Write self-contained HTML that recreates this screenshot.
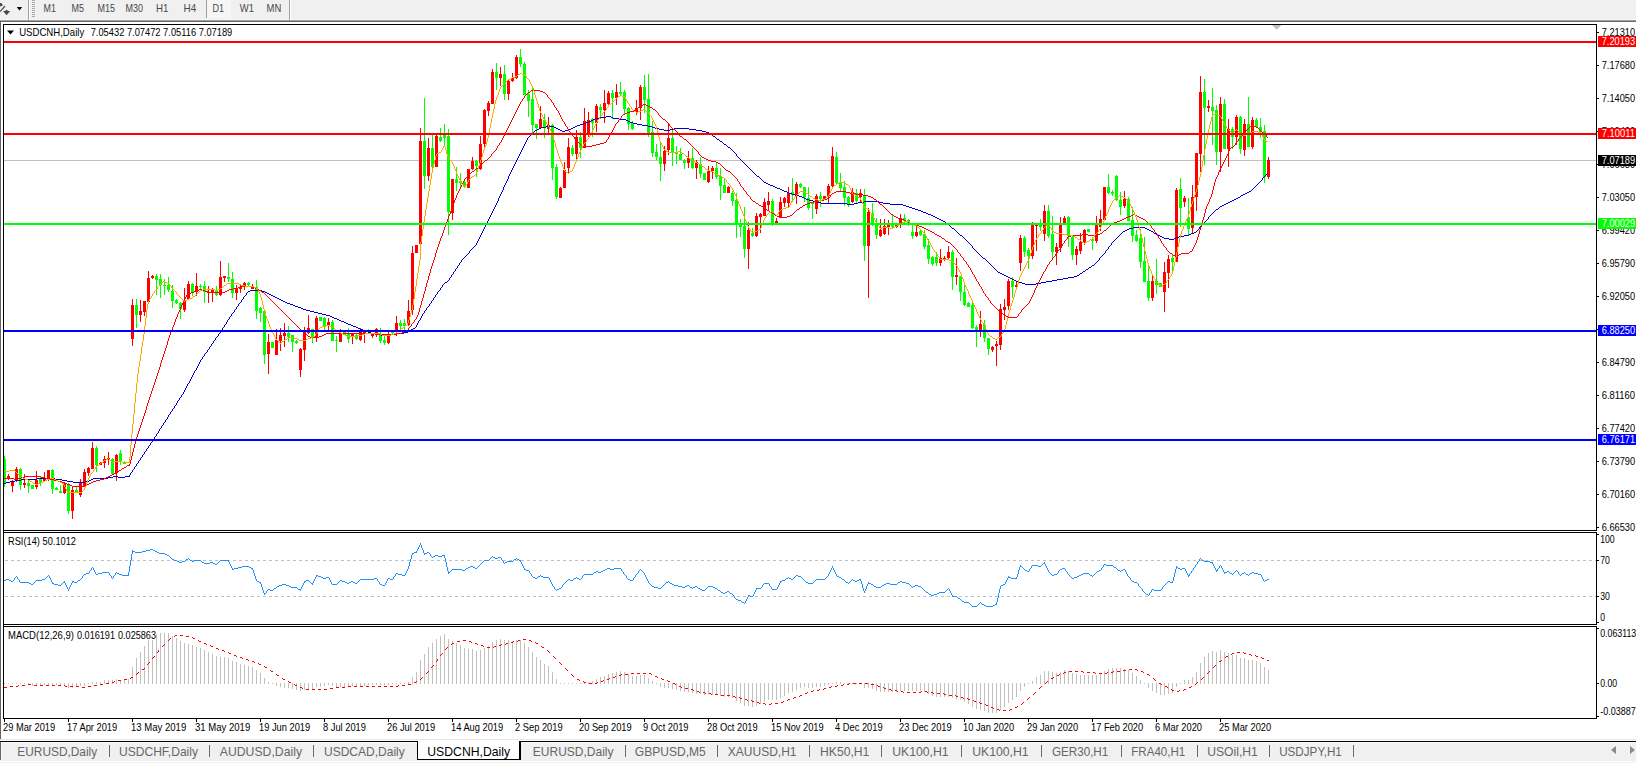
<!DOCTYPE html>
<html><head><meta charset="utf-8"><title>USDCNH,Daily</title>
<style>
html,body{margin:0;padding:0;background:#fff;}
body{width:1636px;height:763px;overflow:hidden;position:relative;font-family:"Liberation Sans", sans-serif;}
svg{position:absolute;left:0;top:0;display:block;}
text{font-family:"Liberation Sans", sans-serif;}
.ax{font-size:10.4px;fill:#000;}
.axw{font-size:10.4px;fill:#fff;}
.tf{font-size:10.4px;fill:#484848;}
.tab{font-size:12.6px;fill:#666;}
.taba{font-size:12.6px;fill:#000;}
</style></head><body>
<svg width="1636" height="763" viewBox="0 0 1636 763">
<g shape-rendering="crispEdges">
<rect x="0" y="0" width="1636" height="19" fill="#f0f0f0"/>
<rect x="0" y="19" width="1636" height="1" fill="#f8f8f8"/>
<rect x="0" y="20" width="1636" height="1" fill="#a0a0a0"/>
<rect x="0" y="21" width="1636" height="1" fill="#696969"/>
<rect x="28" y="0" width="1" height="20" fill="#a0a0a0"/>
<rect x="29" y="0" width="1" height="20" fill="#ffffff"/>
<rect x="289" y="0" width="1" height="20" fill="#a0a0a0"/>
<rect x="290" y="0" width="1" height="20" fill="#ffffff"/>
<rect x="32" y="0" width="3" height="1" fill="#a8a8a8"/>
<rect x="32" y="2" width="3" height="1" fill="#a8a8a8"/>
<rect x="32" y="4" width="3" height="1" fill="#a8a8a8"/>
<rect x="32" y="6" width="3" height="1" fill="#a8a8a8"/>
<rect x="32" y="8" width="3" height="1" fill="#a8a8a8"/>
<rect x="32" y="10" width="3" height="1" fill="#a8a8a8"/>
<rect x="32" y="12" width="3" height="1" fill="#a8a8a8"/>
<rect x="32" y="14" width="3" height="1" fill="#a8a8a8"/>
<rect x="32" y="16" width="3" height="1" fill="#a8a8a8"/>
<rect x="206" y="0" width="1" height="18" fill="#a0a0a0"/>
<rect x="207" y="0" width="24" height="18" fill="#f6f6f6"/>
<rect x="0" y="21" width="1" height="718" fill="#646464"/>
</g>
<path d="M0 3 L1.3 3 L3 5.6 L0 6.6 Z" fill="#4a4a4a"/>
<path d="M4.9 6.2 L0 11.6" stroke="#4a4a4a" stroke-width="1.3" fill="none"/>
<path d="M3 11 L10.2 11 L6.6 15.2 Z M5.6 10 L7.6 10 L7.6 11 L5.6 11 Z" fill="#4a4a4a"/>
<path d="M16.8 7 L22.2 7 L19.5 10.4 Z" fill="#000"/>
<text class="tf" x="43.6" y="12.4" textLength="12.4" lengthAdjust="spacingAndGlyphs">M1</text>
<text class="tf" x="71.5" y="12.4" textLength="12.5" lengthAdjust="spacingAndGlyphs">M5</text>
<text class="tf" x="97.5" y="12.4" textLength="17.5" lengthAdjust="spacingAndGlyphs">M15</text>
<text class="tf" x="125.5" y="12.4" textLength="17.5" lengthAdjust="spacingAndGlyphs">M30</text>
<text class="tf" x="156" y="12.4" textLength="12.4" lengthAdjust="spacingAndGlyphs">H1</text>
<text class="tf" x="183.5" y="12.4" textLength="12.7" lengthAdjust="spacingAndGlyphs">H4</text>
<text class="tf" x="212.4" y="12.4" textLength="11.6" lengthAdjust="spacingAndGlyphs">D1</text>
<text class="tf" x="239.8" y="12.4" textLength="14.2" lengthAdjust="spacingAndGlyphs">W1</text>
<text class="tf" x="266.6" y="12.4" textLength="14.7" lengthAdjust="spacingAndGlyphs">MN</text>
<g shape-rendering="crispEdges">
<rect x="3" y="24" width="1594" height="1" fill="#000"/>
<rect x="3" y="24" width="1" height="695" fill="#000"/>
<rect x="1596" y="24" width="1" height="507" fill="#000"/>
<rect x="1596" y="532" width="1" height="93" fill="#000"/>
<rect x="1596" y="626" width="1" height="93" fill="#000"/>
<rect x="3" y="530" width="1594" height="1" fill="#000"/>
<rect x="4" y="531" width="1592" height="1" fill="#fff"/>
<rect x="3" y="532" width="1594" height="1" fill="#000"/>
<rect x="3" y="624" width="1594" height="1" fill="#000"/>
<rect x="4" y="625" width="1592" height="1" fill="#fff"/>
<rect x="3" y="626" width="1594" height="1" fill="#000"/>
<rect x="3" y="718" width="1594" height="1" fill="#000"/>
<rect x="1597" y="32" width="2" height="1" fill="#000"/>
<rect x="1597" y="65" width="2" height="1" fill="#000"/>
<rect x="1597" y="98" width="2" height="1" fill="#000"/>
<rect x="1597" y="131" width="2" height="1" fill="#000"/>
<rect x="1597" y="164" width="2" height="1" fill="#000"/>
<rect x="1597" y="197" width="2" height="1" fill="#000"/>
<rect x="1597" y="230" width="2" height="1" fill="#000"/>
<rect x="1597" y="263" width="2" height="1" fill="#000"/>
<rect x="1597" y="296" width="2" height="1" fill="#000"/>
<rect x="1597" y="329" width="2" height="1" fill="#000"/>
<rect x="1597" y="362" width="2" height="1" fill="#000"/>
<rect x="1597" y="395" width="2" height="1" fill="#000"/>
<rect x="1597" y="428" width="2" height="1" fill="#000"/>
<rect x="1597" y="461" width="2" height="1" fill="#000"/>
<rect x="1597" y="494" width="2" height="1" fill="#000"/>
<rect x="1597" y="527" width="2" height="1" fill="#000"/>
<rect x="1597" y="534" width="2" height="1" fill="#000"/>
<rect x="1597" y="560" width="2" height="1" fill="#000"/>
<rect x="1597" y="596" width="2" height="1" fill="#000"/>
<rect x="1597" y="622" width="2" height="1" fill="#000"/>
<rect x="1597" y="628" width="2" height="1" fill="#000"/>
<rect x="1597" y="683" width="2" height="1" fill="#000"/>
<rect x="1597" y="716" width="2" height="1" fill="#000"/>
<rect x="4" y="719" width="1" height="3" fill="#000"/>
<rect x="68" y="719" width="1" height="3" fill="#000"/>
<rect x="132" y="719" width="1" height="3" fill="#000"/>
<rect x="196" y="719" width="1" height="3" fill="#000"/>
<rect x="260" y="719" width="1" height="3" fill="#000"/>
<rect x="324" y="719" width="1" height="3" fill="#000"/>
<rect x="388" y="719" width="1" height="3" fill="#000"/>
<rect x="452" y="719" width="1" height="3" fill="#000"/>
<rect x="516" y="719" width="1" height="3" fill="#000"/>
<rect x="580" y="719" width="1" height="3" fill="#000"/>
<rect x="644" y="719" width="1" height="3" fill="#000"/>
<rect x="708" y="719" width="1" height="3" fill="#000"/>
<rect x="772" y="719" width="1" height="3" fill="#000"/>
<rect x="836" y="719" width="1" height="3" fill="#000"/>
<rect x="900" y="719" width="1" height="3" fill="#000"/>
<rect x="964" y="719" width="1" height="3" fill="#000"/>
<rect x="1028" y="719" width="1" height="3" fill="#000"/>
<rect x="1092" y="719" width="1" height="3" fill="#000"/>
<rect x="1156" y="719" width="1" height="3" fill="#000"/>
<rect x="1220" y="719" width="1" height="3" fill="#000"/>
</g>
<g shape-rendering="crispEdges" stroke="#c0c0c0" stroke-width="1" stroke-dasharray="3 3">
<line x1="5" y1="560.5" x2="1596" y2="560.5"/>
<line x1="5" y1="596.5" x2="1596" y2="596.5"/>
</g>
<g shape-rendering="crispEdges" fill="#c0c0c0">
<rect x="4" y="683" width="1" height="1"/>
<rect x="8" y="683" width="1" height="1"/>
<rect x="12" y="683" width="1" height="1"/>
<rect x="16" y="683" width="1" height="1"/>
<rect x="20" y="683" width="1" height="1"/>
<rect x="24" y="683" width="1" height="1"/>
<rect x="28" y="683" width="1" height="1"/>
<rect x="32" y="683" width="1" height="3"/>
<rect x="36" y="683" width="1" height="2"/>
<rect x="40" y="683" width="1" height="2"/>
<rect x="44" y="683" width="1" height="2"/>
<rect x="48" y="683" width="1" height="2"/>
<rect x="52" y="683" width="1" height="2"/>
<rect x="56" y="683" width="1" height="2"/>
<rect x="60" y="683" width="1" height="2"/>
<rect x="64" y="683" width="1" height="3"/>
<rect x="68" y="683" width="1" height="5"/>
<rect x="72" y="683" width="1" height="5"/>
<rect x="76" y="683" width="1" height="3"/>
<rect x="80" y="683" width="1" height="3"/>
<rect x="84" y="683" width="1" height="3"/>
<rect x="88" y="683" width="1" height="1"/>
<rect x="92" y="682" width="1" height="2"/>
<rect x="96" y="682" width="1" height="2"/>
<rect x="100" y="682" width="1" height="2"/>
<rect x="104" y="680" width="1" height="4"/>
<rect x="108" y="680" width="1" height="4"/>
<rect x="112" y="680" width="1" height="4"/>
<rect x="116" y="679" width="1" height="5"/>
<rect x="120" y="680" width="1" height="4"/>
<rect x="124" y="680" width="1" height="4"/>
<rect x="128" y="679" width="1" height="5"/>
<rect x="132" y="667" width="1" height="17"/>
<rect x="136" y="658" width="1" height="26"/>
<rect x="140" y="652" width="1" height="32"/>
<rect x="144" y="646" width="1" height="38"/>
<rect x="148" y="640" width="1" height="44"/>
<rect x="152" y="640" width="1" height="44"/>
<rect x="156" y="634" width="1" height="50"/>
<rect x="160" y="633" width="1" height="51"/>
<rect x="164" y="633" width="1" height="51"/>
<rect x="168" y="633" width="1" height="51"/>
<rect x="172" y="636" width="1" height="48"/>
<rect x="176" y="638" width="1" height="46"/>
<rect x="180" y="641" width="1" height="43"/>
<rect x="184" y="643" width="1" height="41"/>
<rect x="188" y="644" width="1" height="40"/>
<rect x="192" y="645" width="1" height="39"/>
<rect x="196" y="647" width="1" height="37"/>
<rect x="200" y="648" width="1" height="36"/>
<rect x="204" y="650" width="1" height="34"/>
<rect x="208" y="652" width="1" height="32"/>
<rect x="212" y="654" width="1" height="30"/>
<rect x="216" y="656" width="1" height="28"/>
<rect x="220" y="657" width="1" height="27"/>
<rect x="224" y="657" width="1" height="27"/>
<rect x="228" y="658" width="1" height="26"/>
<rect x="232" y="661" width="1" height="23"/>
<rect x="236" y="662" width="1" height="22"/>
<rect x="240" y="664" width="1" height="20"/>
<rect x="244" y="665" width="1" height="19"/>
<rect x="248" y="666" width="1" height="18"/>
<rect x="252" y="667" width="1" height="17"/>
<rect x="256" y="670" width="1" height="14"/>
<rect x="260" y="673" width="1" height="11"/>
<rect x="264" y="678" width="1" height="6"/>
<rect x="268" y="682" width="1" height="2"/>
<rect x="272" y="683" width="1" height="1"/>
<rect x="276" y="683" width="1" height="3"/>
<rect x="280" y="683" width="1" height="4"/>
<rect x="284" y="683" width="1" height="5"/>
<rect x="288" y="683" width="1" height="5"/>
<rect x="292" y="683" width="1" height="6"/>
<rect x="296" y="683" width="1" height="7"/>
<rect x="300" y="683" width="1" height="8"/>
<rect x="304" y="683" width="1" height="7"/>
<rect x="308" y="683" width="1" height="6"/>
<rect x="312" y="683" width="1" height="6"/>
<rect x="316" y="683" width="1" height="4"/>
<rect x="320" y="683" width="1" height="4"/>
<rect x="324" y="683" width="1" height="3"/>
<rect x="328" y="683" width="1" height="2"/>
<rect x="332" y="683" width="1" height="3"/>
<rect x="336" y="683" width="1" height="4"/>
<rect x="340" y="683" width="1" height="4"/>
<rect x="344" y="683" width="1" height="4"/>
<rect x="348" y="683" width="1" height="3"/>
<rect x="352" y="683" width="1" height="3"/>
<rect x="356" y="683" width="1" height="3"/>
<rect x="360" y="683" width="1" height="3"/>
<rect x="364" y="683" width="1" height="3"/>
<rect x="368" y="683" width="1" height="2"/>
<rect x="372" y="683" width="1" height="2"/>
<rect x="376" y="683" width="1" height="2"/>
<rect x="380" y="683" width="1" height="2"/>
<rect x="384" y="683" width="1" height="2"/>
<rect x="388" y="683" width="1" height="2"/>
<rect x="392" y="683" width="1" height="1"/>
<rect x="396" y="683" width="1" height="1"/>
<rect x="400" y="683" width="1" height="1"/>
<rect x="404" y="683" width="1" height="1"/>
<rect x="408" y="682" width="1" height="2"/>
<rect x="412" y="677" width="1" height="7"/>
<rect x="416" y="672" width="1" height="12"/>
<rect x="420" y="660" width="1" height="24"/>
<rect x="424" y="654" width="1" height="30"/>
<rect x="428" y="647" width="1" height="37"/>
<rect x="432" y="643" width="1" height="41"/>
<rect x="436" y="639" width="1" height="45"/>
<rect x="440" y="636" width="1" height="48"/>
<rect x="444" y="634" width="1" height="50"/>
<rect x="448" y="639" width="1" height="45"/>
<rect x="452" y="641" width="1" height="43"/>
<rect x="456" y="643" width="1" height="41"/>
<rect x="460" y="645" width="1" height="39"/>
<rect x="464" y="648" width="1" height="36"/>
<rect x="468" y="649" width="1" height="35"/>
<rect x="472" y="649" width="1" height="35"/>
<rect x="476" y="651" width="1" height="33"/>
<rect x="480" y="650" width="1" height="34"/>
<rect x="484" y="648" width="1" height="36"/>
<rect x="488" y="646" width="1" height="38"/>
<rect x="492" y="642" width="1" height="42"/>
<rect x="496" y="640" width="1" height="44"/>
<rect x="500" y="639" width="1" height="45"/>
<rect x="504" y="640" width="1" height="44"/>
<rect x="508" y="640" width="1" height="44"/>
<rect x="512" y="641" width="1" height="43"/>
<rect x="516" y="640" width="1" height="44"/>
<rect x="520" y="640" width="1" height="44"/>
<rect x="524" y="643" width="1" height="41"/>
<rect x="528" y="647" width="1" height="37"/>
<rect x="532" y="652" width="1" height="32"/>
<rect x="536" y="657" width="1" height="27"/>
<rect x="540" y="660" width="1" height="24"/>
<rect x="544" y="664" width="1" height="20"/>
<rect x="548" y="666" width="1" height="18"/>
<rect x="552" y="672" width="1" height="12"/>
<rect x="556" y="679" width="1" height="5"/>
<rect x="560" y="683" width="1" height="1"/>
<rect x="564" y="683" width="1" height="1"/>
<rect x="568" y="683" width="1" height="1"/>
<rect x="572" y="683" width="1" height="1"/>
<rect x="576" y="683" width="1" height="1"/>
<rect x="580" y="683" width="1" height="1"/>
<rect x="584" y="682" width="1" height="2"/>
<rect x="588" y="682" width="1" height="2"/>
<rect x="592" y="681" width="1" height="3"/>
<rect x="596" y="679" width="1" height="5"/>
<rect x="600" y="677" width="1" height="7"/>
<rect x="604" y="676" width="1" height="8"/>
<rect x="608" y="674" width="1" height="10"/>
<rect x="612" y="673" width="1" height="11"/>
<rect x="616" y="672" width="1" height="12"/>
<rect x="620" y="671" width="1" height="13"/>
<rect x="624" y="672" width="1" height="12"/>
<rect x="628" y="674" width="1" height="10"/>
<rect x="632" y="676" width="1" height="8"/>
<rect x="636" y="676" width="1" height="8"/>
<rect x="640" y="675" width="1" height="9"/>
<rect x="644" y="675" width="1" height="9"/>
<rect x="648" y="678" width="1" height="6"/>
<rect x="652" y="681" width="1" height="3"/>
<rect x="656" y="683" width="1" height="1"/>
<rect x="660" y="683" width="1" height="4"/>
<rect x="664" y="683" width="1" height="5"/>
<rect x="668" y="683" width="1" height="5"/>
<rect x="672" y="683" width="1" height="6"/>
<rect x="676" y="683" width="1" height="7"/>
<rect x="680" y="683" width="1" height="8"/>
<rect x="684" y="683" width="1" height="9"/>
<rect x="688" y="683" width="1" height="9"/>
<rect x="692" y="683" width="1" height="10"/>
<rect x="696" y="683" width="1" height="11"/>
<rect x="700" y="683" width="1" height="11"/>
<rect x="704" y="683" width="1" height="12"/>
<rect x="708" y="683" width="1" height="12"/>
<rect x="712" y="683" width="1" height="12"/>
<rect x="716" y="683" width="1" height="12"/>
<rect x="720" y="683" width="1" height="13"/>
<rect x="724" y="683" width="1" height="14"/>
<rect x="728" y="683" width="1" height="14"/>
<rect x="732" y="683" width="1" height="15"/>
<rect x="736" y="683" width="1" height="18"/>
<rect x="740" y="683" width="1" height="20"/>
<rect x="744" y="683" width="1" height="23"/>
<rect x="748" y="683" width="1" height="23"/>
<rect x="752" y="683" width="1" height="24"/>
<rect x="756" y="683" width="1" height="23"/>
<rect x="760" y="683" width="1" height="21"/>
<rect x="764" y="683" width="1" height="19"/>
<rect x="768" y="683" width="1" height="17"/>
<rect x="772" y="683" width="1" height="17"/>
<rect x="776" y="683" width="1" height="17"/>
<rect x="780" y="683" width="1" height="15"/>
<rect x="784" y="683" width="1" height="13"/>
<rect x="788" y="683" width="1" height="10"/>
<rect x="792" y="683" width="1" height="9"/>
<rect x="796" y="683" width="1" height="7"/>
<rect x="800" y="683" width="1" height="5"/>
<rect x="804" y="683" width="1" height="4"/>
<rect x="808" y="683" width="1" height="5"/>
<rect x="812" y="683" width="1" height="5"/>
<rect x="816" y="683" width="1" height="4"/>
<rect x="820" y="683" width="1" height="4"/>
<rect x="824" y="683" width="1" height="3"/>
<rect x="828" y="683" width="1" height="2"/>
<rect x="832" y="683" width="1" height="1"/>
<rect x="836" y="682" width="1" height="2"/>
<rect x="840" y="682" width="1" height="2"/>
<rect x="844" y="683" width="1" height="1"/>
<rect x="848" y="683" width="1" height="1"/>
<rect x="852" y="683" width="1" height="1"/>
<rect x="856" y="683" width="1" height="1"/>
<rect x="860" y="683" width="1" height="1"/>
<rect x="864" y="683" width="1" height="5"/>
<rect x="868" y="683" width="1" height="5"/>
<rect x="872" y="683" width="1" height="6"/>
<rect x="876" y="683" width="1" height="8"/>
<rect x="880" y="683" width="1" height="9"/>
<rect x="884" y="683" width="1" height="9"/>
<rect x="888" y="683" width="1" height="9"/>
<rect x="892" y="683" width="1" height="9"/>
<rect x="896" y="683" width="1" height="9"/>
<rect x="900" y="683" width="1" height="8"/>
<rect x="904" y="683" width="1" height="8"/>
<rect x="908" y="683" width="1" height="8"/>
<rect x="912" y="683" width="1" height="8"/>
<rect x="916" y="683" width="1" height="8"/>
<rect x="920" y="683" width="1" height="8"/>
<rect x="924" y="683" width="1" height="9"/>
<rect x="928" y="683" width="1" height="11"/>
<rect x="932" y="683" width="1" height="13"/>
<rect x="936" y="683" width="1" height="14"/>
<rect x="940" y="683" width="1" height="14"/>
<rect x="944" y="683" width="1" height="14"/>
<rect x="948" y="683" width="1" height="14"/>
<rect x="952" y="683" width="1" height="15"/>
<rect x="956" y="683" width="1" height="16"/>
<rect x="960" y="683" width="1" height="17"/>
<rect x="964" y="683" width="1" height="19"/>
<rect x="968" y="683" width="1" height="21"/>
<rect x="972" y="683" width="1" height="24"/>
<rect x="976" y="683" width="1" height="26"/>
<rect x="980" y="683" width="1" height="27"/>
<rect x="984" y="683" width="1" height="28"/>
<rect x="988" y="683" width="1" height="30"/>
<rect x="992" y="683" width="1" height="30"/>
<rect x="996" y="683" width="1" height="30"/>
<rect x="1000" y="683" width="1" height="27"/>
<rect x="1004" y="683" width="1" height="24"/>
<rect x="1008" y="683" width="1" height="20"/>
<rect x="1012" y="683" width="1" height="17"/>
<rect x="1016" y="683" width="1" height="14"/>
<rect x="1020" y="683" width="1" height="8"/>
<rect x="1024" y="683" width="1" height="4"/>
<rect x="1028" y="683" width="1" height="1"/>
<rect x="1032" y="681" width="1" height="3"/>
<rect x="1036" y="677" width="1" height="7"/>
<rect x="1040" y="675" width="1" height="9"/>
<rect x="1044" y="671" width="1" height="13"/>
<rect x="1048" y="671" width="1" height="13"/>
<rect x="1052" y="672" width="1" height="12"/>
<rect x="1056" y="673" width="1" height="11"/>
<rect x="1060" y="672" width="1" height="12"/>
<rect x="1064" y="670" width="1" height="14"/>
<rect x="1068" y="671" width="1" height="13"/>
<rect x="1072" y="673" width="1" height="11"/>
<rect x="1076" y="674" width="1" height="10"/>
<rect x="1080" y="675" width="1" height="9"/>
<rect x="1084" y="675" width="1" height="9"/>
<rect x="1088" y="675" width="1" height="9"/>
<rect x="1092" y="675" width="1" height="9"/>
<rect x="1096" y="675" width="1" height="9"/>
<rect x="1100" y="674" width="1" height="10"/>
<rect x="1104" y="671" width="1" height="13"/>
<rect x="1108" y="669" width="1" height="15"/>
<rect x="1112" y="668" width="1" height="16"/>
<rect x="1116" y="668" width="1" height="16"/>
<rect x="1120" y="668" width="1" height="16"/>
<rect x="1124" y="669" width="1" height="15"/>
<rect x="1128" y="670" width="1" height="14"/>
<rect x="1132" y="673" width="1" height="11"/>
<rect x="1136" y="676" width="1" height="8"/>
<rect x="1140" y="680" width="1" height="4"/>
<rect x="1144" y="683" width="1" height="1"/>
<rect x="1148" y="683" width="1" height="5"/>
<rect x="1152" y="683" width="1" height="8"/>
<rect x="1156" y="683" width="1" height="10"/>
<rect x="1160" y="683" width="1" height="12"/>
<rect x="1164" y="683" width="1" height="12"/>
<rect x="1168" y="683" width="1" height="11"/>
<rect x="1172" y="683" width="1" height="10"/>
<rect x="1176" y="683" width="1" height="4"/>
<rect x="1180" y="683" width="1" height="1"/>
<rect x="1184" y="680" width="1" height="4"/>
<rect x="1188" y="680" width="1" height="4"/>
<rect x="1192" y="677" width="1" height="7"/>
<rect x="1196" y="672" width="1" height="12"/>
<rect x="1200" y="663" width="1" height="21"/>
<rect x="1204" y="657" width="1" height="27"/>
<rect x="1208" y="653" width="1" height="31"/>
<rect x="1212" y="651" width="1" height="33"/>
<rect x="1216" y="652" width="1" height="32"/>
<rect x="1220" y="650" width="1" height="34"/>
<rect x="1224" y="652" width="1" height="32"/>
<rect x="1228" y="653" width="1" height="31"/>
<rect x="1232" y="655" width="1" height="29"/>
<rect x="1236" y="655" width="1" height="29"/>
<rect x="1240" y="658" width="1" height="26"/>
<rect x="1244" y="658" width="1" height="26"/>
<rect x="1248" y="660" width="1" height="24"/>
<rect x="1252" y="660" width="1" height="24"/>
<rect x="1256" y="661" width="1" height="23"/>
<rect x="1260" y="663" width="1" height="21"/>
<rect x="1264" y="667" width="1" height="17"/>
<rect x="1268" y="670" width="1" height="14"/>
</g>
<path d="M4 687h3v1h-3zM10 686h3v1h-3zM16 686h2v1h-2zM18 685h1v1h-1zM22 685h3v1h-3zM28 684h3v1h-3zM34 685h3v1h-3zM40 685h3v1h-3zM46 685h3v1h-3zM52 685h3v1h-3zM58 685h3v1h-3zM64 685h1v1h-1zM65 686h2v1h-2zM70 686h3v1h-3zM76 686h3v1h-3zM82 687h3v1h-3zM88 686h3v1h-3zM94 685h3v1h-3zM100 684h3v1h-3zM106 683h3v1h-3zM112 682h2v1h-2zM114 681h1v1h-1zM118 680h3v1h-3zM124 679h3v1h-3zM130 678h1v1h-1zM131 677h2v1h-2zM136 674h1v1h-1zM137 673h1v1h-1zM138 672h1v1h-1zM142 669h2v1h-2zM144 668h1v1h-1zM147 664h1v1h-1zM148 663h1v1h-1zM149 662h1v1h-1zM152 658h1v1h-1zM153 657h1v1h-1zM154 656h1v1h-1zM157 652h1v1h-1zM158 651h1v1h-1zM158 650h1v1h-1zM162 646h1v1h-1zM163 645h1v1h-1zM164 644h1v1h-1zM168 640h1v1h-1zM169 639h1v1h-1zM170 638h1v1h-1zM174 636h1v1h-1zM175 635h2v1h-2zM180 635h3v1h-3zM186 636h3v1h-3zM192 637h1v1h-1zM193 638h2v1h-2zM198 640h1v1h-1zM199 641h2v1h-2zM204 643h2v1h-2zM206 644h1v1h-1zM210 645h1v1h-1zM211 646h2v1h-2zM216 648h2v1h-2zM218 649h1v1h-1zM222 650h2v1h-2zM224 651h1v1h-1zM228 652h1v1h-1zM229 653h2v1h-2zM234 655h2v1h-2zM236 656h1v1h-1zM240 657h2v1h-2zM242 658h1v1h-1zM246 659h2v1h-2zM248 660h1v1h-1zM252 661h2v1h-2zM254 662h1v1h-1zM258 663h1v1h-1zM259 664h2v1h-2zM264 666h1v1h-1zM265 667h2v1h-2zM270 670h1v1h-1zM271 671h2v1h-2zM276 674h1v1h-1zM277 675h2v1h-2zM282 678h1v1h-1zM283 679h2v1h-2zM288 681h1v1h-1zM289 682h2v1h-2zM294 684h1v1h-1zM295 685h2v1h-2zM300 687h2v1h-2zM302 688h1v1h-1zM306 689h3v1h-3zM312 689h3v1h-3zM318 689h3v1h-3zM324 689h3v1h-3zM330 688h3v1h-3zM336 687h3v1h-3zM342 687h3v1h-3zM348 686h3v1h-3zM354 686h3v1h-3zM360 686h3v1h-3zM366 686h3v1h-3zM372 686h3v1h-3zM378 686h3v1h-3zM384 686h3v1h-3zM390 686h3v1h-3zM396 686h2v1h-2zM398 685h1v1h-1zM402 685h3v1h-3zM408 684h3v1h-3zM414 682h2v1h-2zM416 681h1v1h-1zM420 679h1v1h-1zM421 678h1v1h-1zM422 677h1v1h-1zM426 673h1v1h-1zM427 672h1v1h-1zM428 671h1v1h-1zM431 667h1v1h-1zM432 666h1v1h-1zM433 665h1v1h-1zM436 661h1v1h-1zM437 660h1v1h-1zM437 659h1v1h-1zM440 655h1v1h-1zM441 654h1v1h-1zM442 653h1v1h-1zM445 649h1v1h-1zM446 648h1v1h-1zM447 647h1v1h-1zM451 644h1v1h-1zM452 643h2v1h-2zM457 641h3v1h-3zM463 640h3v1h-3zM469 641h2v1h-2zM471 642h1v1h-1zM475 643h2v1h-2zM477 644h1v1h-1zM481 645h2v1h-2zM483 646h1v1h-1zM487 647h3v1h-3zM493 647h1v1h-1zM494 646h2v1h-2zM499 645h2v1h-2zM501 644h1v1h-1zM505 644h1v1h-1zM506 643h2v1h-2zM511 642h2v1h-2zM513 641h1v1h-1zM517 641h1v1h-1zM518 640h2v1h-2zM523 639h3v1h-3zM529 640h2v1h-2zM531 641h1v1h-1zM535 642h1v1h-1zM536 643h2v1h-2zM541 646h1v1h-1zM542 647h2v1h-2zM547 650h1v1h-1zM548 651h1v1h-1zM549 652h1v1h-1zM553 656h1v1h-1zM554 657h1v1h-1zM555 658h1v1h-1zM559 662h1v1h-1zM560 663h1v1h-1zM561 664h1v1h-1zM565 668h1v1h-1zM566 669h1v1h-1zM567 670h1v1h-1zM571 674h1v1h-1zM572 675h1v1h-1zM573 676h1v1h-1zM577 679h2v1h-2zM579 680h1v1h-1zM583 681h1v1h-1zM584 682h2v1h-2zM589 683h3v1h-3zM595 683h2v1h-2zM597 682h1v1h-1zM601 681h2v1h-2zM603 680h1v1h-1zM607 679h2v1h-2zM609 678h1v1h-1zM613 677h2v1h-2zM615 676h1v1h-1zM619 675h2v1h-2zM621 674h1v1h-1zM625 674h3v1h-3zM631 673h3v1h-3zM637 673h3v1h-3zM643 673h3v1h-3zM649 673h2v1h-2zM651 674h1v1h-1zM655 676h2v1h-2zM657 677h1v1h-1zM661 678h1v1h-1zM662 679h2v1h-2zM667 680h1v1h-1zM668 681h2v1h-2zM673 683h2v1h-2zM675 684h1v1h-1zM679 686h2v1h-2zM681 687h1v1h-1zM685 688h3v1h-3zM691 689h2v1h-2zM693 690h1v1h-1zM697 691h2v1h-2zM699 692h1v1h-1zM703 692h2v1h-2zM705 693h1v1h-1zM709 693h2v1h-2zM711 694h1v1h-1zM715 694h3v1h-3zM721 695h3v1h-3zM727 695h3v1h-3zM733 696h2v1h-2zM735 697h1v1h-1zM739 697h1v1h-1zM740 698h2v1h-2zM745 699h2v1h-2zM747 700h1v1h-1zM751 700h1v1h-1zM752 701h2v1h-2zM757 702h2v1h-2zM759 703h1v1h-1zM763 703h2v1h-2zM765 704h1v1h-1zM769 704h2v1h-2zM771 703h1v1h-1zM775 703h3v1h-3zM781 702h2v1h-2zM783 701h1v1h-1zM787 700h1v1h-1zM788 699h2v1h-2zM793 698h1v1h-1zM794 697h2v1h-2zM799 696h1v1h-1zM800 695h2v1h-2zM805 693h2v1h-2zM807 692h1v1h-1zM811 691h2v1h-2zM813 690h1v1h-1zM817 690h2v1h-2zM819 689h1v1h-1zM823 689h1v1h-1zM824 688h2v1h-2zM829 687h2v1h-2zM831 686h1v1h-1zM835 686h2v1h-2zM837 685h1v1h-1zM841 685h2v1h-2zM843 684h1v1h-1zM847 684h2v1h-2zM849 683h1v1h-1zM853 683h3v1h-3zM859 683h3v1h-3zM865 683h3v1h-3zM871 684h3v1h-3zM877 685h1v1h-1zM878 686h2v1h-2zM883 687h1v1h-1zM884 688h2v1h-2zM889 689h2v1h-2zM891 690h1v1h-1zM895 690h2v1h-2zM897 691h1v1h-1zM901 691h2v1h-2zM903 692h1v1h-1zM907 692h3v1h-3zM913 692h3v1h-3zM919 692h2v1h-2zM921 691h1v1h-1zM925 691h2v1h-2zM927 692h1v1h-1zM931 692h2v1h-2zM933 693h1v1h-1zM937 693h3v1h-3zM943 693h1v1h-1zM944 694h2v1h-2zM949 695h3v1h-3zM955 695h1v1h-1zM956 696h2v1h-2zM961 697h2v1h-2zM963 698h1v1h-1zM967 698h1v1h-1zM968 699h2v1h-2zM973 700h1v1h-1zM974 701h2v1h-2zM979 702h1v1h-1zM980 703h2v1h-2zM985 704h1v1h-1zM986 705h2v1h-2zM991 707h2v1h-2zM993 708h1v1h-1zM997 709h2v1h-2zM999 710h1v1h-1zM1003 710h3v1h-3zM1009 710h1v1h-1zM1010 709h2v1h-2zM1015 707h2v1h-2zM1017 706h1v1h-1zM1021 704h1v1h-1zM1022 703h1v1h-1zM1023 702h1v1h-1zM1027 699h1v1h-1zM1028 698h1v1h-1zM1029 697h1v1h-1zM1033 694h1v1h-1zM1034 693h1v1h-1zM1035 692h1v1h-1zM1039 688h1v1h-1zM1040 687h1v1h-1zM1041 686h1v1h-1zM1045 683h1v1h-1zM1046 682h1v1h-1zM1047 681h1v1h-1zM1051 678h2v1h-2zM1053 677h1v1h-1zM1057 675h2v1h-2zM1059 674h1v1h-1zM1063 673h1v1h-1zM1064 672h2v1h-2zM1069 671h3v1h-3zM1075 671h3v1h-3zM1081 671h2v1h-2zM1083 672h1v1h-1zM1087 672h3v1h-3zM1093 672h2v1h-2zM1095 673h1v1h-1zM1099 673h3v1h-3zM1105 673h2v1h-2zM1107 672h1v1h-1zM1111 672h2v1h-2zM1113 671h1v1h-1zM1117 671h3v1h-3zM1123 670h3v1h-3zM1129 669h3v1h-3zM1135 669h2v1h-2zM1137 670h1v1h-1zM1141 671h2v1h-2zM1143 672h1v1h-1zM1147 674h2v1h-2zM1149 675h1v1h-1zM1153 678h1v1h-1zM1154 679h1v1h-1zM1155 680h1v1h-1zM1159 683h2v1h-2zM1161 684h1v1h-1zM1165 686h2v1h-2zM1167 687h1v1h-1zM1171 689h1v1h-1zM1172 690h2v1h-2zM1177 691h2v1h-2zM1179 690h1v1h-1zM1183 690h1v1h-1zM1184 689h2v1h-2zM1189 687h2v1h-2zM1191 686h1v1h-1zM1195 684h1v1h-1zM1196 683h1v1h-1zM1197 682h1v1h-1zM1201 679h1v1h-1zM1202 678h1v1h-1zM1203 677h1v1h-1zM1207 673h1v1h-1zM1208 672h1v1h-1zM1209 671h1v1h-1zM1213 667h1v1h-1zM1214 666h1v1h-1zM1215 665h1v1h-1zM1219 661h2v1h-2zM1221 660h1v1h-1zM1225 657h1v1h-1zM1226 656h2v1h-2zM1231 654h1v1h-1zM1232 653h2v1h-2zM1237 652h3v1h-3zM1243 652h1v1h-1zM1244 653h2v1h-2zM1249 654h2v1h-2zM1251 655h1v1h-1zM1255 655h1v1h-1zM1256 656h2v1h-2zM1261 657h1v1h-1zM1262 658h2v1h-2zM1267 660h2v1h-2z" fill="#ff0000" shape-rendering="crispEdges"/>
<path d="M4 580h2v1h-2zM6 579h3v1h-3zM9 580h2v1h-2zM11 581h2v1h-2zM13 580h1v1h-1zM14 579h1v1h-1zM14 578h1v1h-1zM15 577h1v1h-1zM16 576h1v1h-1zM17 577h1v2h-1zM18 579h1v1h-1zM19 580h1v2h-1zM20 582h9v1h-9zM29 583h2v1h-2zM31 584h2v1h-2zM33 583h1v1h-1zM34 582h1v1h-1zM35 581h1v1h-1zM36 580h6v1h-6zM42 579h3v1h-3zM45 578h1v1h-1zM46 577h1v1h-1zM47 576h1v1h-1zM48 575h1v1h-1zM49 576h1v2h-1zM50 578h1v2h-1zM51 580h1v2h-1zM52 582h1v2h-1zM53 583h1v1h-1zM54 584h4v1h-4zM58 585h3v1h-3zM61 584h1v1h-1zM62 583h1v1h-1zM63 582h2v1h-2zM64 581h1v1h-1zM65 583h1v2h-1zM66 585h1v2h-1zM67 587h1v2h-1zM68 589h1v2h-1zM69 588h1v1h-1zM69 587h1v1h-1zM70 586h1v1h-1zM70 585h1v1h-1zM71 584h1v1h-1zM71 583h1v1h-1zM72 582h1v1h-1zM72 581h2v1h-2zM74 582h3v1h-3zM77 581h1v1h-1zM78 580h2v1h-2zM80 579h1v1h-1zM81 578h1v1h-1zM82 577h1v1h-1zM82 576h1v1h-1zM83 575h1v1h-1zM84 574h2v1h-2zM86 573h3v1h-3zM89 572h1v1h-1zM89 571h1v1h-1zM90 570h1v1h-1zM91 569h1v1h-1zM91 568h1v1h-1zM92 567h1v1h-1zM93 568h1v2h-1zM94 570h1v2h-1zM95 572h1v2h-1zM96 574h2v1h-2zM98 573h4v1h-4zM102 572h7v1h-7zM109 573h1v2h-1zM110 575h1v1h-1zM111 576h1v2h-1zM112 578h1v1h-1zM113 577h1v1h-1zM113 576h1v1h-1zM114 575h1v1h-1zM115 574h1v1h-1zM115 573h1v1h-1zM116 572h1v1h-1zM117 573h2v1h-2zM119 574h3v1h-3zM122 575h7v1h-7zM128 574h1v1h-1zM128 573h1v1h-1zM128 572h1v1h-1zM129 571h1v1h-1zM129 570h1v1h-1zM129 569h1v1h-1zM129 568h1v1h-1zM129 567h1v1h-1zM129 566h1v1h-1zM130 565h1v1h-1zM130 564h1v1h-1zM130 563h1v1h-1zM130 562h1v1h-1zM130 561h1v1h-1zM130 560h1v1h-1zM131 559h1v1h-1zM131 558h1v1h-1zM131 557h1v1h-1zM131 556h1v1h-1zM131 555h1v1h-1zM131 554h1v1h-1zM132 553h1v1h-1zM132 552h1v1h-1zM132 551h3v1h-3zM132 550h1v1h-1zM135 552h7v1h-7zM142 551h4v1h-4zM146 550h4v1h-4zM150 549h3v1h-3zM153 550h2v1h-2zM155 551h2v1h-2zM157 552h2v1h-2zM159 553h6v1h-6zM165 554h2v1h-2zM167 555h2v1h-2zM169 556h1v1h-1zM170 557h1v1h-1zM171 558h1v1h-1zM172 559h2v1h-2zM174 560h3v1h-3zM177 561h2v1h-2zM179 562h3v1h-3zM182 561h3v1h-3zM185 560h1v1h-1zM186 559h2v1h-2zM188 558h1v1h-1zM189 559h1v1h-1zM190 560h2v1h-2zM192 561h2v1h-2zM194 560h7v1h-7zM201 561h1v1h-1zM202 562h2v1h-2zM204 563h6v1h-6zM210 562h3v1h-3zM213 563h2v1h-2zM215 564h2v1h-2zM217 563h1v1h-1zM218 562h1v1h-1zM219 561h1v1h-1zM220 560h9v1h-9zM228 561h1v1h-1zM229 562h1v2h-1zM230 564h1v2h-1zM231 566h1v2h-1zM232 568h1v2h-1zM233 569h1v1h-1zM234 568h4v1h-4zM238 567h4v1h-4zM242 566h7v1h-7zM249 567h2v1h-2zM251 568h2v1h-2zM252 569h1v1h-1zM253 570h1v3h-1zM254 573h1v3h-1zM255 576h1v3h-1zM256 579h1v2h-1zM257 581h2v1h-2zM259 582h2v1h-2zM260 583h1v1h-1zM261 584h1v3h-1zM262 587h1v3h-1zM263 590h1v3h-1zM264 593h2v1h-2zM264 594h1v1h-1zM266 592h1v1h-1zM266 591h1v1h-1zM267 590h1v1h-1zM268 589h2v1h-2zM270 590h3v1h-3zM273 589h1v1h-1zM274 588h2v1h-2zM276 587h1v1h-1zM277 586h2v1h-2zM279 585h3v1h-3zM282 584h4v1h-4zM286 585h3v1h-3zM289 586h2v1h-2zM291 587h6v1h-6zM297 588h1v1h-1zM298 589h3v1h-3zM300 590h1v1h-1zM301 588h1v1h-1zM301 587h1v1h-1zM302 586h1v1h-1zM302 585h1v1h-1zM303 584h1v1h-1zM303 583h1v1h-1zM304 582h1v1h-1zM304 581h2v1h-2zM306 580h3v1h-3zM309 581h1v1h-1zM310 582h1v1h-1zM311 583h2v1h-2zM312 584h1v1h-1zM313 582h1v1h-1zM313 581h1v1h-1zM314 580h1v1h-1zM314 579h1v1h-1zM315 578h1v1h-1zM315 577h1v1h-1zM316 576h1v1h-1zM316 575h2v1h-2zM318 576h3v1h-3zM321 577h2v1h-2zM323 578h3v1h-3zM326 577h3v1h-3zM329 578h1v2h-1zM330 580h1v2h-1zM331 582h1v2h-1zM332 584h5v1h-5zM337 583h1v1h-1zM338 582h1v1h-1zM339 581h1v1h-1zM340 580h2v1h-2zM342 581h3v1h-3zM345 582h2v1h-2zM347 583h2v1h-2zM349 582h2v1h-2zM351 581h2v1h-2zM353 582h2v1h-2zM355 583h2v1h-2zM357 582h1v1h-1zM358 581h1v1h-1zM359 580h1v1h-1zM360 579h14v1h-14zM374 578h3v1h-3zM377 579h1v2h-1zM378 581h1v1h-1zM379 582h1v2h-1zM380 584h2v1h-2zM382 585h3v1h-3zM385 584h1v1h-1zM385 583h1v1h-1zM386 582h1v1h-1zM386 581h1v1h-1zM387 580h1v1h-1zM387 579h1v1h-1zM388 578h2v1h-2zM390 579h3v1h-3zM393 578h1v1h-1zM393 577h1v1h-1zM394 576h1v1h-1zM395 575h1v1h-1zM395 574h1v1h-1zM396 573h2v1h-2zM398 574h4v1h-4zM402 575h3v1h-3zM405 574h1v1h-1zM405 573h1v1h-1zM406 572h1v1h-1zM406 571h1v1h-1zM407 570h1v1h-1zM407 569h1v1h-1zM408 568h1v1h-1zM408 567h1v1h-1zM408 566h1v1h-1zM409 565h1v1h-1zM409 564h1v1h-1zM409 563h1v1h-1zM409 562h1v1h-1zM410 561h1v1h-1zM410 560h1v1h-1zM410 559h1v1h-1zM411 558h1v1h-1zM411 557h1v1h-1zM411 556h1v1h-1zM411 555h1v1h-1zM412 554h1v1h-1zM412 553h2v1h-2zM414 552h3v1h-3zM416 551h1v1h-1zM417 550h1v1h-1zM417 549h1v1h-1zM418 548h1v1h-1zM418 547h1v1h-1zM419 546h1v1h-1zM419 545h1v1h-1zM420 544h1v1h-1zM420 543h1v1h-1zM421 545h1v3h-1zM422 548h1v2h-1zM423 550h1v3h-1zM424 553h3v1h-3zM424 554h1v1h-1zM427 552h2v1h-2zM429 553h1v1h-1zM430 554h1v2h-1zM431 556h1v1h-1zM432 557h1v1h-1zM433 556h2v1h-2zM435 555h3v1h-3zM438 556h4v1h-4zM442 555h3v1h-3zM444 556h1v2h-1zM445 558h1v4h-1zM446 562h1v5h-1zM447 567h1v4h-1zM448 571h1v3h-1zM449 572h1v1h-1zM450 571h1v1h-1zM451 570h1v1h-1zM452 569h10v1h-10zM462 570h3v1h-3zM465 569h1v1h-1zM466 568h2v1h-2zM468 567h2v1h-2zM470 566h3v1h-3zM473 567h2v1h-2zM475 568h2v1h-2zM477 567h1v1h-1zM478 566h1v1h-1zM479 565h1v1h-1zM480 564h1v1h-1zM481 563h1v1h-1zM482 562h1v1h-1zM483 561h1v1h-1zM484 560h5v1h-5zM489 559h1v1h-1zM490 558h1v1h-1zM491 557h1v1h-1zM492 556h1v1h-1zM493 557h2v1h-2zM495 558h3v1h-3zM498 557h3v1h-3zM501 558h1v2h-1zM502 560h1v1h-1zM503 561h1v2h-1zM504 563h1v1h-1zM505 562h2v1h-2zM507 561h6v1h-6zM513 560h1v1h-1zM514 559h2v1h-2zM516 558h1v1h-1zM517 559h2v1h-2zM519 560h2v1h-2zM520 561h1v1h-1zM521 562h1v2h-1zM522 564h1v2h-1zM523 566h1v2h-1zM524 568h1v2h-1zM525 569h1v1h-1zM526 570h3v1h-3zM529 571h1v2h-1zM530 573h1v1h-1zM531 574h1v2h-1zM532 576h1v1h-1zM533 577h2v1h-2zM535 578h2v1h-2zM537 577h1v1h-1zM538 576h2v1h-2zM540 575h1v1h-1zM541 576h2v1h-2zM543 577h6v1h-6zM549 578h1v2h-1zM550 580h1v2h-1zM551 582h1v2h-1zM552 584h1v2h-1zM553 586h1v1h-1zM554 587h1v2h-1zM555 589h1v1h-1zM556 590h1v1h-1zM557 589h2v1h-2zM559 588h2v1h-2zM561 587h1v1h-1zM562 586h1v1h-1zM562 585h1v1h-1zM563 584h1v1h-1zM564 583h1v1h-1zM565 582h1v1h-1zM566 581h1v1h-1zM567 580h1v1h-1zM568 579h2v1h-2zM570 580h3v1h-3zM573 579h1v1h-1zM574 578h2v1h-2zM576 577h1v1h-1zM577 578h2v1h-2zM579 579h2v1h-2zM581 578h1v1h-1zM582 577h1v1h-1zM582 576h1v1h-1zM583 575h1v1h-1zM584 574h9v1h-9zM593 573h1v1h-1zM594 572h2v1h-2zM596 571h2v1h-2zM598 572h3v1h-3zM601 571h2v1h-2zM603 570h2v1h-2zM605 569h2v1h-2zM607 568h3v1h-3zM610 569h4v1h-4zM614 568h7v1h-7zM621 569h1v2h-1zM622 571h1v1h-1zM623 572h1v2h-1zM624 574h1v1h-1zM625 575h1v1h-1zM626 576h1v2h-1zM627 578h1v1h-1zM628 579h2v1h-2zM630 580h3v1h-3zM633 579h1v1h-1zM633 578h1v1h-1zM634 577h1v1h-1zM635 576h1v1h-1zM635 575h1v1h-1zM636 574h1v1h-1zM637 573h1v1h-1zM638 572h1v1h-1zM638 571h1v1h-1zM639 570h1v1h-1zM640 569h1v1h-1zM641 570h1v1h-1zM642 571h1v1h-1zM643 572h1v1h-1zM644 573h1v2h-1zM645 575h1v2h-1zM646 577h1v2h-1zM647 579h1v2h-1zM648 581h1v2h-1zM649 583h1v1h-1zM650 584h1v1h-1zM651 585h1v1h-1zM652 586h2v1h-2zM654 587h4v1h-4zM658 588h3v1h-3zM661 587h1v1h-1zM662 586h1v1h-1zM663 585h1v1h-1zM664 584h1v1h-1zM665 583h1v1h-1zM666 582h2v1h-2zM668 581h1v1h-1zM669 582h1v1h-1zM670 583h2v1h-2zM672 584h2v1h-2zM674 585h4v1h-4zM678 586h4v1h-4zM682 587h3v1h-3zM685 586h2v1h-2zM687 585h2v1h-2zM689 586h1v1h-1zM690 587h2v1h-2zM692 588h1v1h-1zM693 587h2v1h-2zM695 586h2v1h-2zM697 587h1v1h-1zM698 588h2v1h-2zM700 589h2v1h-2zM702 590h3v1h-3zM705 589h1v1h-1zM706 588h1v1h-1zM707 587h1v1h-1zM708 586h5v1h-5zM713 587h2v1h-2zM715 588h2v1h-2zM717 589h1v1h-1zM718 590h2v1h-2zM720 591h1v1h-1zM721 592h2v1h-2zM723 593h2v1h-2zM725 592h2v1h-2zM727 591h2v1h-2zM729 592h1v1h-1zM730 593h2v1h-2zM732 594h1v1h-1zM733 595h1v1h-1zM734 596h1v2h-1zM735 598h1v1h-1zM736 599h2v1h-2zM738 600h3v1h-3zM741 601h1v1h-1zM742 602h2v1h-2zM744 603h1v1h-1zM745 602h1v1h-1zM745 601h1v1h-1zM746 600h1v1h-1zM746 599h1v1h-1zM747 598h1v1h-1zM747 597h1v1h-1zM748 596h1v1h-1zM748 595h2v1h-2zM750 596h3v1h-3zM753 595h1v1h-1zM753 594h1v1h-1zM754 593h1v1h-1zM754 592h1v1h-1zM755 591h1v1h-1zM755 590h1v1h-1zM756 589h1v1h-1zM756 588h5v1h-5zM761 587h1v1h-1zM762 586h1v1h-1zM762 585h1v1h-1zM763 584h1v1h-1zM764 583h5v1h-5zM769 584h1v2h-1zM770 586h1v1h-1zM771 587h1v2h-1zM772 589h5v1h-5zM777 588h1v1h-1zM777 587h1v1h-1zM778 586h1v1h-1zM778 585h1v1h-1zM779 584h1v1h-1zM779 583h1v1h-1zM780 582h1v1h-1zM780 581h2v1h-2zM782 580h3v1h-3zM785 579h1v1h-1zM786 578h2v1h-2zM788 577h1v1h-1zM789 578h2v1h-2zM791 579h2v1h-2zM793 578h1v1h-1zM794 577h1v1h-1zM795 576h1v1h-1zM796 575h2v1h-2zM798 576h3v1h-3zM801 577h1v1h-1zM802 578h1v1h-1zM803 579h1v1h-1zM804 580h1v1h-1zM805 581h1v1h-1zM806 582h2v1h-2zM808 583h5v1h-5zM813 582h1v1h-1zM814 581h1v1h-1zM815 580h1v1h-1zM816 579h9v1h-9zM825 578h1v1h-1zM826 577h1v1h-1zM827 576h1v1h-1zM828 575h1v1h-1zM828 574h1v1h-1zM829 573h1v1h-1zM829 572h1v1h-1zM830 571h1v1h-1zM830 570h1v1h-1zM831 569h1v1h-1zM831 568h1v1h-1zM832 567h1v1h-1zM832 566h1v1h-1zM833 568h1v2h-1zM834 570h1v2h-1zM835 572h1v2h-1zM836 574h1v2h-1zM837 576h2v1h-2zM839 577h2v1h-2zM841 578h1v1h-1zM842 579h2v1h-2zM844 580h1v1h-1zM845 581h1v1h-1zM846 582h2v1h-2zM848 583h1v1h-1zM849 582h1v1h-1zM850 581h1v1h-1zM851 580h1v1h-1zM852 579h1v1h-1zM853 580h2v1h-2zM855 581h2v1h-2zM857 580h2v1h-2zM859 579h2v1h-2zM860 580h1v1h-1zM861 581h1v3h-1zM862 584h1v4h-1zM863 588h1v3h-1zM864 591h1v2h-1zM865 590h1v1h-1zM865 589h1v1h-1zM866 588h1v1h-1zM866 587h1v1h-1zM866 586h1v1h-1zM867 585h1v1h-1zM867 584h1v1h-1zM868 583h3v1h-3zM868 582h1v1h-1zM871 584h2v1h-2zM873 585h1v1h-1zM874 586h2v1h-2zM876 587h5v1h-5zM881 586h1v1h-1zM882 585h2v1h-2zM884 584h2v1h-2zM886 583h4v1h-4zM890 584h7v1h-7zM897 583h1v1h-1zM898 582h2v1h-2zM900 581h2v1h-2zM902 582h4v1h-4zM906 583h3v1h-3zM909 584h1v1h-1zM910 585h1v1h-1zM911 586h1v1h-1zM912 587h1v1h-1zM913 586h2v1h-2zM915 585h3v1h-3zM918 586h3v1h-3zM921 587h1v1h-1zM922 588h1v1h-1zM923 589h1v1h-1zM924 590h1v1h-1zM925 591h1v1h-1zM926 592h2v1h-2zM928 593h1v1h-1zM929 594h2v1h-2zM931 595h3v1h-3zM934 594h3v1h-3zM937 593h2v1h-2zM939 592h6v1h-6zM945 591h1v1h-1zM946 590h1v1h-1zM947 589h1v1h-1zM948 588h1v1h-1zM949 589h1v2h-1zM950 591h1v2h-1zM951 593h1v2h-1zM952 595h1v2h-1zM953 596h4v1h-4zM957 597h1v1h-1zM958 598h2v1h-2zM960 599h1v1h-1zM961 600h1v1h-1zM962 601h2v1h-2zM964 602h5v1h-5zM969 603h1v1h-1zM970 604h1v1h-1zM971 605h1v1h-1zM972 606h5v1h-5zM977 605h1v1h-1zM978 604h1v1h-1zM979 603h1v1h-1zM980 602h1v1h-1zM981 603h1v1h-1zM982 604h2v1h-2zM984 605h2v1h-2zM986 606h7v1h-7zM993 605h2v1h-2zM995 604h2v1h-2zM996 603h1v1h-1zM996 602h1v1h-1zM997 601h1v1h-1zM997 600h1v1h-1zM997 599h1v1h-1zM997 598h1v1h-1zM998 597h1v1h-1zM998 596h1v1h-1zM998 595h1v1h-1zM998 594h1v1h-1zM998 593h1v1h-1zM999 592h1v1h-1zM999 591h1v1h-1zM999 590h1v1h-1zM999 589h1v1h-1zM1000 588h1v1h-1zM1000 587h1v1h-1zM1000 586h1v1h-1zM1001 585h2v1h-2zM1003 584h2v1h-2zM1005 583h1v1h-1zM1005 582h1v1h-1zM1006 581h1v1h-1zM1006 580h1v1h-1zM1007 579h1v1h-1zM1007 578h1v1h-1zM1008 577h3v1h-3zM1008 576h1v1h-1zM1011 578h6v1h-6zM1016 577h1v1h-1zM1017 576h1v1h-1zM1017 575h1v1h-1zM1017 574h1v1h-1zM1018 573h1v1h-1zM1018 572h1v1h-1zM1018 571h1v1h-1zM1018 570h1v1h-1zM1019 569h1v1h-1zM1019 568h1v1h-1zM1019 567h1v1h-1zM1020 566h2v1h-2zM1020 565h1v1h-1zM1022 567h1v1h-1zM1023 568h1v1h-1zM1024 569h1v1h-1zM1025 570h2v1h-2zM1027 571h2v1h-2zM1029 570h1v1h-1zM1029 569h1v1h-1zM1030 568h1v1h-1zM1031 567h1v1h-1zM1031 566h1v1h-1zM1032 565h6v1h-6zM1038 566h3v1h-3zM1041 565h1v1h-1zM1042 564h1v1h-1zM1043 563h2v1h-2zM1044 562h1v1h-1zM1045 564h1v2h-1zM1046 566h1v2h-1zM1047 568h1v2h-1zM1048 570h1v2h-1zM1049 572h1v1h-1zM1050 573h1v1h-1zM1051 574h1v1h-1zM1052 575h2v1h-2zM1054 574h3v1h-3zM1057 573h1v1h-1zM1058 572h1v1h-1zM1058 571h1v1h-1zM1059 570h1v1h-1zM1060 569h2v1h-2zM1062 568h3v1h-3zM1065 569h1v2h-1zM1066 571h1v1h-1zM1067 572h1v2h-1zM1068 574h1v1h-1zM1069 575h1v1h-1zM1070 576h1v1h-1zM1071 577h1v1h-1zM1072 578h2v1h-2zM1074 577h3v1h-3zM1077 576h2v1h-2zM1079 575h2v1h-2zM1081 574h2v1h-2zM1083 573h6v1h-6zM1089 574h1v1h-1zM1090 575h2v1h-2zM1092 576h1v1h-1zM1093 575h1v1h-1zM1094 574h1v1h-1zM1095 573h1v1h-1zM1096 572h1v1h-1zM1097 571h2v1h-2zM1099 570h2v1h-2zM1101 569h1v1h-1zM1101 568h1v1h-1zM1102 567h1v1h-1zM1103 566h1v1h-1zM1103 565h1v1h-1zM1104 564h2v1h-2zM1106 565h7v1h-7zM1113 566h1v1h-1zM1114 567h2v1h-2zM1116 568h1v1h-1zM1117 569h1v1h-1zM1118 570h2v1h-2zM1120 571h1v1h-1zM1121 570h2v1h-2zM1123 569h2v1h-2zM1125 570h1v2h-1zM1126 572h1v2h-1zM1127 574h1v2h-1zM1128 576h1v1h-1zM1129 577h1v1h-1zM1130 578h1v2h-1zM1131 580h1v1h-1zM1132 581h2v1h-2zM1134 582h3v1h-3zM1137 583h1v1h-1zM1138 584h1v2h-1zM1139 586h1v1h-1zM1140 587h1v1h-1zM1141 588h1v1h-1zM1142 589h1v2h-1zM1143 591h1v1h-1zM1144 592h1v1h-1zM1145 593h1v1h-1zM1146 594h2v1h-2zM1148 595h1v1h-1zM1149 594h1v1h-1zM1149 593h1v1h-1zM1150 592h1v1h-1zM1151 591h1v1h-1zM1151 590h1v1h-1zM1152 589h2v1h-2zM1154 590h7v1h-7zM1161 589h1v1h-1zM1162 588h1v1h-1zM1162 587h1v1h-1zM1163 586h1v1h-1zM1164 585h1v1h-1zM1165 584h1v1h-1zM1166 583h1v1h-1zM1167 582h1v1h-1zM1168 581h2v1h-2zM1170 582h3v1h-3zM1172 581h1v1h-1zM1173 580h1v1h-1zM1173 579h1v1h-1zM1173 578h1v1h-1zM1173 577h1v1h-1zM1174 576h1v1h-1zM1174 575h1v1h-1zM1174 574h1v1h-1zM1174 573h1v1h-1zM1175 572h1v1h-1zM1175 571h1v1h-1zM1175 570h1v1h-1zM1175 569h1v1h-1zM1176 568h1v1h-1zM1176 567h2v1h-2zM1176 566h1v1h-1zM1178 568h2v1h-2zM1180 569h2v1h-2zM1182 568h3v1h-3zM1185 569h1v2h-1zM1186 571h1v2h-1zM1187 573h1v2h-1zM1188 575h2v1h-2zM1188 576h1v1h-1zM1189 574h1v1h-1zM1190 573h1v1h-1zM1191 572h1v1h-1zM1191 571h1v1h-1zM1192 570h1v1h-1zM1193 569h1v1h-1zM1193 568h1v1h-1zM1194 567h1v1h-1zM1195 566h1v1h-1zM1195 565h1v1h-1zM1196 564h1v1h-1zM1197 563h1v1h-1zM1197 562h1v1h-1zM1198 561h1v1h-1zM1199 560h1v1h-1zM1199 559h1v1h-1zM1200 558h1v1h-1zM1201 559h1v1h-1zM1202 560h2v1h-2zM1204 561h6v1h-6zM1210 562h3v1h-3zM1212 563h1v1h-1zM1213 564h1v2h-1zM1214 566h1v2h-1zM1215 568h1v2h-1zM1216 570h2v1h-2zM1216 571h1v1h-1zM1217 569h1v1h-1zM1218 568h1v1h-1zM1219 567h1v1h-1zM1219 566h1v1h-1zM1220 565h1v1h-1zM1221 566h1v2h-1zM1222 568h1v2h-1zM1223 570h1v2h-1zM1224 572h3v1h-3zM1224 573h1v1h-1zM1227 571h2v1h-2zM1229 572h1v1h-1zM1230 573h2v1h-2zM1232 574h1v1h-1zM1233 573h1v1h-1zM1234 572h1v1h-1zM1235 571h1v1h-1zM1236 570h1v1h-1zM1237 571h1v1h-1zM1238 572h1v2h-1zM1239 574h1v1h-1zM1240 575h1v1h-1zM1241 574h1v1h-1zM1242 573h2v1h-2zM1244 572h1v1h-1zM1245 573h1v1h-1zM1246 574h2v1h-2zM1248 575h1v1h-1zM1249 574h1v1h-1zM1250 573h2v1h-2zM1252 572h2v1h-2zM1254 573h4v1h-4zM1258 574h3v1h-3zM1261 575h1v2h-1zM1262 577h1v2h-1zM1263 579h1v2h-1zM1264 581h1v1h-1zM1265 580h2v1h-2zM1267 579h2v1h-2z" fill="#1e90ff" shape-rendering="crispEdges"/>
<g shape-rendering="crispEdges">
<rect x="4" y="160" width="1592" height="1" fill="#c0c0c0"/>
</g>
<g shape-rendering="crispEdges">
<rect x="4" y="456" width="1" height="31" fill="#00ff00"/>
<rect x="4" y="459" width="2" height="25" fill="#00ff00"/>
<rect x="8" y="474" width="1" height="6" fill="#ff0000"/>
<rect x="7" y="476" width="3" height="2" fill="#ff0000"/>
<rect x="12" y="480" width="1" height="12" fill="#ff0000"/>
<rect x="11" y="481" width="3" height="5" fill="#ff0000"/>
<rect x="16" y="467" width="1" height="15" fill="#ff0000"/>
<rect x="15" y="469" width="3" height="11" fill="#ff0000"/>
<rect x="20" y="468" width="1" height="22" fill="#00ff00"/>
<rect x="19" y="469" width="3" height="16" fill="#00ff00"/>
<rect x="24" y="474" width="1" height="14" fill="#ff0000"/>
<rect x="23" y="483" width="3" height="2" fill="#ff0000"/>
<rect x="28" y="480" width="1" height="13" fill="#00ff00"/>
<rect x="27" y="483" width="3" height="3" fill="#00ff00"/>
<rect x="32" y="485" width="1" height="4" fill="#00ff00"/>
<rect x="31" y="485" width="3" height="4" fill="#00ff00"/>
<rect x="36" y="471" width="1" height="18" fill="#ff0000"/>
<rect x="35" y="480" width="3" height="7" fill="#ff0000"/>
<rect x="40" y="476" width="1" height="10" fill="#00ff00"/>
<rect x="39" y="478" width="3" height="5" fill="#00ff00"/>
<rect x="44" y="472" width="1" height="10" fill="#ff0000"/>
<rect x="43" y="478" width="3" height="3" fill="#ff0000"/>
<rect x="48" y="470" width="1" height="11" fill="#ff0000"/>
<rect x="47" y="470" width="3" height="8" fill="#ff0000"/>
<rect x="52" y="469" width="1" height="25" fill="#00ff00"/>
<rect x="51" y="470" width="3" height="19" fill="#00ff00"/>
<rect x="56" y="487" width="1" height="3" fill="#00ff00"/>
<rect x="55" y="488" width="3" height="2" fill="#00ff00"/>
<rect x="60" y="485" width="1" height="8" fill="#00ff00"/>
<rect x="59" y="491" width="3" height="2" fill="#00ff00"/>
<rect x="64" y="482" width="1" height="12" fill="#ff0000"/>
<rect x="63" y="484" width="3" height="9" fill="#ff0000"/>
<rect x="68" y="483" width="1" height="31" fill="#00ff00"/>
<rect x="67" y="485" width="3" height="26" fill="#00ff00"/>
<rect x="72" y="487" width="1" height="32" fill="#ff0000"/>
<rect x="71" y="490" width="3" height="21" fill="#ff0000"/>
<rect x="76" y="487" width="1" height="5" fill="#00ff00"/>
<rect x="75" y="490" width="3" height="2" fill="#00ff00"/>
<rect x="80" y="479" width="1" height="18" fill="#ff0000"/>
<rect x="79" y="483" width="3" height="12" fill="#ff0000"/>
<rect x="84" y="469" width="1" height="18" fill="#ff0000"/>
<rect x="83" y="472" width="3" height="14" fill="#ff0000"/>
<rect x="88" y="467" width="1" height="9" fill="#ff0000"/>
<rect x="87" y="468" width="3" height="5" fill="#ff0000"/>
<rect x="92" y="442" width="1" height="27" fill="#ff0000"/>
<rect x="91" y="448" width="3" height="21" fill="#ff0000"/>
<rect x="96" y="446" width="1" height="26" fill="#00ff00"/>
<rect x="95" y="448" width="3" height="17" fill="#00ff00"/>
<rect x="100" y="462" width="1" height="3" fill="#ff0000"/>
<rect x="99" y="463" width="3" height="2" fill="#ff0000"/>
<rect x="104" y="456" width="1" height="12" fill="#ff0000"/>
<rect x="103" y="459" width="3" height="4" fill="#ff0000"/>
<rect x="108" y="452" width="1" height="13" fill="#ff0000"/>
<rect x="107" y="458" width="3" height="2" fill="#ff0000"/>
<rect x="112" y="458" width="1" height="17" fill="#00ff00"/>
<rect x="111" y="459" width="3" height="15" fill="#00ff00"/>
<rect x="116" y="454" width="1" height="27" fill="#ff0000"/>
<rect x="115" y="455" width="3" height="18" fill="#ff0000"/>
<rect x="120" y="450" width="1" height="15" fill="#00ff00"/>
<rect x="119" y="453" width="3" height="9" fill="#00ff00"/>
<rect x="124" y="461" width="1" height="3" fill="#00ff00"/>
<rect x="123" y="462" width="3" height="2" fill="#00ff00"/>
<rect x="132" y="299" width="1" height="47" fill="#ff0000"/>
<rect x="131" y="305" width="3" height="34" fill="#ff0000"/>
<rect x="136" y="299" width="1" height="29" fill="#00ff00"/>
<rect x="135" y="305" width="3" height="10" fill="#00ff00"/>
<rect x="140" y="300" width="1" height="22" fill="#ff0000"/>
<rect x="139" y="311" width="3" height="4" fill="#ff0000"/>
<rect x="144" y="301" width="1" height="15" fill="#ff0000"/>
<rect x="143" y="301" width="3" height="11" fill="#ff0000"/>
<rect x="148" y="271" width="1" height="31" fill="#ff0000"/>
<rect x="147" y="278" width="3" height="24" fill="#ff0000"/>
<rect x="152" y="275" width="1" height="4" fill="#ff0000"/>
<rect x="151" y="276" width="3" height="2" fill="#ff0000"/>
<rect x="156" y="274" width="1" height="21" fill="#00ff00"/>
<rect x="155" y="276" width="3" height="4" fill="#00ff00"/>
<rect x="160" y="274" width="1" height="24" fill="#00ff00"/>
<rect x="159" y="279" width="3" height="6" fill="#00ff00"/>
<rect x="164" y="279" width="1" height="16" fill="#00ff00"/>
<rect x="163" y="285" width="3" height="1" fill="#00ff00"/>
<rect x="168" y="277" width="1" height="15" fill="#00ff00"/>
<rect x="167" y="285" width="3" height="5" fill="#00ff00"/>
<rect x="172" y="285" width="1" height="23" fill="#00ff00"/>
<rect x="171" y="291" width="3" height="10" fill="#00ff00"/>
<rect x="176" y="299" width="1" height="5" fill="#00ff00"/>
<rect x="175" y="300" width="3" height="3" fill="#00ff00"/>
<rect x="180" y="302" width="1" height="17" fill="#00ff00"/>
<rect x="179" y="303" width="3" height="6" fill="#00ff00"/>
<rect x="184" y="288" width="1" height="24" fill="#ff0000"/>
<rect x="183" y="300" width="3" height="10" fill="#ff0000"/>
<rect x="188" y="281" width="1" height="19" fill="#ff0000"/>
<rect x="187" y="284" width="3" height="15" fill="#ff0000"/>
<rect x="192" y="283" width="1" height="13" fill="#00ff00"/>
<rect x="191" y="284" width="3" height="8" fill="#00ff00"/>
<rect x="196" y="273" width="1" height="23" fill="#ff0000"/>
<rect x="195" y="286" width="3" height="6" fill="#ff0000"/>
<rect x="200" y="284" width="1" height="5" fill="#00ff00"/>
<rect x="199" y="286" width="3" height="1" fill="#00ff00"/>
<rect x="204" y="281" width="1" height="22" fill="#00ff00"/>
<rect x="203" y="286" width="3" height="6" fill="#00ff00"/>
<rect x="208" y="286" width="1" height="17" fill="#ff0000"/>
<rect x="207" y="292" width="3" height="1" fill="#ff0000"/>
<rect x="212" y="288" width="1" height="14" fill="#ff0000"/>
<rect x="211" y="290" width="3" height="3" fill="#ff0000"/>
<rect x="216" y="286" width="1" height="10" fill="#00ff00"/>
<rect x="215" y="290" width="3" height="5" fill="#00ff00"/>
<rect x="220" y="261" width="1" height="35" fill="#ff0000"/>
<rect x="219" y="277" width="3" height="18" fill="#ff0000"/>
<rect x="224" y="276" width="1" height="6" fill="#ff0000"/>
<rect x="223" y="276" width="3" height="2" fill="#ff0000"/>
<rect x="228" y="263" width="1" height="19" fill="#00ff00"/>
<rect x="227" y="277" width="3" height="2" fill="#00ff00"/>
<rect x="232" y="272" width="1" height="26" fill="#00ff00"/>
<rect x="231" y="279" width="3" height="14" fill="#00ff00"/>
<rect x="236" y="285" width="1" height="15" fill="#ff0000"/>
<rect x="235" y="288" width="3" height="5" fill="#ff0000"/>
<rect x="240" y="285" width="1" height="8" fill="#ff0000"/>
<rect x="239" y="287" width="3" height="2" fill="#ff0000"/>
<rect x="244" y="282" width="1" height="8" fill="#ff0000"/>
<rect x="243" y="283" width="3" height="3" fill="#ff0000"/>
<rect x="248" y="282" width="1" height="4" fill="#00ff00"/>
<rect x="247" y="283" width="3" height="2" fill="#00ff00"/>
<rect x="252" y="284" width="1" height="5" fill="#ff0000"/>
<rect x="251" y="286" width="3" height="3" fill="#ff0000"/>
<rect x="256" y="280" width="1" height="39" fill="#00ff00"/>
<rect x="255" y="287" width="3" height="24" fill="#00ff00"/>
<rect x="260" y="307" width="1" height="15" fill="#00ff00"/>
<rect x="259" y="308" width="3" height="5" fill="#00ff00"/>
<rect x="264" y="311" width="1" height="53" fill="#00ff00"/>
<rect x="263" y="311" width="3" height="44" fill="#00ff00"/>
<rect x="268" y="334" width="1" height="40" fill="#ff0000"/>
<rect x="267" y="342" width="3" height="12" fill="#ff0000"/>
<rect x="272" y="342" width="1" height="6" fill="#00ff00"/>
<rect x="271" y="342" width="3" height="6" fill="#00ff00"/>
<rect x="276" y="329" width="1" height="26" fill="#ff0000"/>
<rect x="275" y="340" width="3" height="15" fill="#ff0000"/>
<rect x="280" y="328" width="1" height="23" fill="#ff0000"/>
<rect x="279" y="335" width="3" height="6" fill="#ff0000"/>
<rect x="284" y="323" width="1" height="24" fill="#ff0000"/>
<rect x="283" y="333" width="3" height="3" fill="#ff0000"/>
<rect x="288" y="326" width="1" height="16" fill="#00ff00"/>
<rect x="287" y="333" width="3" height="4" fill="#00ff00"/>
<rect x="292" y="335" width="1" height="17" fill="#00ff00"/>
<rect x="291" y="335" width="3" height="7" fill="#00ff00"/>
<rect x="296" y="340" width="1" height="4" fill="#00ff00"/>
<rect x="295" y="341" width="3" height="2" fill="#00ff00"/>
<rect x="300" y="348" width="1" height="29" fill="#ff0000"/>
<rect x="299" y="349" width="3" height="21" fill="#ff0000"/>
<rect x="304" y="327" width="1" height="34" fill="#ff0000"/>
<rect x="303" y="331" width="3" height="19" fill="#ff0000"/>
<rect x="308" y="315" width="1" height="19" fill="#ff0000"/>
<rect x="307" y="328" width="3" height="5" fill="#ff0000"/>
<rect x="312" y="329" width="1" height="14" fill="#00ff00"/>
<rect x="311" y="329" width="3" height="9" fill="#00ff00"/>
<rect x="316" y="316" width="1" height="26" fill="#ff0000"/>
<rect x="315" y="318" width="3" height="20" fill="#ff0000"/>
<rect x="320" y="317" width="1" height="4" fill="#00ff00"/>
<rect x="319" y="317" width="3" height="4" fill="#00ff00"/>
<rect x="324" y="317" width="1" height="13" fill="#00ff00"/>
<rect x="323" y="318" width="3" height="8" fill="#00ff00"/>
<rect x="328" y="318" width="1" height="12" fill="#ff0000"/>
<rect x="327" y="322" width="3" height="3" fill="#ff0000"/>
<rect x="332" y="320" width="1" height="21" fill="#00ff00"/>
<rect x="331" y="322" width="3" height="19" fill="#00ff00"/>
<rect x="336" y="336" width="1" height="16" fill="#00ff00"/>
<rect x="335" y="340" width="3" height="1" fill="#00ff00"/>
<rect x="340" y="329" width="1" height="13" fill="#ff0000"/>
<rect x="339" y="333" width="3" height="9" fill="#ff0000"/>
<rect x="344" y="332" width="1" height="3" fill="#00ff00"/>
<rect x="343" y="332" width="3" height="3" fill="#00ff00"/>
<rect x="348" y="328" width="1" height="15" fill="#00ff00"/>
<rect x="347" y="334" width="3" height="5" fill="#00ff00"/>
<rect x="352" y="333" width="1" height="11" fill="#ff0000"/>
<rect x="351" y="334" width="3" height="3" fill="#ff0000"/>
<rect x="356" y="333" width="1" height="7" fill="#00ff00"/>
<rect x="355" y="335" width="3" height="4" fill="#00ff00"/>
<rect x="360" y="328" width="1" height="13" fill="#ff0000"/>
<rect x="359" y="332" width="3" height="8" fill="#ff0000"/>
<rect x="364" y="332" width="1" height="11" fill="#ff0000"/>
<rect x="363" y="332" width="3" height="1" fill="#ff0000"/>
<rect x="368" y="329" width="1" height="4" fill="#00ff00"/>
<rect x="367" y="330" width="3" height="2" fill="#00ff00"/>
<rect x="372" y="333" width="1" height="5" fill="#ff0000"/>
<rect x="371" y="333" width="3" height="3" fill="#ff0000"/>
<rect x="376" y="328" width="1" height="9" fill="#ff0000"/>
<rect x="375" y="329" width="3" height="5" fill="#ff0000"/>
<rect x="380" y="328" width="1" height="15" fill="#00ff00"/>
<rect x="379" y="335" width="3" height="6" fill="#00ff00"/>
<rect x="384" y="336" width="1" height="9" fill="#00ff00"/>
<rect x="383" y="340" width="3" height="3" fill="#00ff00"/>
<rect x="388" y="332" width="1" height="12" fill="#ff0000"/>
<rect x="387" y="335" width="3" height="8" fill="#ff0000"/>
<rect x="392" y="331" width="1" height="3" fill="#00ff00"/>
<rect x="391" y="332" width="3" height="1" fill="#00ff00"/>
<rect x="396" y="316" width="1" height="20" fill="#ff0000"/>
<rect x="395" y="323" width="3" height="9" fill="#ff0000"/>
<rect x="400" y="320" width="1" height="10" fill="#00ff00"/>
<rect x="399" y="323" width="3" height="3" fill="#00ff00"/>
<rect x="404" y="319" width="1" height="11" fill="#00ff00"/>
<rect x="403" y="323" width="3" height="3" fill="#00ff00"/>
<rect x="408" y="300" width="1" height="26" fill="#ff0000"/>
<rect x="407" y="311" width="3" height="14" fill="#ff0000"/>
<rect x="412" y="246" width="1" height="69" fill="#ff0000"/>
<rect x="411" y="253" width="3" height="57" fill="#ff0000"/>
<rect x="416" y="245" width="1" height="8" fill="#ff0000"/>
<rect x="415" y="245" width="3" height="8" fill="#ff0000"/>
<rect x="420" y="128" width="1" height="122" fill="#ff0000"/>
<rect x="419" y="141" width="3" height="103" fill="#ff0000"/>
<rect x="424" y="98" width="1" height="91" fill="#00ff00"/>
<rect x="423" y="141" width="3" height="35" fill="#00ff00"/>
<rect x="428" y="138" width="1" height="43" fill="#ff0000"/>
<rect x="427" y="148" width="3" height="28" fill="#ff0000"/>
<rect x="432" y="135" width="1" height="34" fill="#00ff00"/>
<rect x="431" y="148" width="3" height="19" fill="#00ff00"/>
<rect x="436" y="134" width="1" height="33" fill="#ff0000"/>
<rect x="435" y="136" width="3" height="31" fill="#ff0000"/>
<rect x="440" y="128" width="1" height="14" fill="#00ff00"/>
<rect x="439" y="137" width="3" height="4" fill="#00ff00"/>
<rect x="444" y="124" width="1" height="22" fill="#00ff00"/>
<rect x="443" y="135" width="3" height="3" fill="#00ff00"/>
<rect x="448" y="129" width="1" height="106" fill="#00ff00"/>
<rect x="447" y="136" width="3" height="76" fill="#00ff00"/>
<rect x="452" y="179" width="1" height="41" fill="#ff0000"/>
<rect x="451" y="179" width="3" height="34" fill="#ff0000"/>
<rect x="456" y="167" width="1" height="24" fill="#00ff00"/>
<rect x="455" y="179" width="3" height="4" fill="#00ff00"/>
<rect x="460" y="173" width="1" height="14" fill="#00ff00"/>
<rect x="459" y="181" width="3" height="2" fill="#00ff00"/>
<rect x="464" y="181" width="1" height="6" fill="#00ff00"/>
<rect x="463" y="182" width="3" height="4" fill="#00ff00"/>
<rect x="468" y="169" width="1" height="19" fill="#ff0000"/>
<rect x="467" y="169" width="3" height="19" fill="#ff0000"/>
<rect x="472" y="157" width="1" height="13" fill="#ff0000"/>
<rect x="471" y="161" width="3" height="8" fill="#ff0000"/>
<rect x="476" y="160" width="1" height="17" fill="#00ff00"/>
<rect x="475" y="161" width="3" height="5" fill="#00ff00"/>
<rect x="480" y="136" width="1" height="34" fill="#ff0000"/>
<rect x="479" y="144" width="3" height="25" fill="#ff0000"/>
<rect x="484" y="109" width="1" height="40" fill="#ff0000"/>
<rect x="483" y="110" width="3" height="34" fill="#ff0000"/>
<rect x="488" y="101" width="1" height="15" fill="#ff0000"/>
<rect x="487" y="103" width="3" height="8" fill="#ff0000"/>
<rect x="492" y="69" width="1" height="35" fill="#ff0000"/>
<rect x="491" y="72" width="3" height="32" fill="#ff0000"/>
<rect x="496" y="63" width="1" height="27" fill="#00ff00"/>
<rect x="495" y="72" width="3" height="6" fill="#00ff00"/>
<rect x="500" y="67" width="1" height="19" fill="#ff0000"/>
<rect x="499" y="74" width="3" height="4" fill="#ff0000"/>
<rect x="504" y="65" width="1" height="35" fill="#00ff00"/>
<rect x="503" y="74" width="3" height="20" fill="#00ff00"/>
<rect x="508" y="80" width="1" height="20" fill="#ff0000"/>
<rect x="507" y="81" width="3" height="13" fill="#ff0000"/>
<rect x="512" y="73" width="1" height="9" fill="#ff0000"/>
<rect x="511" y="78" width="3" height="3" fill="#ff0000"/>
<rect x="516" y="55" width="1" height="24" fill="#ff0000"/>
<rect x="515" y="57" width="3" height="21" fill="#ff0000"/>
<rect x="520" y="49" width="1" height="18" fill="#00ff00"/>
<rect x="519" y="57" width="3" height="7" fill="#00ff00"/>
<rect x="524" y="62" width="1" height="33" fill="#00ff00"/>
<rect x="523" y="64" width="3" height="31" fill="#00ff00"/>
<rect x="528" y="90" width="1" height="27" fill="#00ff00"/>
<rect x="527" y="94" width="3" height="7" fill="#00ff00"/>
<rect x="532" y="87" width="1" height="46" fill="#00ff00"/>
<rect x="531" y="99" width="3" height="26" fill="#00ff00"/>
<rect x="536" y="124" width="1" height="15" fill="#00ff00"/>
<rect x="535" y="124" width="3" height="4" fill="#00ff00"/>
<rect x="540" y="106" width="1" height="22" fill="#ff0000"/>
<rect x="539" y="119" width="3" height="9" fill="#ff0000"/>
<rect x="544" y="114" width="1" height="24" fill="#00ff00"/>
<rect x="543" y="120" width="3" height="7" fill="#00ff00"/>
<rect x="548" y="117" width="1" height="16" fill="#ff0000"/>
<rect x="547" y="125" width="3" height="4" fill="#ff0000"/>
<rect x="552" y="124" width="1" height="56" fill="#00ff00"/>
<rect x="551" y="125" width="3" height="43" fill="#00ff00"/>
<rect x="556" y="164" width="1" height="35" fill="#00ff00"/>
<rect x="555" y="167" width="3" height="30" fill="#00ff00"/>
<rect x="560" y="187" width="1" height="11" fill="#ff0000"/>
<rect x="559" y="188" width="3" height="10" fill="#ff0000"/>
<rect x="564" y="162" width="1" height="26" fill="#ff0000"/>
<rect x="563" y="170" width="3" height="18" fill="#ff0000"/>
<rect x="568" y="138" width="1" height="35" fill="#ff0000"/>
<rect x="567" y="147" width="3" height="21" fill="#ff0000"/>
<rect x="572" y="145" width="1" height="11" fill="#00ff00"/>
<rect x="571" y="148" width="3" height="6" fill="#00ff00"/>
<rect x="576" y="130" width="1" height="32" fill="#ff0000"/>
<rect x="575" y="137" width="3" height="17" fill="#ff0000"/>
<rect x="580" y="132" width="1" height="26" fill="#00ff00"/>
<rect x="579" y="137" width="3" height="11" fill="#00ff00"/>
<rect x="584" y="108" width="1" height="40" fill="#ff0000"/>
<rect x="583" y="121" width="3" height="27" fill="#ff0000"/>
<rect x="588" y="112" width="1" height="25" fill="#ff0000"/>
<rect x="587" y="120" width="3" height="13" fill="#ff0000"/>
<rect x="592" y="118" width="1" height="19" fill="#00ff00"/>
<rect x="591" y="119" width="3" height="4" fill="#00ff00"/>
<rect x="596" y="104" width="1" height="28" fill="#ff0000"/>
<rect x="595" y="106" width="3" height="17" fill="#ff0000"/>
<rect x="600" y="104" width="1" height="15" fill="#00ff00"/>
<rect x="599" y="107" width="3" height="3" fill="#00ff00"/>
<rect x="604" y="90" width="1" height="33" fill="#ff0000"/>
<rect x="603" y="103" width="3" height="7" fill="#ff0000"/>
<rect x="608" y="91" width="1" height="14" fill="#ff0000"/>
<rect x="607" y="93" width="3" height="11" fill="#ff0000"/>
<rect x="612" y="90" width="1" height="29" fill="#00ff00"/>
<rect x="611" y="93" width="3" height="5" fill="#00ff00"/>
<rect x="616" y="84" width="1" height="21" fill="#ff0000"/>
<rect x="615" y="92" width="3" height="6" fill="#ff0000"/>
<rect x="620" y="82" width="1" height="14" fill="#00ff00"/>
<rect x="619" y="92" width="3" height="2" fill="#00ff00"/>
<rect x="624" y="90" width="1" height="24" fill="#00ff00"/>
<rect x="623" y="92" width="3" height="17" fill="#00ff00"/>
<rect x="628" y="107" width="1" height="23" fill="#00ff00"/>
<rect x="627" y="108" width="3" height="16" fill="#00ff00"/>
<rect x="632" y="121" width="1" height="9" fill="#00ff00"/>
<rect x="631" y="123" width="3" height="6" fill="#00ff00"/>
<rect x="636" y="100" width="1" height="15" fill="#ff0000"/>
<rect x="635" y="108" width="3" height="4" fill="#ff0000"/>
<rect x="640" y="85" width="1" height="35" fill="#ff0000"/>
<rect x="639" y="87" width="3" height="21" fill="#ff0000"/>
<rect x="644" y="75" width="1" height="38" fill="#00ff00"/>
<rect x="643" y="87" width="3" height="13" fill="#00ff00"/>
<rect x="648" y="74" width="1" height="63" fill="#00ff00"/>
<rect x="647" y="99" width="3" height="34" fill="#00ff00"/>
<rect x="652" y="121" width="1" height="36" fill="#00ff00"/>
<rect x="651" y="132" width="3" height="21" fill="#00ff00"/>
<rect x="656" y="144" width="1" height="16" fill="#00ff00"/>
<rect x="655" y="152" width="3" height="5" fill="#00ff00"/>
<rect x="660" y="143" width="1" height="38" fill="#00ff00"/>
<rect x="659" y="157" width="3" height="7" fill="#00ff00"/>
<rect x="664" y="146" width="1" height="25" fill="#ff0000"/>
<rect x="663" y="151" width="3" height="13" fill="#ff0000"/>
<rect x="668" y="124" width="1" height="31" fill="#ff0000"/>
<rect x="667" y="138" width="3" height="12" fill="#ff0000"/>
<rect x="672" y="130" width="1" height="36" fill="#00ff00"/>
<rect x="671" y="138" width="3" height="15" fill="#00ff00"/>
<rect x="676" y="146" width="1" height="18" fill="#00ff00"/>
<rect x="675" y="152" width="3" height="2" fill="#00ff00"/>
<rect x="680" y="148" width="1" height="12" fill="#00ff00"/>
<rect x="679" y="154" width="3" height="6" fill="#00ff00"/>
<rect x="684" y="159" width="1" height="10" fill="#00ff00"/>
<rect x="683" y="160" width="3" height="3" fill="#00ff00"/>
<rect x="688" y="151" width="1" height="17" fill="#ff0000"/>
<rect x="687" y="158" width="3" height="5" fill="#ff0000"/>
<rect x="692" y="148" width="1" height="21" fill="#00ff00"/>
<rect x="691" y="158" width="3" height="10" fill="#00ff00"/>
<rect x="696" y="160" width="1" height="19" fill="#ff0000"/>
<rect x="695" y="162" width="3" height="6" fill="#ff0000"/>
<rect x="700" y="157" width="1" height="21" fill="#00ff00"/>
<rect x="699" y="164" width="3" height="10" fill="#00ff00"/>
<rect x="704" y="173" width="1" height="7" fill="#00ff00"/>
<rect x="703" y="173" width="3" height="7" fill="#00ff00"/>
<rect x="708" y="166" width="1" height="17" fill="#ff0000"/>
<rect x="707" y="171" width="3" height="11" fill="#ff0000"/>
<rect x="712" y="166" width="1" height="13" fill="#ff0000"/>
<rect x="711" y="168" width="3" height="3" fill="#ff0000"/>
<rect x="716" y="162" width="1" height="17" fill="#00ff00"/>
<rect x="715" y="168" width="3" height="9" fill="#00ff00"/>
<rect x="720" y="168" width="1" height="32" fill="#00ff00"/>
<rect x="719" y="176" width="3" height="10" fill="#00ff00"/>
<rect x="724" y="179" width="1" height="14" fill="#00ff00"/>
<rect x="723" y="185" width="3" height="8" fill="#00ff00"/>
<rect x="728" y="186" width="1" height="7" fill="#ff0000"/>
<rect x="727" y="187" width="3" height="6" fill="#ff0000"/>
<rect x="732" y="191" width="1" height="15" fill="#00ff00"/>
<rect x="731" y="193" width="3" height="8" fill="#00ff00"/>
<rect x="736" y="193" width="1" height="45" fill="#00ff00"/>
<rect x="735" y="200" width="3" height="24" fill="#00ff00"/>
<rect x="740" y="219" width="1" height="18" fill="#00ff00"/>
<rect x="739" y="224" width="3" height="3" fill="#00ff00"/>
<rect x="744" y="207" width="1" height="51" fill="#00ff00"/>
<rect x="743" y="226" width="3" height="23" fill="#00ff00"/>
<rect x="748" y="222" width="1" height="47" fill="#ff0000"/>
<rect x="747" y="230" width="3" height="19" fill="#ff0000"/>
<rect x="752" y="228" width="1" height="9" fill="#00ff00"/>
<rect x="751" y="233" width="3" height="3" fill="#00ff00"/>
<rect x="756" y="213" width="1" height="24" fill="#ff0000"/>
<rect x="755" y="216" width="3" height="20" fill="#ff0000"/>
<rect x="760" y="213" width="1" height="20" fill="#ff0000"/>
<rect x="759" y="214" width="3" height="3" fill="#ff0000"/>
<rect x="764" y="198" width="1" height="18" fill="#ff0000"/>
<rect x="763" y="202" width="3" height="14" fill="#ff0000"/>
<rect x="768" y="192" width="1" height="19" fill="#ff0000"/>
<rect x="767" y="201" width="3" height="4" fill="#ff0000"/>
<rect x="772" y="199" width="1" height="27" fill="#00ff00"/>
<rect x="771" y="201" width="3" height="22" fill="#00ff00"/>
<rect x="776" y="218" width="1" height="5" fill="#ff0000"/>
<rect x="775" y="221" width="3" height="2" fill="#ff0000"/>
<rect x="780" y="197" width="1" height="21" fill="#ff0000"/>
<rect x="779" y="202" width="3" height="15" fill="#ff0000"/>
<rect x="784" y="197" width="1" height="10" fill="#ff0000"/>
<rect x="783" y="198" width="3" height="5" fill="#ff0000"/>
<rect x="788" y="187" width="1" height="20" fill="#ff0000"/>
<rect x="787" y="193" width="3" height="10" fill="#ff0000"/>
<rect x="792" y="178" width="1" height="24" fill="#00ff00"/>
<rect x="791" y="192" width="3" height="3" fill="#00ff00"/>
<rect x="796" y="182" width="1" height="22" fill="#ff0000"/>
<rect x="795" y="184" width="3" height="11" fill="#ff0000"/>
<rect x="800" y="183" width="1" height="5" fill="#00ff00"/>
<rect x="799" y="184" width="3" height="3" fill="#00ff00"/>
<rect x="804" y="187" width="1" height="15" fill="#00ff00"/>
<rect x="803" y="187" width="3" height="10" fill="#00ff00"/>
<rect x="808" y="187" width="1" height="23" fill="#00ff00"/>
<rect x="807" y="198" width="3" height="10" fill="#00ff00"/>
<rect x="812" y="202" width="1" height="17" fill="#00ff00"/>
<rect x="811" y="202" width="3" height="2" fill="#00ff00"/>
<rect x="816" y="194" width="1" height="20" fill="#ff0000"/>
<rect x="815" y="196" width="3" height="13" fill="#ff0000"/>
<rect x="820" y="192" width="1" height="15" fill="#00ff00"/>
<rect x="819" y="196" width="3" height="3" fill="#00ff00"/>
<rect x="824" y="196" width="1" height="4" fill="#ff0000"/>
<rect x="823" y="196" width="3" height="4" fill="#ff0000"/>
<rect x="828" y="184" width="1" height="19" fill="#ff0000"/>
<rect x="827" y="186" width="3" height="10" fill="#ff0000"/>
<rect x="832" y="147" width="1" height="42" fill="#ff0000"/>
<rect x="831" y="156" width="3" height="30" fill="#ff0000"/>
<rect x="836" y="152" width="1" height="32" fill="#00ff00"/>
<rect x="835" y="157" width="3" height="26" fill="#00ff00"/>
<rect x="840" y="173" width="1" height="18" fill="#00ff00"/>
<rect x="839" y="183" width="3" height="5" fill="#00ff00"/>
<rect x="844" y="181" width="1" height="25" fill="#00ff00"/>
<rect x="843" y="187" width="3" height="11" fill="#00ff00"/>
<rect x="848" y="196" width="1" height="11" fill="#00ff00"/>
<rect x="847" y="197" width="3" height="8" fill="#00ff00"/>
<rect x="852" y="188" width="1" height="15" fill="#ff0000"/>
<rect x="851" y="192" width="3" height="10" fill="#ff0000"/>
<rect x="856" y="189" width="1" height="14" fill="#00ff00"/>
<rect x="855" y="193" width="3" height="8" fill="#00ff00"/>
<rect x="860" y="189" width="1" height="13" fill="#ff0000"/>
<rect x="859" y="193" width="3" height="4" fill="#ff0000"/>
<rect x="864" y="189" width="1" height="72" fill="#00ff00"/>
<rect x="863" y="196" width="3" height="50" fill="#00ff00"/>
<rect x="868" y="208" width="1" height="90" fill="#ff0000"/>
<rect x="867" y="212" width="3" height="34" fill="#ff0000"/>
<rect x="872" y="203" width="1" height="23" fill="#00ff00"/>
<rect x="871" y="213" width="3" height="12" fill="#00ff00"/>
<rect x="876" y="218" width="1" height="21" fill="#00ff00"/>
<rect x="875" y="224" width="3" height="11" fill="#00ff00"/>
<rect x="880" y="219" width="1" height="18" fill="#ff0000"/>
<rect x="879" y="230" width="3" height="6" fill="#ff0000"/>
<rect x="884" y="219" width="1" height="16" fill="#ff0000"/>
<rect x="883" y="226" width="3" height="8" fill="#ff0000"/>
<rect x="888" y="220" width="1" height="15" fill="#ff0000"/>
<rect x="887" y="225" width="3" height="3" fill="#ff0000"/>
<rect x="892" y="214" width="1" height="14" fill="#00ff00"/>
<rect x="891" y="224" width="3" height="3" fill="#00ff00"/>
<rect x="896" y="224" width="1" height="4" fill="#ff0000"/>
<rect x="895" y="224" width="3" height="3" fill="#ff0000"/>
<rect x="900" y="214" width="1" height="14" fill="#ff0000"/>
<rect x="899" y="218" width="3" height="6" fill="#ff0000"/>
<rect x="904" y="214" width="1" height="9" fill="#00ff00"/>
<rect x="903" y="218" width="3" height="3" fill="#00ff00"/>
<rect x="908" y="219" width="1" height="7" fill="#00ff00"/>
<rect x="907" y="220" width="3" height="4" fill="#00ff00"/>
<rect x="912" y="225" width="1" height="14" fill="#00ff00"/>
<rect x="911" y="232" width="3" height="4" fill="#00ff00"/>
<rect x="916" y="226" width="1" height="11" fill="#ff0000"/>
<rect x="915" y="232" width="3" height="4" fill="#ff0000"/>
<rect x="920" y="229" width="1" height="7" fill="#00ff00"/>
<rect x="919" y="231" width="3" height="4" fill="#00ff00"/>
<rect x="924" y="230" width="1" height="19" fill="#00ff00"/>
<rect x="923" y="234" width="3" height="13" fill="#00ff00"/>
<rect x="928" y="239" width="1" height="25" fill="#00ff00"/>
<rect x="927" y="245" width="3" height="14" fill="#00ff00"/>
<rect x="932" y="256" width="1" height="10" fill="#00ff00"/>
<rect x="931" y="257" width="3" height="7" fill="#00ff00"/>
<rect x="936" y="252" width="1" height="14" fill="#00ff00"/>
<rect x="935" y="257" width="3" height="6" fill="#00ff00"/>
<rect x="940" y="249" width="1" height="17" fill="#ff0000"/>
<rect x="939" y="258" width="3" height="5" fill="#ff0000"/>
<rect x="944" y="256" width="1" height="5" fill="#ff0000"/>
<rect x="943" y="258" width="3" height="2" fill="#ff0000"/>
<rect x="948" y="246" width="1" height="14" fill="#ff0000"/>
<rect x="947" y="252" width="3" height="6" fill="#ff0000"/>
<rect x="952" y="250" width="1" height="40" fill="#00ff00"/>
<rect x="951" y="252" width="3" height="25" fill="#00ff00"/>
<rect x="956" y="258" width="1" height="27" fill="#ff0000"/>
<rect x="955" y="275" width="3" height="2" fill="#ff0000"/>
<rect x="960" y="276" width="1" height="25" fill="#00ff00"/>
<rect x="959" y="276" width="3" height="16" fill="#00ff00"/>
<rect x="964" y="285" width="1" height="21" fill="#00ff00"/>
<rect x="963" y="292" width="3" height="13" fill="#00ff00"/>
<rect x="968" y="302" width="1" height="5" fill="#00ff00"/>
<rect x="967" y="303" width="3" height="4" fill="#00ff00"/>
<rect x="972" y="303" width="1" height="26" fill="#00ff00"/>
<rect x="971" y="305" width="3" height="23" fill="#00ff00"/>
<rect x="976" y="325" width="1" height="22" fill="#00ff00"/>
<rect x="975" y="327" width="3" height="4" fill="#00ff00"/>
<rect x="980" y="311" width="1" height="26" fill="#ff0000"/>
<rect x="979" y="324" width="3" height="7" fill="#ff0000"/>
<rect x="984" y="320" width="1" height="22" fill="#00ff00"/>
<rect x="983" y="325" width="3" height="13" fill="#00ff00"/>
<rect x="988" y="338" width="1" height="17" fill="#00ff00"/>
<rect x="987" y="338" width="3" height="11" fill="#00ff00"/>
<rect x="992" y="346" width="1" height="6" fill="#ff0000"/>
<rect x="991" y="347" width="3" height="3" fill="#ff0000"/>
<rect x="996" y="341" width="1" height="25" fill="#ff0000"/>
<rect x="995" y="344" width="3" height="2" fill="#ff0000"/>
<rect x="1000" y="304" width="1" height="46" fill="#ff0000"/>
<rect x="999" y="309" width="3" height="36" fill="#ff0000"/>
<rect x="1004" y="299" width="1" height="21" fill="#ff0000"/>
<rect x="1003" y="307" width="3" height="3" fill="#ff0000"/>
<rect x="1008" y="279" width="1" height="31" fill="#ff0000"/>
<rect x="1007" y="281" width="3" height="25" fill="#ff0000"/>
<rect x="1012" y="277" width="1" height="21" fill="#00ff00"/>
<rect x="1011" y="281" width="3" height="6" fill="#00ff00"/>
<rect x="1016" y="282" width="1" height="7" fill="#ff0000"/>
<rect x="1015" y="285" width="3" height="2" fill="#ff0000"/>
<rect x="1020" y="235" width="1" height="36" fill="#ff0000"/>
<rect x="1019" y="238" width="3" height="25" fill="#ff0000"/>
<rect x="1024" y="236" width="1" height="21" fill="#00ff00"/>
<rect x="1023" y="238" width="3" height="14" fill="#00ff00"/>
<rect x="1028" y="248" width="1" height="21" fill="#00ff00"/>
<rect x="1027" y="250" width="3" height="6" fill="#00ff00"/>
<rect x="1032" y="222" width="1" height="37" fill="#ff0000"/>
<rect x="1031" y="225" width="3" height="31" fill="#ff0000"/>
<rect x="1036" y="224" width="1" height="27" fill="#ff0000"/>
<rect x="1035" y="224" width="3" height="2" fill="#ff0000"/>
<rect x="1040" y="219" width="1" height="12" fill="#00ff00"/>
<rect x="1039" y="224" width="3" height="3" fill="#00ff00"/>
<rect x="1044" y="205" width="1" height="36" fill="#ff0000"/>
<rect x="1043" y="211" width="3" height="23" fill="#ff0000"/>
<rect x="1048" y="205" width="1" height="33" fill="#00ff00"/>
<rect x="1047" y="211" width="3" height="25" fill="#00ff00"/>
<rect x="1052" y="216" width="1" height="44" fill="#00ff00"/>
<rect x="1051" y="234" width="3" height="18" fill="#00ff00"/>
<rect x="1056" y="243" width="1" height="22" fill="#ff0000"/>
<rect x="1055" y="247" width="3" height="5" fill="#ff0000"/>
<rect x="1060" y="217" width="1" height="35" fill="#ff0000"/>
<rect x="1059" y="224" width="3" height="24" fill="#ff0000"/>
<rect x="1064" y="216" width="1" height="8" fill="#ff0000"/>
<rect x="1063" y="218" width="3" height="5" fill="#ff0000"/>
<rect x="1068" y="216" width="1" height="31" fill="#00ff00"/>
<rect x="1067" y="217" width="3" height="19" fill="#00ff00"/>
<rect x="1072" y="235" width="1" height="25" fill="#00ff00"/>
<rect x="1071" y="237" width="3" height="18" fill="#00ff00"/>
<rect x="1076" y="246" width="1" height="19" fill="#ff0000"/>
<rect x="1075" y="249" width="3" height="6" fill="#ff0000"/>
<rect x="1080" y="233" width="1" height="21" fill="#ff0000"/>
<rect x="1079" y="242" width="3" height="9" fill="#ff0000"/>
<rect x="1084" y="229" width="1" height="16" fill="#ff0000"/>
<rect x="1083" y="230" width="3" height="12" fill="#ff0000"/>
<rect x="1088" y="229" width="1" height="3" fill="#00ff00"/>
<rect x="1087" y="229" width="3" height="3" fill="#00ff00"/>
<rect x="1092" y="237" width="1" height="13" fill="#00ff00"/>
<rect x="1091" y="239" width="3" height="2" fill="#00ff00"/>
<rect x="1096" y="216" width="1" height="27" fill="#ff0000"/>
<rect x="1095" y="224" width="3" height="17" fill="#ff0000"/>
<rect x="1100" y="210" width="1" height="21" fill="#ff0000"/>
<rect x="1099" y="219" width="3" height="8" fill="#ff0000"/>
<rect x="1104" y="187" width="1" height="33" fill="#ff0000"/>
<rect x="1103" y="187" width="3" height="33" fill="#ff0000"/>
<rect x="1108" y="174" width="1" height="20" fill="#00ff00"/>
<rect x="1107" y="187" width="3" height="6" fill="#00ff00"/>
<rect x="1112" y="190" width="1" height="6" fill="#00ff00"/>
<rect x="1111" y="192" width="3" height="2" fill="#00ff00"/>
<rect x="1116" y="175" width="1" height="26" fill="#00ff00"/>
<rect x="1115" y="176" width="3" height="24" fill="#00ff00"/>
<rect x="1120" y="192" width="1" height="23" fill="#00ff00"/>
<rect x="1119" y="200" width="3" height="7" fill="#00ff00"/>
<rect x="1124" y="191" width="1" height="17" fill="#ff0000"/>
<rect x="1123" y="199" width="3" height="7" fill="#ff0000"/>
<rect x="1128" y="197" width="1" height="24" fill="#00ff00"/>
<rect x="1127" y="199" width="3" height="22" fill="#00ff00"/>
<rect x="1132" y="207" width="1" height="35" fill="#00ff00"/>
<rect x="1131" y="220" width="3" height="16" fill="#00ff00"/>
<rect x="1136" y="230" width="1" height="12" fill="#00ff00"/>
<rect x="1135" y="235" width="3" height="6" fill="#00ff00"/>
<rect x="1140" y="229" width="1" height="39" fill="#00ff00"/>
<rect x="1139" y="238" width="3" height="24" fill="#00ff00"/>
<rect x="1144" y="237" width="1" height="45" fill="#00ff00"/>
<rect x="1143" y="261" width="3" height="21" fill="#00ff00"/>
<rect x="1148" y="265" width="1" height="36" fill="#00ff00"/>
<rect x="1147" y="281" width="3" height="17" fill="#00ff00"/>
<rect x="1152" y="274" width="1" height="27" fill="#ff0000"/>
<rect x="1151" y="281" width="3" height="17" fill="#ff0000"/>
<rect x="1156" y="259" width="1" height="35" fill="#00ff00"/>
<rect x="1155" y="281" width="3" height="4" fill="#00ff00"/>
<rect x="1160" y="283" width="1" height="4" fill="#00ff00"/>
<rect x="1159" y="283" width="3" height="4" fill="#00ff00"/>
<rect x="1164" y="262" width="1" height="50" fill="#ff0000"/>
<rect x="1163" y="272" width="3" height="20" fill="#ff0000"/>
<rect x="1168" y="255" width="1" height="33" fill="#ff0000"/>
<rect x="1167" y="259" width="3" height="14" fill="#ff0000"/>
<rect x="1172" y="254" width="1" height="17" fill="#00ff00"/>
<rect x="1171" y="258" width="3" height="4" fill="#00ff00"/>
<rect x="1176" y="188" width="1" height="74" fill="#ff0000"/>
<rect x="1175" y="190" width="3" height="72" fill="#ff0000"/>
<rect x="1180" y="178" width="1" height="49" fill="#00ff00"/>
<rect x="1179" y="189" width="3" height="19" fill="#00ff00"/>
<rect x="1184" y="196" width="1" height="11" fill="#ff0000"/>
<rect x="1183" y="198" width="3" height="4" fill="#ff0000"/>
<rect x="1188" y="198" width="1" height="37" fill="#00ff00"/>
<rect x="1187" y="217" width="3" height="12" fill="#00ff00"/>
<rect x="1192" y="185" width="1" height="48" fill="#ff0000"/>
<rect x="1191" y="197" width="3" height="31" fill="#ff0000"/>
<rect x="1196" y="153" width="1" height="58" fill="#ff0000"/>
<rect x="1195" y="153" width="3" height="44" fill="#ff0000"/>
<rect x="1200" y="76" width="1" height="96" fill="#ff0000"/>
<rect x="1199" y="92" width="3" height="62" fill="#ff0000"/>
<rect x="1204" y="79" width="1" height="86" fill="#00ff00"/>
<rect x="1203" y="92" width="3" height="16" fill="#00ff00"/>
<rect x="1208" y="100" width="1" height="12" fill="#ff0000"/>
<rect x="1207" y="106" width="3" height="2" fill="#ff0000"/>
<rect x="1212" y="88" width="1" height="57" fill="#00ff00"/>
<rect x="1211" y="107" width="3" height="4" fill="#00ff00"/>
<rect x="1216" y="105" width="1" height="60" fill="#00ff00"/>
<rect x="1215" y="110" width="3" height="42" fill="#00ff00"/>
<rect x="1220" y="97" width="1" height="75" fill="#ff0000"/>
<rect x="1219" y="104" width="3" height="48" fill="#ff0000"/>
<rect x="1224" y="99" width="1" height="50" fill="#00ff00"/>
<rect x="1223" y="104" width="3" height="45" fill="#00ff00"/>
<rect x="1228" y="119" width="1" height="48" fill="#ff0000"/>
<rect x="1227" y="129" width="3" height="20" fill="#ff0000"/>
<rect x="1232" y="127" width="1" height="22" fill="#00ff00"/>
<rect x="1231" y="129" width="3" height="8" fill="#00ff00"/>
<rect x="1236" y="115" width="1" height="30" fill="#ff0000"/>
<rect x="1235" y="117" width="3" height="20" fill="#ff0000"/>
<rect x="1240" y="116" width="1" height="38" fill="#00ff00"/>
<rect x="1239" y="117" width="3" height="32" fill="#00ff00"/>
<rect x="1244" y="119" width="1" height="37" fill="#ff0000"/>
<rect x="1243" y="124" width="3" height="26" fill="#ff0000"/>
<rect x="1248" y="97" width="1" height="50" fill="#00ff00"/>
<rect x="1247" y="124" width="3" height="23" fill="#00ff00"/>
<rect x="1252" y="117" width="1" height="32" fill="#ff0000"/>
<rect x="1251" y="120" width="3" height="27" fill="#ff0000"/>
<rect x="1256" y="118" width="1" height="9" fill="#00ff00"/>
<rect x="1255" y="120" width="3" height="7" fill="#00ff00"/>
<rect x="1260" y="118" width="1" height="20" fill="#00ff00"/>
<rect x="1259" y="127" width="3" height="5" fill="#00ff00"/>
<rect x="1264" y="125" width="1" height="58" fill="#00ff00"/>
<rect x="1263" y="131" width="3" height="46" fill="#00ff00"/>
<rect x="1268" y="157" width="1" height="22" fill="#ff0000"/>
<rect x="1267" y="160" width="3" height="17" fill="#ff0000"/>
</g>
<path d="M4 483h2v1h-2zM6 482h4v1h-4zM10 481h5v1h-5zM15 480h6v1h-6zM21 479h16v1h-16zM37 478h18v1h-18zM55 479h7v1h-7zM62 480h5v1h-5zM67 481h6v1h-6zM73 482h12v1h-12zM85 481h4v1h-4zM89 480h2v1h-2zM91 479h2v1h-2zM93 478h15v1h-15zM108 477h5v1h-5zM113 476h5v1h-5zM118 477h7v1h-7zM125 476h5v1h-5zM129 475h1v1h-1zM130 474h1v1h-1zM130 473h1v1h-1zM131 472h1v1h-1zM132 471h1v1h-1zM132 470h1v1h-1zM133 469h1v1h-1zM134 468h1v1h-1zM134 467h1v1h-1zM135 466h1v1h-1zM136 465h1v1h-1zM136 464h1v1h-1zM137 463h1v1h-1zM138 462h1v1h-1zM138 461h1v1h-1zM139 460h1v1h-1zM140 459h1v1h-1zM140 458h1v1h-1zM141 457h1v1h-1zM142 456h1v1h-1zM142 455h1v1h-1zM143 454h1v1h-1zM144 453h1v1h-1zM144 452h1v1h-1zM145 451h1v1h-1zM146 450h1v1h-1zM146 449h1v1h-1zM147 448h1v1h-1zM148 447h1v1h-1zM148 446h1v1h-1zM149 445h1v1h-1zM150 444h1v1h-1zM150 443h1v1h-1zM151 442h1v1h-1zM152 441h1v1h-1zM152 440h1v1h-1zM153 439h1v1h-1zM154 438h1v1h-1zM154 437h1v1h-1zM155 436h1v1h-1zM156 435h1v1h-1zM156 434h1v1h-1zM157 433h1v1h-1zM158 432h1v1h-1zM158 431h1v1h-1zM159 430h1v1h-1zM159 429h1v1h-1zM160 428h1v1h-1zM161 427h1v1h-1zM161 426h1v1h-1zM162 425h1v1h-1zM163 424h1v1h-1zM163 423h1v1h-1zM164 422h1v1h-1zM165 421h1v1h-1zM165 420h1v1h-1zM166 419h1v1h-1zM167 418h1v1h-1zM167 417h1v1h-1zM168 416h1v1h-1zM168 415h1v1h-1zM169 414h1v1h-1zM170 413h1v1h-1zM170 412h1v1h-1zM171 411h1v1h-1zM172 410h1v1h-1zM172 409h1v1h-1zM173 408h1v1h-1zM174 407h1v1h-1zM174 406h1v1h-1zM175 405h1v1h-1zM176 404h1v1h-1zM176 403h1v1h-1zM177 402h1v1h-1zM177 401h1v1h-1zM178 400h1v1h-1zM179 399h1v1h-1zM179 398h1v1h-1zM180 397h1v1h-1zM181 396h1v1h-1zM181 395h1v1h-1zM182 394h1v1h-1zM183 393h1v1h-1zM183 392h1v1h-1zM184 391h1v1h-1zM184 390h1v1h-1zM185 389h1v1h-1zM185 388h1v1h-1zM186 387h1v1h-1zM186 386h1v1h-1zM187 385h1v1h-1zM187 384h1v1h-1zM188 383h1v1h-1zM189 382h1v1h-1zM189 381h1v1h-1zM190 380h1v1h-1zM190 379h1v1h-1zM191 378h1v1h-1zM191 377h1v1h-1zM192 376h1v1h-1zM192 375h1v1h-1zM193 374h1v1h-1zM193 373h1v1h-1zM194 372h1v1h-1zM194 371h1v1h-1zM195 370h1v1h-1zM196 369h1v1h-1zM196 368h1v1h-1zM197 367h1v1h-1zM197 366h1v1h-1zM198 365h1v1h-1zM198 364h1v1h-1zM199 363h1v1h-1zM199 362h1v1h-1zM200 361h1v1h-1zM200 360h1v1h-1zM201 359h1v1h-1zM202 358h1v1h-1zM202 357h1v1h-1zM203 356h1v1h-1zM204 355h1v1h-1zM204 354h1v1h-1zM205 353h1v1h-1zM206 352h1v1h-1zM207 351h1v1h-1zM207 350h1v1h-1zM208 349h1v1h-1zM209 348h1v1h-1zM209 347h1v1h-1zM210 346h1v1h-1zM211 345h1v1h-1zM211 344h1v1h-1zM212 343h1v1h-1zM213 342h1v1h-1zM213 341h1v1h-1zM214 340h1v1h-1zM215 339h1v1h-1zM215 338h1v1h-1zM216 337h1v1h-1zM217 336h1v1h-1zM218 335h1v1h-1zM218 334h1v1h-1zM219 333h1v1h-1zM220 332h1v1h-1zM220 331h1v1h-1zM221 330h1v1h-1zM222 329h1v1h-1zM222 328h1v1h-1zM223 327h1v1h-1zM224 326h1v1h-1zM224 325h1v1h-1zM225 324h1v1h-1zM226 323h1v1h-1zM226 322h1v1h-1zM227 321h1v1h-1zM227 320h1v1h-1zM228 319h1v1h-1zM229 318h1v1h-1zM229 317h1v1h-1zM230 316h1v1h-1zM231 315h1v1h-1zM231 314h1v1h-1zM232 313h1v1h-1zM233 312h1v1h-1zM234 311h1v1h-1zM234 310h1v1h-1zM235 309h1v1h-1zM236 308h1v1h-1zM236 307h1v1h-1zM237 306h1v1h-1zM238 305h1v1h-1zM238 304h1v1h-1zM239 303h1v1h-1zM240 302h1v1h-1zM241 301h1v1h-1zM241 300h1v1h-1zM242 299h1v1h-1zM243 298h1v1h-1zM243 297h1v1h-1zM244 296h1v1h-1zM245 295h1v1h-1zM246 294h1v1h-1zM246 293h1v1h-1zM247 292h1v1h-1zM248 291h2v1h-2zM250 290h12v1h-12zM262 291h3v1h-3zM265 292h2v1h-2zM267 293h2v1h-2zM269 294h2v1h-2zM271 295h2v1h-2zM273 296h2v1h-2zM275 297h2v1h-2zM277 298h2v1h-2zM279 299h2v1h-2zM281 300h2v1h-2zM283 301h2v1h-2zM285 302h2v1h-2zM287 303h3v1h-3zM290 304h3v1h-3zM293 305h2v1h-2zM295 306h3v1h-3zM298 307h3v1h-3zM301 308h2v1h-2zM303 309h3v1h-3zM306 310h4v1h-4zM310 311h4v1h-4zM314 312h4v1h-4zM318 313h4v1h-4zM322 314h4v1h-4zM326 315h4v1h-4zM330 316h2v1h-2zM332 317h2v1h-2zM334 318h3v1h-3zM337 319h2v1h-2zM339 320h2v1h-2zM341 321h3v1h-3zM344 322h2v1h-2zM346 323h2v1h-2zM348 324h3v1h-3zM351 325h2v1h-2zM353 326h3v1h-3zM356 327h2v1h-2zM358 328h2v1h-2zM360 329h3v1h-3zM363 330h3v1h-3zM366 331h2v1h-2zM368 332h3v1h-3zM371 333h4v1h-4zM375 334h6v1h-6zM381 335h7v1h-7zM388 334h9v1h-9zM397 333h7v1h-7zM404 332h4v1h-4zM408 331h2v1h-2zM410 330h1v1h-1zM411 329h2v1h-2zM413 328h2v1h-2zM415 327h1v1h-1zM416 326h1v1h-1zM416 325h1v1h-1zM417 324h1v1h-1zM417 323h1v1h-1zM418 322h1v1h-1zM418 321h1v1h-1zM419 320h1v1h-1zM420 319h1v1h-1zM420 318h1v1h-1zM421 317h1v1h-1zM421 316h1v1h-1zM422 315h1v1h-1zM422 314h1v1h-1zM423 313h1v1h-1zM424 312h1v1h-1zM424 311h1v1h-1zM425 310h1v1h-1zM426 309h1v1h-1zM426 308h1v1h-1zM427 307h1v1h-1zM428 306h1v1h-1zM429 305h1v1h-1zM429 304h1v1h-1zM430 303h1v1h-1zM431 302h1v1h-1zM431 301h1v1h-1zM432 300h1v1h-1zM433 299h1v1h-1zM433 298h1v1h-1zM434 297h1v1h-1zM435 296h1v1h-1zM435 295h1v1h-1zM436 294h1v1h-1zM437 293h1v1h-1zM437 292h1v1h-1zM438 291h1v1h-1zM439 290h1v1h-1zM440 289h1v1h-1zM440 288h1v1h-1zM441 287h1v1h-1zM442 286h1v1h-1zM442 285h1v1h-1zM443 284h1v1h-1zM444 283h1v1h-1zM445 282h2v1h-2zM447 281h1v1h-1zM448 280h1v1h-1zM449 279h1v1h-1zM449 278h1v1h-1zM450 277h1v1h-1zM451 276h1v1h-1zM451 275h1v1h-1zM452 274h1v1h-1zM453 273h1v1h-1zM453 272h1v1h-1zM454 271h1v1h-1zM455 270h1v1h-1zM455 269h1v1h-1zM456 268h1v1h-1zM457 267h1v1h-1zM457 266h1v1h-1zM458 265h1v1h-1zM459 264h1v1h-1zM459 263h1v1h-1zM460 262h1v1h-1zM461 261h1v1h-1zM461 260h1v1h-1zM462 259h1v1h-1zM463 258h1v1h-1zM464 257h1v1h-1zM465 256h1v1h-1zM466 255h1v1h-1zM467 254h1v1h-1zM468 253h1v1h-1zM469 252h1v1h-1zM469 251h1v1h-1zM470 250h1v1h-1zM471 249h1v1h-1zM472 248h1v1h-1zM473 247h1v1h-1zM474 246h1v1h-1zM475 245h1v1h-1zM476 244h1v1h-1zM476 243h1v1h-1zM477 242h1v1h-1zM477 241h1v1h-1zM478 240h1v1h-1zM478 239h1v1h-1zM479 238h1v1h-1zM479 237h1v1h-1zM480 236h1v1h-1zM480 235h1v1h-1zM481 234h1v1h-1zM481 233h1v1h-1zM482 232h1v1h-1zM482 231h1v1h-1zM483 230h1v1h-1zM483 229h1v1h-1zM484 228h1v1h-1zM484 227h1v1h-1zM485 226h1v1h-1zM485 225h1v1h-1zM486 224h1v1h-1zM486 223h1v1h-1zM487 222h1v1h-1zM487 221h1v1h-1zM488 220h1v1h-1zM488 219h1v1h-1zM489 218h1v1h-1zM489 217h1v1h-1zM490 216h1v1h-1zM490 215h1v1h-1zM491 214h1v1h-1zM491 213h1v1h-1zM492 212h1v1h-1zM492 211h1v1h-1zM493 210h1v1h-1zM493 209h1v1h-1zM494 208h1v1h-1zM494 207h1v1h-1zM495 206h1v1h-1zM495 205h1v1h-1zM496 204h1v1h-1zM496 203h1v1h-1zM497 202h1v1h-1zM497 201h1v1h-1zM498 200h1v1h-1zM498 199h1v1h-1zM498 198h1v1h-1zM499 197h1v1h-1zM499 196h1v1h-1zM500 195h1v1h-1zM500 194h1v1h-1zM501 193h1v1h-1zM501 192h1v1h-1zM502 191h1v1h-1zM502 190h1v1h-1zM503 189h1v1h-1zM503 188h1v1h-1zM503 187h1v1h-1zM504 186h1v1h-1zM504 185h1v1h-1zM505 184h1v1h-1zM505 183h1v1h-1zM506 182h1v1h-1zM506 181h1v1h-1zM507 180h1v1h-1zM507 179h1v1h-1zM508 178h1v1h-1zM508 177h1v1h-1zM508 176h1v1h-1zM509 175h1v1h-1zM509 174h1v1h-1zM510 173h1v1h-1zM510 172h1v1h-1zM511 171h1v1h-1zM511 170h1v1h-1zM512 169h1v1h-1zM512 168h1v1h-1zM513 167h1v1h-1zM513 166h1v1h-1zM514 165h1v1h-1zM514 164h1v1h-1zM515 163h1v1h-1zM515 162h1v1h-1zM516 161h1v1h-1zM516 160h1v1h-1zM517 159h1v1h-1zM517 158h1v1h-1zM518 157h1v1h-1zM518 156h1v1h-1zM519 155h1v1h-1zM519 154h1v1h-1zM520 153h1v1h-1zM520 152h1v1h-1zM521 151h1v1h-1zM521 150h1v1h-1zM522 149h1v1h-1zM522 148h1v1h-1zM523 147h1v1h-1zM523 146h1v1h-1zM524 145h1v1h-1zM524 144h1v1h-1zM525 143h1v1h-1zM525 142h1v1h-1zM526 141h1v1h-1zM526 140h1v1h-1zM527 139h1v1h-1zM527 138h1v1h-1zM528 137h1v1h-1zM529 136h1v1h-1zM530 135h1v1h-1zM531 134h1v1h-1zM532 133h1v1h-1zM533 132h1v1h-1zM534 131h1v1h-1zM535 130h2v1h-2zM537 129h2v1h-2zM539 128h2v1h-2zM541 127h5v1h-5zM546 126h8v1h-8zM554 127h2v1h-2zM556 128h2v1h-2zM558 129h2v1h-2zM560 130h2v1h-2zM562 131h3v1h-3zM565 130h3v1h-3zM568 129h3v1h-3zM571 128h2v1h-2zM573 127h2v1h-2zM575 126h2v1h-2zM577 125h3v1h-3zM580 124h3v1h-3zM583 123h3v1h-3zM586 122h3v1h-3zM589 121h2v1h-2zM591 120h2v1h-2zM593 119h2v1h-2zM595 118h5v1h-5zM600 117h6v1h-6zM606 116h5v1h-5zM611 117h2v1h-2zM613 118h6v1h-6zM619 119h7v1h-7zM626 120h2v1h-2zM628 121h2v1h-2zM630 122h3v1h-3zM633 123h4v1h-4zM637 124h5v1h-5zM642 125h6v1h-6zM648 126h4v1h-4zM652 127h3v1h-3zM655 128h4v1h-4zM659 129h5v1h-5zM664 130h6v1h-6zM670 129h4v1h-4zM674 128h15v1h-15zM689 129h7v1h-7zM696 130h6v1h-6zM702 131h4v1h-4zM706 132h3v1h-3zM709 133h2v1h-2zM711 134h1v1h-1zM712 135h1v1h-1zM713 136h2v1h-2zM715 137h1v1h-1zM716 138h1v1h-1zM717 139h2v1h-2zM719 140h1v1h-1zM720 141h2v1h-2zM722 142h1v1h-1zM723 143h1v1h-1zM724 144h2v1h-2zM726 145h1v1h-1zM727 146h1v1h-1zM728 147h2v1h-2zM730 148h1v1h-1zM731 149h1v1h-1zM732 150h1v1h-1zM733 151h1v1h-1zM734 152h1v1h-1zM735 153h1v1h-1zM736 154h1v2h-1zM737 156h1v1h-1zM738 157h1v1h-1zM739 158h1v1h-1zM740 159h1v1h-1zM741 160h1v1h-1zM742 161h1v1h-1zM743 162h1v1h-1zM744 163h1v1h-1zM745 164h1v1h-1zM746 165h1v1h-1zM747 166h1v1h-1zM748 167h1v1h-1zM749 168h1v1h-1zM750 169h1v1h-1zM751 170h1v1h-1zM752 171h1v1h-1zM753 172h1v1h-1zM754 173h1v1h-1zM755 174h1v1h-1zM756 175h1v1h-1zM757 176h2v1h-2zM759 177h1v1h-1zM760 178h1v1h-1zM761 179h1v1h-1zM762 180h1v1h-1zM763 181h1v1h-1zM764 182h2v1h-2zM766 183h2v1h-2zM768 184h2v1h-2zM770 185h3v1h-3zM773 186h2v1h-2zM775 187h2v1h-2zM777 188h3v1h-3zM780 189h2v1h-2zM782 190h2v1h-2zM784 191h3v1h-3zM787 192h2v1h-2zM789 193h3v1h-3zM792 194h3v1h-3zM795 195h4v1h-4zM799 196h3v1h-3zM802 197h2v1h-2zM804 198h2v1h-2zM806 199h3v1h-3zM809 200h4v1h-4zM813 201h4v1h-4zM817 202h4v1h-4zM821 203h26v1h-26zM847 204h7v1h-7zM854 203h4v1h-4zM858 202h6v1h-6zM864 201h15v1h-15zM879 202h4v1h-4zM883 203h7v1h-7zM890 204h13v1h-13zM903 205h3v1h-3zM906 206h3v1h-3zM909 207h3v1h-3zM912 208h3v1h-3zM915 209h3v1h-3zM918 210h3v1h-3zM921 211h2v1h-2zM923 212h3v1h-3zM926 213h2v1h-2zM928 214h3v1h-3zM931 215h2v1h-2zM933 216h2v1h-2zM935 217h2v1h-2zM937 218h2v1h-2zM939 219h2v1h-2zM941 220h2v1h-2zM943 221h2v1h-2zM945 222h1v1h-1zM946 223h1v1h-1zM947 224h2v1h-2zM949 225h1v1h-1zM950 226h1v1h-1zM951 227h1v1h-1zM952 228h2v1h-2zM954 229h1v1h-1zM955 230h1v1h-1zM956 231h1v1h-1zM957 232h1v1h-1zM958 233h1v1h-1zM959 234h1v1h-1zM960 235h2v1h-2zM962 236h1v1h-1zM963 237h1v1h-1zM964 238h1v1h-1zM965 239h1v1h-1zM966 240h1v1h-1zM967 241h1v1h-1zM968 242h1v1h-1zM969 243h1v1h-1zM970 244h1v1h-1zM971 245h1v1h-1zM972 246h1v2h-1zM973 248h1v1h-1zM974 249h1v1h-1zM975 250h1v1h-1zM976 251h1v1h-1zM977 252h1v1h-1zM978 253h1v1h-1zM979 254h1v1h-1zM980 255h1v1h-1zM981 256h1v1h-1zM982 257h1v1h-1zM983 258h2v1h-2zM985 259h1v1h-1zM986 260h1v1h-1zM987 261h1v1h-1zM988 262h1v1h-1zM989 263h1v1h-1zM990 264h1v1h-1zM991 265h1v1h-1zM992 266h1v1h-1zM993 267h1v1h-1zM994 268h1v1h-1zM995 269h1v1h-1zM996 270h1v1h-1zM997 271h1v1h-1zM998 272h2v1h-2zM1000 273h2v1h-2zM1002 274h2v1h-2zM1004 275h2v1h-2zM1006 276h2v1h-2zM1008 277h2v1h-2zM1010 278h2v1h-2zM1012 279h2v1h-2zM1014 280h2v1h-2zM1016 281h3v1h-3zM1019 282h3v1h-3zM1022 283h3v1h-3zM1025 284h11v1h-11zM1036 283h5v1h-5zM1041 282h5v1h-5zM1046 281h6v1h-6zM1052 280h5v1h-5zM1057 279h6v1h-6zM1063 278h5v1h-5zM1068 277h6v1h-6zM1074 276h3v1h-3zM1077 275h2v1h-2zM1079 274h1v1h-1zM1080 273h2v1h-2zM1082 272h1v1h-1zM1083 271h2v1h-2zM1085 270h1v1h-1zM1086 269h2v1h-2zM1088 268h1v1h-1zM1089 267h2v1h-2zM1091 266h1v1h-1zM1092 265h2v1h-2zM1094 264h1v1h-1zM1095 263h1v1h-1zM1096 262h1v1h-1zM1097 261h1v1h-1zM1098 260h1v1h-1zM1099 259h1v1h-1zM1099 258h1v1h-1zM1100 257h1v1h-1zM1101 256h1v1h-1zM1102 255h1v1h-1zM1103 254h1v1h-1zM1104 253h1v1h-1zM1105 252h1v1h-1zM1105 251h1v1h-1zM1106 250h1v1h-1zM1107 249h1v1h-1zM1108 248h1v1h-1zM1108 247h1v1h-1zM1109 246h1v1h-1zM1110 245h1v1h-1zM1111 244h1v1h-1zM1111 243h1v1h-1zM1112 242h1v1h-1zM1113 241h1v1h-1zM1114 240h1v1h-1zM1115 239h1v1h-1zM1116 238h1v1h-1zM1117 237h1v1h-1zM1118 236h1v1h-1zM1119 235h1v1h-1zM1120 234h1v1h-1zM1121 233h1v1h-1zM1122 232h1v1h-1zM1123 231h2v1h-2zM1125 230h2v1h-2zM1127 229h2v1h-2zM1129 228h4v1h-4zM1133 227h12v1h-12zM1145 228h2v1h-2zM1147 229h2v1h-2zM1149 230h2v1h-2zM1151 231h2v1h-2zM1153 232h1v1h-1zM1154 233h2v1h-2zM1156 234h2v1h-2zM1158 235h2v1h-2zM1160 236h2v1h-2zM1162 237h2v1h-2zM1164 238h5v1h-5zM1169 239h5v1h-5zM1174 238h2v1h-2zM1176 237h3v1h-3zM1179 236h5v1h-5zM1184 235h5v1h-5zM1189 234h2v1h-2zM1191 233h3v1h-3zM1194 232h2v1h-2zM1196 231h1v1h-1zM1197 230h1v1h-1zM1198 229h1v1h-1zM1199 228h1v1h-1zM1199 227h1v1h-1zM1200 226h1v1h-1zM1201 225h1v1h-1zM1202 224h1v1h-1zM1203 223h1v1h-1zM1204 222h1v1h-1zM1205 221h1v1h-1zM1206 220h1v1h-1zM1207 219h1v1h-1zM1208 218h1v1h-1zM1208 217h1v1h-1zM1209 216h1v1h-1zM1210 215h1v1h-1zM1211 214h1v1h-1zM1212 213h1v1h-1zM1213 212h1v1h-1zM1214 211h1v1h-1zM1215 210h1v1h-1zM1216 209h2v1h-2zM1218 208h1v1h-1zM1219 207h1v1h-1zM1220 206h2v1h-2zM1222 205h2v1h-2zM1224 204h2v1h-2zM1226 203h2v1h-2zM1228 202h2v1h-2zM1230 201h2v1h-2zM1232 200h2v1h-2zM1234 199h2v1h-2zM1236 198h2v1h-2zM1238 197h2v1h-2zM1240 196h1v1h-1zM1241 195h2v1h-2zM1243 194h2v1h-2zM1245 193h2v1h-2zM1247 192h2v1h-2zM1249 191h2v1h-2zM1251 190h1v1h-1zM1252 189h1v1h-1zM1253 188h1v1h-1zM1254 187h1v1h-1zM1255 186h1v1h-1zM1256 185h1v1h-1zM1257 184h1v1h-1zM1258 183h1v1h-1zM1259 182h1v1h-1zM1260 181h1v1h-1zM1261 180h1v1h-1zM1262 179h1v1h-1zM1262 178h1v1h-1zM1263 177h1v1h-1zM1264 176h1v1h-1zM1265 175h1v1h-1zM1266 174h1v1h-1zM1267 173h1v1h-1z" fill="#0000c8" shape-rendering="crispEdges"/>
<path d="M4 478h10v1h-10zM14 479h3v1h-3zM17 478h4v1h-4zM21 477h4v1h-4zM25 476h16v1h-16zM41 477h4v1h-4zM45 478h5v1h-5zM50 479h4v1h-4zM54 480h4v1h-4zM58 481h4v1h-4zM62 482h3v1h-3zM65 483h2v1h-2zM67 484h3v1h-3zM70 485h2v1h-2zM72 486h12v1h-12zM84 485h3v1h-3zM87 484h2v1h-2zM89 483h2v1h-2zM91 482h2v1h-2zM93 481h3v1h-3zM96 480h4v1h-4zM100 479h4v1h-4zM104 478h2v1h-2zM106 477h2v1h-2zM108 476h2v1h-2zM110 475h2v1h-2zM112 474h2v1h-2zM114 473h2v1h-2zM116 472h2v1h-2zM118 471h1v1h-1zM119 470h2v1h-2zM121 469h1v1h-1zM122 468h2v1h-2zM124 467h2v1h-2zM126 466h1v1h-1zM127 465h3v1h-3zM129 464h1v1h-1zM130 463h1v1h-1zM130 462h1v1h-1zM130 461h1v1h-1zM130 460h1v1h-1zM131 459h1v1h-1zM131 458h1v1h-1zM131 457h1v1h-1zM131 456h1v1h-1zM132 455h1v1h-1zM132 454h1v1h-1zM132 453h1v1h-1zM132 452h1v1h-1zM133 451h1v1h-1zM133 450h1v1h-1zM133 449h1v1h-1zM133 448h1v1h-1zM134 447h1v1h-1zM134 446h1v1h-1zM134 445h1v1h-1zM134 444h1v1h-1zM135 443h1v1h-1zM135 442h1v1h-1zM135 441h1v1h-1zM135 440h1v1h-1zM136 439h1v1h-1zM136 438h1v1h-1zM136 437h1v1h-1zM137 436h1v1h-1zM137 435h1v1h-1zM137 434h1v1h-1zM138 433h1v1h-1zM138 432h1v1h-1zM138 431h1v1h-1zM139 430h1v1h-1zM139 429h1v1h-1zM139 428h1v1h-1zM140 427h1v1h-1zM140 426h1v1h-1zM140 425h1v1h-1zM141 424h1v1h-1zM141 423h1v1h-1zM141 422h1v1h-1zM142 421h1v1h-1zM142 420h1v1h-1zM142 419h1v1h-1zM143 418h1v1h-1zM143 417h1v1h-1zM143 416h1v1h-1zM144 415h1v1h-1zM144 414h1v1h-1zM144 413h1v1h-1zM145 412h1v1h-1zM145 411h1v1h-1zM145 410h1v1h-1zM146 409h1v1h-1zM146 408h1v1h-1zM146 407h1v1h-1zM146 406h1v1h-1zM147 405h1v1h-1zM147 404h1v1h-1zM147 403h1v1h-1zM148 402h1v1h-1zM148 401h1v1h-1zM148 400h1v1h-1zM149 399h1v1h-1zM149 398h1v1h-1zM149 397h1v1h-1zM150 396h1v1h-1zM150 395h1v1h-1zM150 394h1v1h-1zM151 393h1v1h-1zM151 392h1v1h-1zM151 391h1v1h-1zM152 390h1v1h-1zM152 389h1v1h-1zM152 388h1v1h-1zM153 387h1v1h-1zM153 386h1v1h-1zM153 385h1v1h-1zM154 384h1v1h-1zM154 383h1v1h-1zM154 382h1v1h-1zM155 381h1v1h-1zM155 380h1v1h-1zM155 379h1v1h-1zM156 378h1v1h-1zM156 377h1v1h-1zM156 376h1v1h-1zM157 375h1v1h-1zM157 374h1v1h-1zM157 373h1v1h-1zM158 372h1v1h-1zM158 371h1v1h-1zM158 370h1v1h-1zM159 369h1v1h-1zM159 368h1v1h-1zM159 367h1v1h-1zM160 366h1v1h-1zM160 365h1v1h-1zM160 364h1v1h-1zM160 363h1v1h-1zM161 362h1v1h-1zM161 361h1v1h-1zM161 360h1v1h-1zM162 359h1v1h-1zM162 358h1v1h-1zM162 357h1v1h-1zM163 356h1v1h-1zM163 355h1v1h-1zM163 354h1v1h-1zM164 353h1v1h-1zM164 352h1v1h-1zM164 351h1v1h-1zM165 350h1v1h-1zM165 349h1v1h-1zM165 348h1v1h-1zM166 347h1v1h-1zM166 346h1v1h-1zM166 345h1v1h-1zM167 344h1v1h-1zM167 343h1v1h-1zM167 342h1v1h-1zM167 341h1v1h-1zM168 340h1v1h-1zM168 339h1v1h-1zM168 338h1v1h-1zM169 337h1v1h-1zM169 336h1v1h-1zM169 335h1v1h-1zM170 334h1v1h-1zM170 333h1v1h-1zM170 332h1v1h-1zM171 331h1v1h-1zM171 330h1v1h-1zM172 329h1v1h-1zM172 328h1v1h-1zM172 327h1v1h-1zM173 326h1v1h-1zM173 325h1v1h-1zM174 324h1v1h-1zM174 323h1v1h-1zM174 322h1v1h-1zM175 321h1v1h-1zM175 320h1v1h-1zM175 319h1v1h-1zM176 318h1v1h-1zM176 317h1v1h-1zM177 316h1v1h-1zM177 315h1v1h-1zM177 314h1v1h-1zM178 313h1v1h-1zM178 312h1v1h-1zM179 311h1v1h-1zM179 310h1v1h-1zM180 309h1v1h-1zM180 308h1v1h-1zM180 307h1v1h-1zM181 306h1v1h-1zM181 305h1v1h-1zM182 304h1v1h-1zM182 303h1v1h-1zM183 302h1v1h-1zM183 301h1v1h-1zM184 300h1v1h-1zM184 299h1v1h-1zM185 298h1v1h-1zM185 297h1v1h-1zM186 296h1v1h-1zM186 295h1v1h-1zM187 294h2v1h-2zM189 293h2v1h-2zM191 292h3v1h-3zM194 291h3v1h-3zM197 290h2v1h-2zM199 289h3v1h-3zM202 290h3v1h-3zM205 291h4v1h-4zM209 292h16v1h-16zM225 291h2v1h-2zM227 290h2v1h-2zM229 289h4v1h-4zM233 288h5v1h-5zM238 287h3v1h-3zM241 286h12v1h-12zM253 287h2v1h-2zM255 288h2v1h-2zM257 289h2v1h-2zM259 290h2v1h-2zM261 291h1v1h-1zM262 292h2v1h-2zM264 293h1v1h-1zM265 294h1v1h-1zM266 295h1v1h-1zM267 296h1v1h-1zM268 297h1v1h-1zM269 298h1v1h-1zM270 299h1v1h-1zM271 300h1v1h-1zM272 301h1v1h-1zM273 302h1v1h-1zM274 303h1v1h-1zM275 304h1v1h-1zM276 305h1v1h-1zM277 306h1v1h-1zM278 307h1v1h-1zM279 308h1v1h-1zM280 309h1v1h-1zM281 310h1v1h-1zM282 311h1v1h-1zM283 312h1v1h-1zM284 313h1v1h-1zM285 314h1v1h-1zM286 315h1v1h-1zM287 316h1v1h-1zM288 317h1v1h-1zM289 318h1v1h-1zM290 319h1v1h-1zM291 320h1v1h-1zM292 321h1v1h-1zM293 322h1v1h-1zM294 323h1v1h-1zM295 324h1v1h-1zM296 325h1v1h-1zM297 326h1v1h-1zM298 327h1v1h-1zM299 328h1v1h-1zM300 329h1v1h-1zM301 330h1v1h-1zM302 331h1v1h-1zM303 332h2v1h-2zM305 333h1v1h-1zM306 334h1v1h-1zM307 335h1v1h-1zM308 336h2v1h-2zM310 337h9v1h-9zM319 336h3v1h-3zM322 335h2v1h-2zM324 334h2v1h-2zM326 333h49v1h-49zM375 334h22v1h-22zM397 333h5v1h-5zM402 332h2v1h-2zM404 331h2v1h-2zM406 330h2v1h-2zM408 329h1v1h-1zM408 328h1v1h-1zM409 327h1v1h-1zM410 326h1v1h-1zM411 325h1v1h-1zM411 324h1v1h-1zM412 323h1v1h-1zM413 322h1v1h-1zM414 321h1v1h-1zM414 320h1v1h-1zM415 319h1v1h-1zM416 318h1v1h-1zM416 317h1v1h-1zM417 316h1v1h-1zM417 315h1v1h-1zM418 314h1v1h-1zM418 313h1v1h-1zM418 312h1v1h-1zM419 311h1v1h-1zM419 310h1v1h-1zM419 309h1v1h-1zM419 308h1v1h-1zM420 307h1v1h-1zM420 306h1v1h-1zM420 305h1v1h-1zM421 304h1v1h-1zM421 303h1v1h-1zM421 302h1v1h-1zM421 301h1v1h-1zM422 300h1v1h-1zM422 299h1v1h-1zM422 298h1v1h-1zM423 297h1v1h-1zM423 296h1v1h-1zM423 295h1v1h-1zM423 294h1v1h-1zM424 293h1v1h-1zM424 292h1v1h-1zM424 291h1v1h-1zM425 290h1v1h-1zM425 289h1v1h-1zM425 288h1v1h-1zM425 287h1v1h-1zM426 286h1v1h-1zM426 285h1v1h-1zM426 284h1v1h-1zM426 283h1v1h-1zM427 282h1v1h-1zM427 281h1v1h-1zM427 280h1v1h-1zM428 279h1v1h-1zM428 278h1v1h-1zM428 277h1v1h-1zM428 276h1v1h-1zM429 275h1v1h-1zM429 274h1v1h-1zM429 273h1v1h-1zM430 272h1v1h-1zM430 271h1v1h-1zM430 270h1v1h-1zM430 269h1v1h-1zM431 268h1v1h-1zM431 267h1v1h-1zM431 266h1v1h-1zM432 265h1v1h-1zM432 264h1v1h-1zM432 263h1v1h-1zM433 262h1v1h-1zM433 261h1v1h-1zM433 260h1v1h-1zM434 259h1v1h-1zM434 258h1v1h-1zM434 257h1v1h-1zM435 256h1v1h-1zM435 255h1v1h-1zM435 254h1v1h-1zM435 253h1v1h-1zM436 252h1v1h-1zM436 251h1v1h-1zM436 250h1v1h-1zM437 249h1v1h-1zM437 248h1v1h-1zM437 247h1v1h-1zM438 246h1v1h-1zM438 245h1v1h-1zM438 244h1v1h-1zM439 243h1v1h-1zM439 242h1v1h-1zM439 241h1v1h-1zM440 240h1v1h-1zM440 239h1v1h-1zM440 238h1v1h-1zM441 237h1v1h-1zM441 236h1v1h-1zM442 235h1v1h-1zM442 234h1v1h-1zM442 233h1v1h-1zM443 232h1v1h-1zM443 231h1v1h-1zM443 230h1v1h-1zM444 229h1v1h-1zM444 228h1v1h-1zM444 227h1v1h-1zM445 226h1v1h-1zM445 225h1v1h-1zM445 224h1v1h-1zM446 223h1v1h-1zM446 222h1v1h-1zM447 221h1v1h-1zM447 220h1v1h-1zM447 219h1v1h-1zM448 218h1v1h-1zM448 217h1v1h-1zM448 216h1v1h-1zM449 215h1v1h-1zM449 214h1v1h-1zM450 213h1v1h-1zM450 212h1v1h-1zM450 211h1v1h-1zM451 210h1v1h-1zM451 209h1v1h-1zM451 208h1v1h-1zM452 207h1v1h-1zM452 206h1v1h-1zM453 205h1v1h-1zM453 204h1v1h-1zM453 203h1v1h-1zM454 202h1v1h-1zM454 201h1v1h-1zM454 200h1v1h-1zM455 199h1v1h-1zM455 198h1v1h-1zM456 197h1v1h-1zM456 196h1v1h-1zM456 195h1v1h-1zM457 194h1v1h-1zM457 193h1v1h-1zM458 192h1v1h-1zM458 191h1v1h-1zM459 190h1v1h-1zM459 189h1v1h-1zM460 188h1v1h-1zM460 187h1v1h-1zM461 186h1v1h-1zM461 185h1v1h-1zM462 184h1v1h-1zM462 183h1v1h-1zM463 182h1v1h-1zM463 181h1v1h-1zM464 180h1v1h-1zM464 179h1v1h-1zM465 178h1v1h-1zM466 177h1v1h-1zM467 176h1v1h-1zM468 175h1v1h-1zM469 174h1v1h-1zM470 173h1v1h-1zM471 172h1v1h-1zM472 171h2v1h-2zM474 170h1v1h-1zM475 169h1v1h-1zM476 168h2v1h-2zM478 167h1v1h-1zM479 166h1v1h-1zM480 165h1v1h-1zM481 164h1v1h-1zM482 163h1v1h-1zM483 162h1v1h-1zM484 161h1v1h-1zM485 160h2v1h-2zM487 159h1v1h-1zM488 158h1v1h-1zM489 157h1v1h-1zM490 156h1v1h-1zM491 155h1v1h-1zM491 154h1v1h-1zM492 153h1v1h-1zM493 152h1v1h-1zM494 151h1v1h-1zM495 150h1v1h-1zM496 149h1v1h-1zM496 148h1v1h-1zM497 147h1v1h-1zM497 146h1v1h-1zM498 145h1v1h-1zM499 144h1v1h-1zM499 143h1v1h-1zM500 142h1v1h-1zM501 141h1v1h-1zM501 140h1v1h-1zM502 139h1v1h-1zM502 138h1v1h-1zM503 137h1v1h-1zM503 136h1v1h-1zM504 135h1v1h-1zM504 134h1v1h-1zM505 133h1v1h-1zM505 132h1v1h-1zM506 131h1v1h-1zM506 130h1v1h-1zM507 129h1v1h-1zM507 128h1v1h-1zM508 127h1v1h-1zM508 126h1v1h-1zM509 125h1v1h-1zM509 124h1v1h-1zM510 123h1v1h-1zM510 122h1v1h-1zM511 121h1v1h-1zM511 120h1v1h-1zM512 119h1v1h-1zM512 118h1v1h-1zM513 117h1v1h-1zM513 116h1v1h-1zM514 115h1v1h-1zM514 114h1v1h-1zM515 113h1v1h-1zM515 112h1v1h-1zM516 111h1v1h-1zM516 110h1v1h-1zM517 109h1v1h-1zM517 108h1v1h-1zM518 107h1v1h-1zM518 106h1v1h-1zM519 105h1v1h-1zM519 104h1v1h-1zM520 103h1v1h-1zM520 102h1v1h-1zM521 101h1v1h-1zM522 100h1v1h-1zM522 99h1v1h-1zM523 98h1v1h-1zM524 97h1v1h-1zM524 96h1v1h-1zM525 95h1v1h-1zM526 94h1v1h-1zM527 93h1v1h-1zM528 92h2v1h-2zM530 91h1v1h-1zM531 90h9v1h-9zM540 91h3v1h-3zM543 92h2v1h-2zM545 93h1v1h-1zM546 94h1v1h-1zM547 95h1v2h-1zM548 97h1v1h-1zM549 98h1v1h-1zM550 99h1v1h-1zM551 100h1v2h-1zM552 102h1v1h-1zM553 103h1v2h-1zM554 105h1v2h-1zM555 107h1v1h-1zM556 108h1v2h-1zM557 110h1v1h-1zM558 111h1v2h-1zM559 113h1v2h-1zM560 115h1v2h-1zM561 117h1v2h-1zM562 119h1v2h-1zM563 121h1v1h-1zM564 122h1v2h-1zM565 124h1v2h-1zM566 126h1v1h-1zM567 127h1v2h-1zM568 129h1v2h-1zM569 131h1v1h-1zM570 132h1v1h-1zM571 133h1v2h-1zM572 135h1v1h-1zM573 136h1v1h-1zM574 137h1v2h-1zM575 139h1v1h-1zM576 140h1v1h-1zM577 141h1v1h-1zM578 142h1v1h-1zM579 143h1v1h-1zM580 144h1v1h-1zM581 145h1v1h-1zM582 146h10v1h-10zM592 145h4v1h-4zM596 144h4v1h-4zM600 143h4v1h-4zM604 142h2v1h-2zM606 141h1v1h-1zM606 140h1v1h-1zM607 139h1v1h-1zM608 138h1v1h-1zM608 137h1v1h-1zM609 136h1v1h-1zM609 135h1v1h-1zM610 134h1v1h-1zM611 133h1v1h-1zM611 132h1v1h-1zM612 131h1v1h-1zM612 130h1v1h-1zM613 129h1v1h-1zM613 128h1v1h-1zM614 127h1v1h-1zM614 126h1v1h-1zM615 125h1v1h-1zM615 124h1v1h-1zM616 123h1v1h-1zM617 122h1v1h-1zM618 121h1v1h-1zM618 120h1v1h-1zM619 119h1v1h-1zM620 118h1v1h-1zM621 117h1v1h-1zM621 116h1v1h-1zM622 115h1v1h-1zM623 114h2v1h-2zM625 113h2v1h-2zM627 112h3v1h-3zM630 111h4v1h-4zM634 110h1v1h-1zM635 109h2v1h-2zM637 108h1v1h-1zM638 107h1v1h-1zM639 106h2v1h-2zM641 105h2v1h-2zM643 104h3v1h-3zM646 105h2v1h-2zM648 106h2v1h-2zM650 107h2v1h-2zM652 108h1v1h-1zM653 109h2v1h-2zM655 110h1v1h-1zM656 111h1v1h-1zM657 112h1v1h-1zM658 113h1v2h-1zM659 115h1v1h-1zM660 116h1v1h-1zM661 117h1v1h-1zM662 118h1v1h-1zM663 119h2v1h-2zM665 120h1v1h-1zM666 121h1v1h-1zM667 122h1v1h-1zM668 123h1v1h-1zM669 124h1v2h-1zM670 126h1v1h-1zM671 127h1v1h-1zM672 128h1v1h-1zM673 129h2v1h-2zM675 130h1v1h-1zM676 131h1v1h-1zM677 132h1v1h-1zM678 133h1v2h-1zM679 135h1v1h-1zM680 136h2v1h-2zM682 137h1v1h-1zM683 138h1v1h-1zM684 139h2v1h-2zM686 140h1v1h-1zM687 141h1v1h-1zM688 142h1v1h-1zM689 143h1v1h-1zM690 144h1v1h-1zM691 145h1v1h-1zM692 146h1v1h-1zM693 147h1v1h-1zM694 148h1v1h-1zM695 149h1v1h-1zM696 150h1v1h-1zM697 151h1v1h-1zM698 152h1v2h-1zM699 154h1v1h-1zM700 155h1v1h-1zM701 156h1v1h-1zM702 157h2v1h-2zM704 158h2v1h-2zM706 159h2v1h-2zM708 160h3v1h-3zM711 161h5v1h-5zM716 162h2v1h-2zM718 163h2v1h-2zM720 164h1v1h-1zM721 165h1v1h-1zM722 166h1v1h-1zM723 167h1v1h-1zM724 168h1v1h-1zM725 169h1v1h-1zM726 170h2v1h-2zM728 171h2v1h-2zM730 172h1v1h-1zM731 173h1v1h-1zM732 174h1v1h-1zM733 175h1v1h-1zM734 176h1v1h-1zM735 177h1v1h-1zM736 178h1v1h-1zM737 179h1v2h-1zM738 181h1v1h-1zM739 182h1v2h-1zM740 184h1v2h-1zM741 186h1v1h-1zM742 187h1v1h-1zM743 188h1v2h-1zM744 190h1v1h-1zM745 191h1v1h-1zM746 192h1v2h-1zM747 194h1v1h-1zM748 195h1v1h-1zM749 196h1v1h-1zM750 197h1v2h-1zM751 199h1v1h-1zM752 200h1v1h-1zM753 201h2v1h-2zM755 202h1v1h-1zM756 203h2v1h-2zM758 204h1v1h-1zM759 205h2v1h-2zM761 206h2v1h-2zM763 207h1v1h-1zM764 208h2v1h-2zM766 209h1v1h-1zM767 210h2v1h-2zM769 211h1v1h-1zM770 212h2v1h-2zM772 213h2v1h-2zM774 214h1v1h-1zM775 215h2v1h-2zM777 216h2v1h-2zM779 217h8v1h-8zM787 216h3v1h-3zM790 215h2v1h-2zM792 214h1v1h-1zM793 213h1v1h-1zM794 212h1v1h-1zM795 211h1v1h-1zM796 210h1v1h-1zM797 209h2v1h-2zM799 208h1v1h-1zM800 207h2v1h-2zM802 206h1v1h-1zM803 205h2v1h-2zM805 204h2v1h-2zM807 203h3v1h-3zM810 202h4v1h-4zM814 201h5v1h-5zM819 200h5v1h-5zM824 199h3v1h-3zM827 198h2v1h-2zM829 197h1v1h-1zM830 196h1v1h-1zM830 195h1v1h-1zM831 194h1v1h-1zM832 193h2v1h-2zM834 192h2v1h-2zM836 191h10v1h-10zM846 192h4v1h-4zM850 193h6v1h-6zM856 194h7v1h-7zM863 195h5v1h-5zM868 196h3v1h-3zM871 197h2v1h-2zM873 198h1v1h-1zM874 199h2v1h-2zM876 200h1v1h-1zM877 201h1v1h-1zM878 202h1v1h-1zM879 203h1v1h-1zM880 204h2v1h-2zM882 205h1v1h-1zM883 206h1v1h-1zM884 207h1v1h-1zM885 208h1v1h-1zM886 209h1v1h-1zM887 210h1v1h-1zM888 211h1v1h-1zM889 212h1v1h-1zM890 213h1v1h-1zM891 214h2v1h-2zM893 215h1v1h-1zM894 216h2v1h-2zM896 217h2v1h-2zM898 218h3v1h-3zM901 219h3v1h-3zM904 220h2v1h-2zM906 221h2v1h-2zM908 222h2v1h-2zM910 223h2v1h-2zM912 224h3v1h-3zM915 225h4v1h-4zM919 226h3v1h-3zM922 227h2v1h-2zM924 228h2v1h-2zM926 229h2v1h-2zM928 230h2v1h-2zM930 231h2v1h-2zM932 232h2v1h-2zM934 233h1v1h-1zM935 234h2v1h-2zM937 235h2v1h-2zM939 236h2v1h-2zM941 237h1v1h-1zM942 238h2v1h-2zM944 239h1v1h-1zM945 240h1v1h-1zM946 241h2v1h-2zM948 242h2v1h-2zM950 243h1v1h-1zM951 244h1v1h-1zM952 245h1v1h-1zM953 246h1v1h-1zM954 247h1v1h-1zM955 248h1v1h-1zM956 249h1v1h-1zM957 250h1v2h-1zM958 252h1v1h-1zM959 253h1v1h-1zM960 254h1v2h-1zM961 256h1v1h-1zM962 257h1v1h-1zM963 258h1v2h-1zM964 260h1v1h-1zM965 261h1v1h-1zM966 262h1v2h-1zM967 264h1v1h-1zM968 265h1v2h-1zM969 267h1v1h-1zM970 268h1v2h-1zM971 270h1v2h-1zM972 272h1v2h-1zM973 274h1v1h-1zM974 275h1v2h-1zM975 277h1v2h-1zM976 279h1v2h-1zM977 281h1v1h-1zM978 282h1v2h-1zM979 284h1v2h-1zM980 286h1v1h-1zM981 287h1v2h-1zM982 289h1v2h-1zM983 291h1v2h-1zM984 293h1v1h-1zM985 294h1v2h-1zM986 296h1v1h-1zM987 297h1v1h-1zM988 298h1v2h-1zM989 300h1v1h-1zM990 301h1v2h-1zM991 303h1v1h-1zM992 304h1v1h-1zM993 305h1v1h-1zM994 306h1v1h-1zM995 307h1v1h-1zM996 308h1v1h-1zM997 309h1v1h-1zM998 310h1v1h-1zM999 311h2v1h-2zM1001 312h1v1h-1zM1002 313h1v1h-1zM1003 314h2v1h-2zM1005 315h1v1h-1zM1006 316h2v1h-2zM1008 317h9v1h-9zM1017 316h1v1h-1zM1018 315h1v1h-1zM1018 314h1v1h-1zM1019 313h1v1h-1zM1020 312h1v1h-1zM1021 311h1v1h-1zM1021 310h1v1h-1zM1022 309h1v1h-1zM1023 308h1v1h-1zM1024 307h1v1h-1zM1025 306h1v1h-1zM1026 305h1v1h-1zM1027 304h1v1h-1zM1028 303h1v1h-1zM1029 302h1v1h-1zM1029 301h1v1h-1zM1030 300h1v1h-1zM1030 299h1v1h-1zM1031 298h1v1h-1zM1031 297h1v1h-1zM1032 296h1v1h-1zM1032 295h1v1h-1zM1033 294h1v1h-1zM1033 293h1v1h-1zM1034 292h1v1h-1zM1034 291h1v1h-1zM1034 290h1v1h-1zM1035 289h1v1h-1zM1035 288h1v1h-1zM1036 287h1v1h-1zM1036 286h1v1h-1zM1037 285h1v1h-1zM1037 284h1v1h-1zM1038 283h1v1h-1zM1038 282h1v1h-1zM1039 281h1v1h-1zM1039 280h1v1h-1zM1040 279h1v1h-1zM1040 278h1v1h-1zM1041 277h1v1h-1zM1041 276h1v1h-1zM1042 275h1v1h-1zM1042 274h1v1h-1zM1043 273h1v1h-1zM1043 272h1v1h-1zM1044 271h1v1h-1zM1045 270h1v1h-1zM1045 269h1v1h-1zM1046 268h1v1h-1zM1046 267h1v1h-1zM1047 266h1v1h-1zM1047 265h1v1h-1zM1048 264h1v1h-1zM1049 263h1v1h-1zM1049 262h1v1h-1zM1050 261h1v1h-1zM1051 260h1v1h-1zM1052 259h1v1h-1zM1052 258h1v1h-1zM1053 257h1v1h-1zM1054 256h1v1h-1zM1055 255h1v1h-1zM1055 254h1v1h-1zM1056 253h1v1h-1zM1057 252h1v1h-1zM1057 251h1v1h-1zM1058 250h1v1h-1zM1059 249h1v1h-1zM1060 248h1v1h-1zM1060 247h1v1h-1zM1061 246h1v1h-1zM1062 245h1v1h-1zM1062 244h1v1h-1zM1063 243h1v1h-1zM1064 242h1v1h-1zM1064 241h1v1h-1zM1065 240h1v1h-1zM1066 239h1v1h-1zM1067 238h1v1h-1zM1067 237h1v1h-1zM1068 236h3v1h-3zM1071 235h11v1h-11zM1082 234h6v1h-6zM1088 235h10v1h-10zM1098 234h2v1h-2zM1100 233h2v1h-2zM1102 232h1v1h-1zM1103 231h1v1h-1zM1104 230h2v1h-2zM1106 229h1v1h-1zM1107 228h1v1h-1zM1108 227h1v1h-1zM1109 226h1v1h-1zM1110 225h1v1h-1zM1111 224h1v1h-1zM1112 223h2v1h-2zM1114 222h3v1h-3zM1117 221h3v1h-3zM1120 220h2v1h-2zM1122 219h2v1h-2zM1124 218h2v1h-2zM1126 217h2v1h-2zM1128 216h3v1h-3zM1131 215h2v1h-2zM1133 214h2v1h-2zM1135 215h2v1h-2zM1137 216h2v1h-2zM1139 217h2v1h-2zM1141 218h2v1h-2zM1143 219h2v1h-2zM1145 220h1v1h-1zM1146 221h1v1h-1zM1147 222h1v1h-1zM1148 223h1v1h-1zM1149 224h1v1h-1zM1150 225h1v1h-1zM1151 226h1v2h-1zM1152 228h1v1h-1zM1153 229h1v1h-1zM1154 230h1v2h-1zM1155 232h1v1h-1zM1156 233h1v1h-1zM1157 234h1v2h-1zM1158 236h1v2h-1zM1159 238h1v1h-1zM1160 239h1v2h-1zM1161 241h1v2h-1zM1162 243h1v1h-1zM1163 244h1v2h-1zM1164 246h1v1h-1zM1165 247h1v1h-1zM1166 248h1v2h-1zM1167 250h1v1h-1zM1168 251h1v1h-1zM1169 252h1v1h-1zM1170 253h2v1h-2zM1172 254h1v1h-1zM1173 255h2v1h-2zM1175 256h2v1h-2zM1177 255h2v1h-2zM1179 254h2v1h-2zM1181 253h8v1h-8zM1189 252h1v1h-1zM1190 251h2v1h-2zM1192 250h1v1h-1zM1192 249h1v1h-1zM1193 248h1v1h-1zM1193 247h1v1h-1zM1194 246h1v1h-1zM1194 245h1v1h-1zM1195 244h1v1h-1zM1195 243h1v1h-1zM1196 242h1v1h-1zM1196 241h1v1h-1zM1196 240h1v1h-1zM1197 239h1v1h-1zM1197 238h1v1h-1zM1197 237h1v1h-1zM1198 236h1v1h-1zM1198 235h1v1h-1zM1198 234h1v1h-1zM1199 233h1v1h-1zM1199 232h1v1h-1zM1199 231h1v1h-1zM1199 230h1v1h-1zM1200 229h1v1h-1zM1200 228h1v1h-1zM1200 227h1v1h-1zM1201 226h1v1h-1zM1201 225h1v1h-1zM1201 224h1v1h-1zM1202 223h1v1h-1zM1202 222h1v1h-1zM1202 221h1v1h-1zM1202 220h1v1h-1zM1203 219h1v1h-1zM1203 218h1v1h-1zM1203 217h1v1h-1zM1204 216h1v1h-1zM1204 215h1v1h-1zM1204 214h1v1h-1zM1204 213h1v1h-1zM1205 212h1v1h-1zM1205 211h1v1h-1zM1205 210h1v1h-1zM1205 209h1v1h-1zM1206 208h1v1h-1zM1206 207h1v1h-1zM1206 206h1v1h-1zM1207 205h1v1h-1zM1207 204h1v1h-1zM1208 203h1v1h-1zM1208 202h1v1h-1zM1209 201h1v1h-1zM1209 200h1v1h-1zM1209 199h1v1h-1zM1210 198h1v1h-1zM1210 197h1v1h-1zM1211 196h1v1h-1zM1211 195h1v1h-1zM1211 194h1v1h-1zM1212 193h1v1h-1zM1212 192h1v1h-1zM1212 191h1v1h-1zM1212 190h1v1h-1zM1213 189h1v1h-1zM1213 188h1v1h-1zM1213 187h1v1h-1zM1213 186h1v1h-1zM1214 185h1v1h-1zM1214 184h1v1h-1zM1214 183h1v1h-1zM1214 182h1v1h-1zM1215 181h1v1h-1zM1215 180h1v1h-1zM1215 179h1v1h-1zM1216 178h1v1h-1zM1216 177h1v1h-1zM1217 176h1v1h-1zM1217 175h1v1h-1zM1218 174h1v1h-1zM1218 173h1v1h-1zM1218 172h1v1h-1zM1219 171h1v1h-1zM1219 170h1v1h-1zM1220 169h1v1h-1zM1220 168h1v1h-1zM1221 167h1v1h-1zM1221 166h1v1h-1zM1222 165h1v1h-1zM1222 164h1v1h-1zM1223 163h1v1h-1zM1223 162h1v1h-1zM1224 161h1v1h-1zM1224 160h1v1h-1zM1225 159h1v1h-1zM1225 158h1v1h-1zM1226 157h1v1h-1zM1226 156h1v1h-1zM1227 155h1v1h-1zM1227 154h1v1h-1zM1228 153h1v1h-1zM1228 152h1v1h-1zM1228 151h1v1h-1zM1229 150h1v1h-1zM1229 149h1v1h-1zM1230 148h1v1h-1zM1231 147h2v1h-2zM1233 146h1v1h-1zM1234 145h1v1h-1zM1235 144h1v1h-1zM1235 143h1v1h-1zM1236 142h1v1h-1zM1237 141h1v1h-1zM1238 140h1v1h-1zM1238 139h1v1h-1zM1239 138h1v1h-1zM1240 137h1v1h-1zM1241 136h1v1h-1zM1242 135h1v1h-1zM1242 134h1v1h-1zM1243 133h1v1h-1zM1244 132h1v1h-1zM1245 131h1v1h-1zM1246 130h1v1h-1zM1247 129h1v1h-1zM1248 128h1v1h-1zM1249 127h1v1h-1zM1250 126h2v1h-2zM1252 125h2v1h-2zM1254 126h2v1h-2zM1256 127h2v1h-2zM1258 128h1v1h-1zM1259 129h1v1h-1zM1260 130h1v1h-1zM1261 131h1v1h-1zM1262 132h1v1h-1zM1263 133h2v1h-2zM1265 134h1v1h-1zM1266 135h1v2h-1zM1267 137h1v1h-1z" fill="#ff0000" shape-rendering="crispEdges"/>
<path d="M4 471h5v1h-5zM9 470h6v1h-6zM15 471h1v1h-1zM16 472h1v1h-1zM17 473h1v1h-1zM18 474h2v1h-2zM20 475h1v1h-1zM21 476h1v1h-1zM22 477h1v1h-1zM23 478h2v1h-2zM25 479h3v1h-3zM28 480h2v1h-2zM30 481h2v1h-2zM32 482h1v1h-1zM33 483h2v1h-2zM35 484h3v1h-3zM38 483h3v1h-3zM41 482h2v1h-2zM43 481h2v1h-2zM45 480h2v1h-2zM47 479h3v1h-3zM50 478h4v1h-4zM54 479h2v1h-2zM56 480h2v1h-2zM58 481h2v1h-2zM60 482h2v1h-2zM62 483h2v1h-2zM63 484h1v1h-1zM64 485h1v2h-1zM65 487h1v2h-1zM66 489h1v2h-1zM67 491h1v2h-1zM68 492h14v1h-14zM82 491h1v1h-1zM83 490h1v1h-1zM84 489h1v1h-1zM84 488h1v1h-1zM85 487h1v1h-1zM85 486h1v1h-1zM86 485h1v1h-1zM86 484h1v1h-1zM86 483h1v1h-1zM87 482h1v1h-1zM87 481h1v1h-1zM87 480h1v1h-1zM88 479h1v1h-1zM88 478h1v1h-1zM89 477h1v1h-1zM89 476h1v1h-1zM90 475h1v1h-1zM90 474h1v1h-1zM91 473h1v1h-1zM92 472h1v1h-1zM93 471h1v1h-1zM93 470h1v1h-1zM94 469h1v1h-1zM95 468h1v1h-1zM95 467h1v1h-1zM96 466h1v1h-1zM97 465h2v1h-2zM99 464h1v1h-1zM100 463h1v1h-1zM101 462h2v1h-2zM103 461h1v1h-1zM104 460h2v1h-2zM106 459h2v1h-2zM108 458h1v1h-1zM109 459h1v1h-1zM110 460h1v1h-1zM111 461h1v1h-1zM112 462h2v1h-2zM114 461h8v1h-8zM122 462h8v1h-8zM129 461h1v1h-1zM129 460h1v1h-1zM129 459h1v1h-1zM129 458h1v1h-1zM129 457h1v1h-1zM130 456h1v1h-1zM130 455h1v1h-1zM130 454h1v1h-1zM130 453h1v1h-1zM130 452h1v1h-1zM130 451h1v1h-1zM130 450h1v1h-1zM130 449h1v1h-1zM130 448h1v1h-1zM130 447h1v1h-1zM130 446h1v1h-1zM130 445h1v1h-1zM131 444h1v1h-1zM131 443h1v1h-1zM131 442h1v1h-1zM131 441h1v1h-1zM131 440h1v1h-1zM131 439h1v1h-1zM131 438h1v1h-1zM131 437h1v1h-1zM131 436h1v1h-1zM131 435h1v1h-1zM131 434h1v1h-1zM132 433h1v1h-1zM132 432h1v1h-1zM132 431h1v1h-1zM132 430h1v1h-1zM132 429h1v1h-1zM132 428h1v1h-1zM132 427h1v1h-1zM132 426h1v1h-1zM132 425h1v1h-1zM132 424h1v1h-1zM133 423h1v1h-1zM133 422h1v1h-1zM133 421h1v1h-1zM133 420h1v1h-1zM133 419h1v1h-1zM133 418h1v1h-1zM133 417h1v1h-1zM133 416h1v1h-1zM133 415h1v1h-1zM133 414h1v1h-1zM134 413h1v1h-1zM134 412h1v1h-1zM134 411h1v1h-1zM134 410h1v1h-1zM134 409h1v1h-1zM134 408h1v1h-1zM134 407h1v1h-1zM134 406h1v1h-1zM134 405h1v1h-1zM134 404h1v1h-1zM134 403h1v1h-1zM135 402h1v1h-1zM135 401h1v1h-1zM135 400h1v1h-1zM135 399h1v1h-1zM135 398h1v1h-1zM135 397h1v1h-1zM135 396h1v1h-1zM135 395h1v1h-1zM135 394h1v1h-1zM135 393h1v1h-1zM136 392h1v1h-1zM136 391h1v1h-1zM136 390h1v1h-1zM136 389h1v1h-1zM136 388h1v1h-1zM136 387h1v1h-1zM136 386h1v1h-1zM136 385h1v1h-1zM136 384h1v1h-1zM136 383h1v1h-1zM137 382h1v1h-1zM137 381h1v1h-1zM137 380h1v1h-1zM137 379h1v1h-1zM137 378h1v1h-1zM137 377h1v1h-1zM137 376h1v1h-1zM137 375h1v1h-1zM137 374h1v1h-1zM138 373h1v1h-1zM138 372h1v1h-1zM138 371h1v1h-1zM138 370h1v1h-1zM138 369h1v1h-1zM138 368h1v1h-1zM138 367h1v1h-1zM139 366h1v1h-1zM139 365h1v1h-1zM139 364h1v1h-1zM139 363h1v1h-1zM139 362h1v1h-1zM139 361h1v1h-1zM140 360h1v1h-1zM140 359h1v1h-1zM140 358h1v1h-1zM140 357h1v1h-1zM140 356h1v1h-1zM140 355h1v1h-1zM140 354h1v1h-1zM141 353h1v1h-1zM141 352h1v1h-1zM141 351h1v1h-1zM141 350h1v1h-1zM141 349h1v1h-1zM141 348h1v1h-1zM141 347h1v1h-1zM142 346h1v1h-1zM142 345h1v1h-1zM142 344h1v1h-1zM142 343h1v1h-1zM142 342h1v1h-1zM142 341h1v1h-1zM143 340h1v1h-1zM143 339h1v1h-1zM143 338h1v1h-1zM143 337h1v1h-1zM143 336h1v1h-1zM143 335h1v1h-1zM143 334h1v1h-1zM144 333h1v1h-1zM144 332h1v1h-1zM144 331h1v1h-1zM144 330h1v1h-1zM144 329h1v1h-1zM144 328h1v1h-1zM144 327h1v1h-1zM144 326h1v1h-1zM145 325h1v1h-1zM145 324h1v1h-1zM145 323h1v1h-1zM145 322h1v1h-1zM145 321h1v1h-1zM145 320h1v1h-1zM145 319h1v1h-1zM145 318h1v1h-1zM146 317h1v1h-1zM146 316h1v1h-1zM146 315h1v1h-1zM146 314h1v1h-1zM146 313h1v1h-1zM146 312h1v1h-1zM146 311h1v1h-1zM146 310h1v1h-1zM147 309h1v1h-1zM147 308h1v1h-1zM147 307h1v1h-1zM147 306h1v1h-1zM147 305h1v1h-1zM147 304h1v1h-1zM148 303h1v1h-1zM148 302h1v1h-1zM148 301h1v1h-1zM149 300h1v1h-1zM149 299h1v1h-1zM150 298h1v1h-1zM151 297h1v1h-1zM151 296h1v1h-1zM152 295h1v1h-1zM152 294h1v1h-1zM153 293h1v1h-1zM154 292h1v1h-1zM154 291h1v1h-1zM155 290h1v1h-1zM156 289h1v1h-1zM157 288h1v1h-1zM157 287h1v1h-1zM158 286h1v1h-1zM159 285h1v1h-1zM160 284h1v1h-1zM160 283h1v1h-1zM161 282h2v1h-2zM163 281h2v1h-2zM165 282h2v1h-2zM167 283h2v1h-2zM169 284h1v1h-1zM170 285h1v1h-1zM171 286h1v2h-1zM172 288h1v1h-1zM173 289h1v1h-1zM174 290h1v1h-1zM175 291h1v1h-1zM176 292h1v2h-1zM177 294h1v1h-1zM178 295h1v1h-1zM179 296h1v1h-1zM180 297h1v1h-1zM181 298h1v1h-1zM182 299h1v1h-1zM183 300h1v1h-1zM184 301h1v1h-1zM185 300h2v1h-2zM187 299h2v1h-2zM189 298h3v1h-3zM192 297h1v1h-1zM193 296h2v1h-2zM195 295h1v1h-1zM196 294h1v1h-1zM197 293h1v1h-1zM198 292h1v1h-1zM199 291h1v1h-1zM200 290h3v1h-3zM203 289h12v1h-12zM215 290h3v1h-3zM218 289h2v1h-2zM220 288h2v1h-2zM222 287h1v1h-1zM223 286h1v1h-1zM224 285h2v1h-2zM226 284h1v1h-1zM227 283h12v1h-12zM239 284h2v1h-2zM241 285h4v1h-4zM245 286h9v1h-9zM254 287h2v1h-2zM256 288h2v1h-2zM257 289h1v1h-1zM258 290h1v2h-1zM259 292h1v2h-1zM260 294h1v3h-1zM261 297h1v4h-1zM262 301h1v4h-1zM263 305h1v4h-1zM264 309h1v4h-1zM265 313h1v3h-1zM266 316h1v3h-1zM267 319h1v2h-1zM268 321h1v3h-1zM269 324h1v3h-1zM270 327h1v2h-1zM271 329h1v2h-1zM272 331h1v2h-1zM273 333h1v2h-1zM274 335h1v2h-1zM275 337h1v2h-1zM276 339h1v1h-1zM277 340h1v1h-1zM278 341h1v1h-1zM279 342h1v1h-1zM280 343h1v1h-1zM281 342h1v1h-1zM282 341h2v1h-2zM284 340h1v1h-1zM285 339h2v1h-2zM287 338h2v1h-2zM289 337h4v1h-4zM293 338h4v1h-4zM297 339h2v1h-2zM299 340h7v1h-7zM306 339h2v1h-2zM308 338h3v1h-3zM311 337h2v1h-2zM313 336h2v1h-2zM315 335h1v1h-1zM315 334h1v1h-1zM316 333h1v1h-1zM317 332h1v1h-1zM317 331h1v1h-1zM318 330h1v1h-1zM318 329h1v1h-1zM319 328h1v1h-1zM320 327h2v1h-2zM322 326h4v1h-4zM326 325h4v1h-4zM330 326h3v1h-3zM333 327h1v1h-1zM334 328h1v1h-1zM335 329h1v1h-1zM336 330h1v1h-1zM337 331h2v1h-2zM339 332h2v1h-2zM341 333h2v1h-2zM343 334h2v1h-2zM345 335h2v1h-2zM347 336h10v1h-10zM357 335h5v1h-5zM362 334h3v1h-3zM365 333h15v1h-15zM380 334h2v1h-2zM382 335h9v1h-9zM391 334h3v1h-3zM394 333h2v1h-2zM396 332h1v1h-1zM397 331h2v1h-2zM399 330h1v1h-1zM400 329h1v1h-1zM401 328h2v1h-2zM403 327h1v1h-1zM404 326h1v1h-1zM405 325h2v1h-2zM407 324h1v1h-1zM407 323h1v1h-1zM408 322h1v1h-1zM408 321h1v1h-1zM408 320h1v1h-1zM409 319h1v1h-1zM409 318h1v1h-1zM409 317h1v1h-1zM410 316h1v1h-1zM410 315h1v1h-1zM410 314h1v1h-1zM410 313h1v1h-1zM411 312h1v1h-1zM411 311h1v1h-1zM411 310h1v1h-1zM412 309h1v1h-1zM412 308h1v1h-1zM412 307h1v1h-1zM412 306h1v1h-1zM412 305h1v1h-1zM413 304h1v1h-1zM413 303h1v1h-1zM413 302h1v1h-1zM413 301h1v1h-1zM413 300h1v1h-1zM413 299h1v1h-1zM414 298h1v1h-1zM414 297h1v1h-1zM414 296h1v1h-1zM414 295h1v1h-1zM414 294h1v1h-1zM414 293h1v1h-1zM414 292h1v1h-1zM415 291h1v1h-1zM415 290h1v1h-1zM415 289h1v1h-1zM415 288h1v1h-1zM415 287h1v1h-1zM415 286h1v1h-1zM416 285h1v1h-1zM416 284h1v1h-1zM416 283h1v1h-1zM416 282h1v1h-1zM416 281h1v1h-1zM416 280h1v1h-1zM416 279h1v1h-1zM417 278h1v1h-1zM417 277h1v1h-1zM417 276h1v1h-1zM417 275h1v1h-1zM417 274h1v1h-1zM417 273h1v1h-1zM418 272h1v1h-1zM418 271h1v1h-1zM418 270h1v1h-1zM418 269h1v1h-1zM418 268h1v1h-1zM418 267h1v1h-1zM418 266h1v1h-1zM419 265h1v1h-1zM419 264h1v1h-1zM419 263h1v1h-1zM419 262h1v1h-1zM419 261h1v1h-1zM419 260h1v1h-1zM420 259h1v1h-1zM420 258h1v1h-1zM420 257h1v1h-1zM420 256h1v1h-1zM420 255h1v1h-1zM420 254h1v1h-1zM420 253h1v1h-1zM420 252h1v1h-1zM420 251h1v1h-1zM420 250h1v1h-1zM420 249h1v1h-1zM420 248h1v1h-1zM420 247h1v1h-1zM420 246h1v1h-1zM420 245h1v1h-1zM420 244h1v1h-1zM420 243h1v1h-1zM420 242h1v1h-1zM421 241h1v1h-1zM421 240h1v1h-1zM421 239h1v1h-1zM421 238h1v1h-1zM421 237h1v1h-1zM421 236h1v1h-1zM422 235h1v1h-1zM422 234h1v1h-1zM422 233h1v1h-1zM422 232h1v1h-1zM422 231h1v1h-1zM422 230h1v1h-1zM422 229h1v1h-1zM423 228h1v1h-1zM423 227h1v1h-1zM423 226h1v1h-1zM423 225h1v1h-1zM423 224h1v1h-1zM423 223h1v1h-1zM423 222h1v1h-1zM424 221h1v1h-1zM424 220h1v1h-1zM424 219h1v1h-1zM424 218h1v1h-1zM424 217h1v1h-1zM424 216h1v1h-1zM425 215h1v1h-1zM425 214h1v1h-1zM425 213h1v1h-1zM425 212h1v1h-1zM425 211h1v1h-1zM425 210h1v1h-1zM425 209h1v1h-1zM426 208h1v1h-1zM426 207h1v1h-1zM426 206h1v1h-1zM426 205h1v1h-1zM426 204h1v1h-1zM426 203h1v1h-1zM427 202h1v1h-1zM427 201h1v1h-1zM427 200h1v1h-1zM427 199h1v1h-1zM427 198h1v1h-1zM427 197h1v1h-1zM428 196h1v1h-1zM428 195h1v1h-1zM428 194h1v1h-1zM428 193h1v1h-1zM428 192h1v1h-1zM428 191h1v1h-1zM429 190h1v1h-1zM429 189h1v1h-1zM429 188h1v1h-1zM429 187h1v1h-1zM429 186h1v1h-1zM429 185h1v1h-1zM430 184h1v1h-1zM430 183h1v1h-1zM430 182h1v1h-1zM430 181h1v1h-1zM430 180h1v1h-1zM430 179h1v1h-1zM431 178h1v1h-1zM431 177h1v1h-1zM431 176h1v1h-1zM431 175h1v1h-1zM431 174h1v1h-1zM431 173h1v1h-1zM432 172h1v1h-1zM432 171h1v1h-1zM432 170h1v1h-1zM432 169h1v1h-1zM432 168h1v1h-1zM433 167h1v1h-1zM433 166h1v1h-1zM433 165h1v1h-1zM433 164h1v1h-1zM434 163h1v1h-1zM434 162h1v1h-1zM434 161h1v1h-1zM434 160h1v1h-1zM435 159h1v1h-1zM435 158h1v1h-1zM435 157h1v1h-1zM435 156h1v1h-1zM436 155h1v1h-1zM436 154h1v1h-1zM437 153h2v1h-2zM439 152h2v1h-2zM441 151h1v1h-1zM441 150h1v1h-1zM442 149h1v1h-1zM442 148h1v1h-1zM443 147h1v1h-1zM443 146h2v1h-2zM444 145h1v1h-1zM445 147h1v3h-1zM446 150h1v4h-1zM447 154h1v3h-1zM448 157h1v2h-1zM449 159h1v1h-1zM450 160h1v1h-1zM451 161h1v1h-1zM452 162h1v2h-1zM453 164h1v2h-1zM454 166h1v3h-1zM455 169h1v2h-1zM456 171h1v3h-1zM457 174h1v2h-1zM458 176h1v2h-1zM459 178h1v2h-1zM460 180h1v2h-1zM461 182h1v2h-1zM462 184h1v1h-1zM463 185h1v2h-1zM464 187h1v1h-1zM465 186h1v1h-1zM465 185h1v1h-1zM466 184h1v1h-1zM467 183h1v1h-1zM467 182h1v1h-1zM468 181h1v1h-1zM468 180h1v1h-1zM469 179h1v1h-1zM470 178h1v1h-1zM471 177h1v1h-1zM472 176h2v1h-2zM474 175h1v1h-1zM475 174h1v1h-1zM476 173h1v1h-1zM476 172h1v1h-1zM477 171h1v1h-1zM477 170h1v1h-1zM477 169h1v1h-1zM478 168h1v1h-1zM478 167h1v1h-1zM478 166h1v1h-1zM479 165h1v1h-1zM479 164h1v1h-1zM479 163h1v1h-1zM480 162h1v1h-1zM480 161h1v1h-1zM480 160h1v1h-1zM481 159h1v1h-1zM481 158h1v1h-1zM481 157h1v1h-1zM482 156h1v1h-1zM482 155h1v1h-1zM482 154h1v1h-1zM482 153h1v1h-1zM483 152h1v1h-1zM483 151h1v1h-1zM483 150h1v1h-1zM484 149h1v1h-1zM484 148h1v1h-1zM484 147h1v1h-1zM485 146h1v1h-1zM485 145h1v1h-1zM486 144h1v1h-1zM486 143h1v1h-1zM486 142h1v1h-1zM487 141h1v1h-1zM487 140h1v1h-1zM487 139h1v1h-1zM487 138h1v1h-1zM488 137h1v1h-1zM488 136h1v1h-1zM488 135h1v1h-1zM488 134h1v1h-1zM488 133h1v1h-1zM489 132h1v1h-1zM489 131h1v1h-1zM489 130h1v1h-1zM489 129h1v1h-1zM489 128h1v1h-1zM490 127h1v1h-1zM490 126h1v1h-1zM490 125h1v1h-1zM490 124h1v1h-1zM490 123h1v1h-1zM491 122h1v1h-1zM491 121h1v1h-1zM491 120h1v1h-1zM491 119h1v1h-1zM491 118h1v1h-1zM492 117h1v1h-1zM492 116h1v1h-1zM492 115h1v1h-1zM492 114h1v1h-1zM492 113h1v1h-1zM493 112h1v1h-1zM493 111h1v1h-1zM493 110h1v1h-1zM493 109h1v1h-1zM494 108h1v1h-1zM494 107h1v1h-1zM494 106h1v1h-1zM494 105h1v1h-1zM494 104h1v1h-1zM495 103h1v1h-1zM495 102h1v1h-1zM495 101h1v1h-1zM495 100h1v1h-1zM496 99h1v1h-1zM496 98h1v1h-1zM496 97h1v1h-1zM497 96h1v1h-1zM497 95h1v1h-1zM498 94h1v1h-1zM498 93h1v1h-1zM498 92h1v1h-1zM499 91h1v1h-1zM499 90h1v1h-1zM499 89h1v1h-1zM500 88h1v1h-1zM500 87h1v1h-1zM501 86h1v1h-1zM502 85h1v1h-1zM503 84h1v1h-1zM504 83h1v1h-1zM505 82h1v1h-1zM506 81h1v1h-1zM507 80h1v1h-1zM508 79h2v1h-2zM510 78h2v1h-2zM512 77h3v1h-3zM515 76h2v1h-2zM517 75h1v1h-1zM518 74h2v1h-2zM520 73h2v1h-2zM522 74h3v1h-3zM525 75h1v1h-1zM526 76h1v2h-1zM527 78h1v1h-1zM528 79h1v1h-1zM529 80h1v2h-1zM530 82h1v2h-1zM531 84h1v2h-1zM532 86h1v2h-1zM533 88h1v3h-1zM534 91h1v4h-1zM535 95h1v3h-1zM536 98h1v3h-1zM537 101h1v3h-1zM538 104h1v4h-1zM539 108h1v3h-1zM540 111h1v2h-1zM541 113h1v2h-1zM542 115h1v2h-1zM543 117h1v2h-1zM544 119h1v2h-1zM545 121h1v1h-1zM546 122h1v2h-1zM547 124h1v1h-1zM548 125h1v2h-1zM549 127h1v2h-1zM550 129h1v2h-1zM551 131h1v2h-1zM552 133h1v3h-1zM553 136h1v4h-1zM554 140h1v3h-1zM555 143h1v4h-1zM556 147h1v3h-1zM557 150h1v3h-1zM558 153h1v3h-1zM559 156h1v3h-1zM560 159h1v3h-1zM561 162h1v2h-1zM562 164h1v3h-1zM563 167h1v2h-1zM564 169h1v2h-1zM565 171h1v1h-1zM566 172h2v1h-2zM568 173h1v1h-1zM569 172h1v1h-1zM570 171h2v1h-2zM572 170h1v1h-1zM572 169h1v1h-1zM573 168h1v1h-1zM573 167h1v1h-1zM574 166h1v1h-1zM574 165h1v1h-1zM574 164h1v1h-1zM575 163h1v1h-1zM575 162h1v1h-1zM576 161h1v1h-1zM576 160h1v1h-1zM576 159h1v1h-1zM577 158h1v1h-1zM577 157h1v1h-1zM578 156h1v1h-1zM578 155h1v1h-1zM578 154h1v1h-1zM579 153h1v1h-1zM579 152h1v1h-1zM580 151h1v1h-1zM580 150h1v1h-1zM581 149h1v1h-1zM581 148h1v1h-1zM582 147h1v1h-1zM582 146h1v1h-1zM583 145h1v1h-1zM583 144h1v1h-1zM584 143h1v1h-1zM585 142h1v1h-1zM586 141h1v1h-1zM586 140h1v1h-1zM587 139h1v1h-1zM588 138h1v1h-1zM589 137h1v1h-1zM589 136h1v1h-1zM590 135h1v1h-1zM590 134h1v1h-1zM591 133h1v1h-1zM591 132h1v1h-1zM592 131h1v1h-1zM592 130h1v1h-1zM593 129h1v1h-1zM593 128h1v1h-1zM594 127h1v1h-1zM594 126h1v1h-1zM595 125h1v1h-1zM595 124h1v1h-1zM596 123h1v1h-1zM596 122h1v1h-1zM597 121h1v1h-1zM597 120h1v1h-1zM598 119h1v1h-1zM599 118h1v1h-1zM599 117h1v1h-1zM600 116h1v1h-1zM601 115h1v1h-1zM602 114h1v1h-1zM602 113h1v1h-1zM603 112h1v1h-1zM604 111h1v1h-1zM605 110h1v1h-1zM606 109h1v1h-1zM606 108h1v1h-1zM607 107h1v1h-1zM608 106h1v1h-1zM609 105h1v1h-1zM610 104h1v1h-1zM611 103h1v1h-1zM612 102h1v1h-1zM613 101h1v1h-1zM614 100h1v1h-1zM615 99h1v1h-1zM616 98h1v1h-1zM617 97h1v1h-1zM618 96h2v1h-2zM620 95h2v1h-2zM622 96h3v1h-3zM625 97h1v2h-1zM626 99h1v2h-1zM627 101h1v2h-1zM628 103h1v1h-1zM629 104h1v2h-1zM630 106h1v1h-1zM631 107h1v2h-1zM632 109h1v1h-1zM633 110h1v1h-1zM634 111h2v1h-2zM636 112h2v1h-2zM638 111h3v1h-3zM641 110h2v1h-2zM643 109h2v1h-2zM645 110h1v1h-1zM646 111h2v1h-2zM648 112h1v1h-1zM649 113h1v2h-1zM650 115h1v1h-1zM651 116h1v2h-1zM652 118h1v2h-1zM653 120h1v2h-1zM654 122h1v2h-1zM655 124h1v2h-1zM656 126h1v3h-1zM657 129h1v4h-1zM658 133h1v4h-1zM659 137h1v4h-1zM660 141h1v2h-1zM661 143h1v2h-1zM662 145h1v2h-1zM663 147h1v2h-1zM664 149h1v1h-1zM665 150h1v1h-1zM666 151h2v1h-2zM668 152h10v1h-10zM678 151h3v1h-3zM681 152h1v1h-1zM682 153h2v1h-2zM684 154h1v1h-1zM685 155h1v1h-1zM686 156h2v1h-2zM688 157h1v1h-1zM689 158h1v1h-1zM690 159h2v1h-2zM692 160h1v1h-1zM693 161h2v1h-2zM695 162h2v1h-2zM697 163h2v1h-2zM699 164h2v1h-2zM701 165h1v1h-1zM702 166h2v1h-2zM704 167h1v1h-1zM705 168h1v1h-1zM706 169h2v1h-2zM708 170h2v1h-2zM710 171h3v1h-3zM713 172h1v1h-1zM714 173h2v1h-2zM716 174h2v1h-2zM718 175h3v1h-3zM721 176h1v1h-1zM722 177h2v1h-2zM724 178h1v1h-1zM725 179h1v1h-1zM726 180h1v2h-1zM727 182h1v1h-1zM728 183h1v1h-1zM729 184h1v1h-1zM730 185h1v2h-1zM731 187h1v1h-1zM732 188h1v2h-1zM733 190h1v2h-1zM734 192h1v2h-1zM735 194h1v2h-1zM736 196h1v3h-1zM737 199h1v2h-1zM738 201h1v3h-1zM739 204h1v2h-1zM740 206h1v3h-1zM741 209h1v2h-1zM742 211h1v3h-1zM743 214h1v2h-1zM744 216h1v3h-1zM745 219h1v2h-1zM746 221h1v3h-1zM747 224h1v2h-1zM748 226h1v2h-1zM749 228h1v1h-1zM750 229h1v2h-1zM751 231h1v1h-1zM752 232h2v1h-2zM754 231h3v1h-3zM757 230h2v1h-2zM759 229h2v1h-2zM760 228h1v1h-1zM761 227h1v1h-1zM761 226h1v1h-1zM761 225h1v1h-1zM762 224h1v1h-1zM762 223h1v1h-1zM763 222h1v1h-1zM763 221h1v1h-1zM763 220h1v1h-1zM764 219h1v1h-1zM764 218h1v1h-1zM765 217h1v1h-1zM766 216h1v1h-1zM766 215h1v1h-1zM767 214h1v1h-1zM768 213h1v1h-1zM769 212h2v1h-2zM771 211h2v1h-2zM773 212h1v1h-1zM774 213h1v1h-1zM775 214h1v1h-1zM776 215h1v1h-1zM777 214h1v1h-1zM778 213h1v1h-1zM778 212h1v1h-1zM779 211h1v1h-1zM780 210h1v1h-1zM781 209h2v1h-2zM783 208h3v1h-3zM786 207h3v1h-3zM789 206h1v1h-1zM789 205h1v1h-1zM790 204h1v1h-1zM790 203h1v1h-1zM791 202h1v1h-1zM791 201h1v1h-1zM792 200h1v1h-1zM793 199h1v1h-1zM794 198h1v1h-1zM794 197h1v1h-1zM795 196h1v1h-1zM796 195h1v1h-1zM797 194h1v1h-1zM798 193h1v1h-1zM799 192h1v1h-1zM800 191h5v1h-5zM805 192h1v1h-1zM806 193h2v1h-2zM808 194h1v1h-1zM809 195h1v1h-1zM810 196h2v1h-2zM812 197h1v1h-1zM813 198h2v1h-2zM815 199h3v1h-3zM818 200h4v1h-4zM822 199h3v1h-3zM825 198h1v1h-1zM826 197h1v1h-1zM827 196h1v1h-1zM828 195h1v1h-1zM829 194h1v1h-1zM829 193h1v1h-1zM830 192h1v1h-1zM830 191h1v1h-1zM831 190h1v1h-1zM831 189h1v1h-1zM832 188h1v1h-1zM832 187h1v1h-1zM833 186h1v1h-1zM834 185h2v1h-2zM836 184h1v1h-1zM837 183h2v1h-2zM839 182h6v1h-6zM845 183h1v1h-1zM846 184h2v1h-2zM848 185h1v1h-1zM849 186h1v2h-1zM850 188h1v2h-1zM851 190h1v2h-1zM852 192h1v2h-1zM853 194h2v1h-2zM855 195h2v1h-2zM857 196h1v1h-1zM858 197h2v1h-2zM860 198h1v2h-1zM861 200h1v2h-1zM862 202h1v2h-1zM863 204h1v2h-1zM864 206h1v2h-1zM865 208h2v1h-2zM867 209h2v1h-2zM869 210h1v2h-1zM870 212h1v1h-1zM871 213h1v2h-1zM872 215h1v1h-1zM873 216h1v2h-1zM874 218h1v2h-1zM875 220h1v2h-1zM876 222h1v1h-1zM877 223h1v2h-1zM878 225h1v1h-1zM879 226h1v2h-1zM880 228h2v1h-2zM882 227h8v1h-8zM890 228h3v1h-3zM893 227h2v1h-2zM895 226h2v1h-2zM897 225h2v1h-2zM899 224h2v1h-2zM901 223h1v1h-1zM902 222h2v1h-2zM904 221h5v1h-5zM909 222h1v1h-1zM910 223h2v1h-2zM912 224h2v1h-2zM914 225h3v1h-3zM917 226h1v1h-1zM918 227h1v1h-1zM919 228h1v1h-1zM920 229h1v1h-1zM921 230h1v1h-1zM922 231h1v1h-1zM923 232h1v1h-1zM924 233h1v1h-1zM925 234h1v2h-1zM926 236h1v2h-1zM927 238h1v2h-1zM928 240h1v1h-1zM929 241h1v2h-1zM930 243h1v2h-1zM931 245h1v2h-1zM932 247h1v2h-1zM933 249h1v1h-1zM934 250h1v2h-1zM935 252h1v1h-1zM936 253h1v1h-1zM937 254h1v2h-1zM938 256h1v1h-1zM939 257h1v2h-1zM940 259h9v1h-9zM949 260h2v1h-2zM951 261h2v1h-2zM953 262h1v1h-1zM954 263h1v1h-1zM955 264h1v1h-1zM956 265h1v1h-1zM957 266h1v2h-1zM958 268h1v2h-1zM959 270h1v2h-1zM960 272h1v2h-1zM961 274h1v3h-1zM962 277h1v2h-1zM963 279h1v3h-1zM964 282h1v3h-1zM965 285h1v2h-1zM966 287h1v2h-1zM967 289h1v2h-1zM968 291h1v3h-1zM969 294h1v2h-1zM970 296h1v2h-1zM971 298h1v2h-1zM972 300h1v3h-1zM973 303h1v2h-1zM974 305h1v2h-1zM975 307h1v2h-1zM976 309h1v3h-1zM977 312h1v2h-1zM978 314h1v2h-1zM979 316h1v2h-1zM980 318h1v2h-1zM981 320h1v2h-1zM982 322h1v1h-1zM983 323h1v2h-1zM984 325h1v2h-1zM985 327h1v2h-1zM986 329h1v2h-1zM987 331h1v2h-1zM988 333h1v2h-1zM989 335h1v1h-1zM990 336h2v1h-2zM992 337h1v1h-1zM993 338h2v1h-2zM995 339h2v1h-2zM997 338h1v1h-1zM998 337h2v1h-2zM1000 336h1v1h-1zM1001 335h1v1h-1zM1001 334h1v1h-1zM1002 333h1v1h-1zM1003 332h1v1h-1zM1003 331h1v1h-1zM1004 330h1v1h-1zM1004 329h1v1h-1zM1005 328h1v1h-1zM1005 327h1v1h-1zM1005 326h1v1h-1zM1005 325h1v1h-1zM1006 324h1v1h-1zM1006 323h1v1h-1zM1006 322h1v1h-1zM1006 321h1v1h-1zM1007 320h1v1h-1zM1007 319h1v1h-1zM1007 318h1v1h-1zM1007 317h1v1h-1zM1008 316h1v1h-1zM1008 315h1v1h-1zM1008 314h1v1h-1zM1008 313h1v1h-1zM1009 312h1v1h-1zM1009 311h1v1h-1zM1009 310h1v1h-1zM1010 309h1v1h-1zM1010 308h1v1h-1zM1010 307h1v1h-1zM1010 306h1v1h-1zM1011 305h1v1h-1zM1011 304h1v1h-1zM1011 303h1v1h-1zM1012 302h1v1h-1zM1012 301h1v1h-1zM1012 300h1v1h-1zM1013 299h1v1h-1zM1013 298h1v1h-1zM1013 297h1v1h-1zM1014 296h1v1h-1zM1014 295h1v1h-1zM1014 294h1v1h-1zM1014 293h1v1h-1zM1015 292h1v1h-1zM1015 291h1v1h-1zM1015 290h1v1h-1zM1016 289h1v1h-1zM1016 288h1v1h-1zM1016 287h1v1h-1zM1017 286h1v1h-1zM1017 285h1v1h-1zM1017 284h1v1h-1zM1018 283h1v1h-1zM1018 282h1v1h-1zM1018 281h1v1h-1zM1018 280h1v1h-1zM1019 279h1v1h-1zM1019 278h1v1h-1zM1019 277h1v1h-1zM1020 276h1v1h-1zM1020 275h1v1h-1zM1021 274h1v1h-1zM1021 273h1v1h-1zM1022 272h1v1h-1zM1022 271h1v1h-1zM1023 270h1v1h-1zM1023 269h1v1h-1zM1024 268h1v1h-1zM1024 267h1v1h-1zM1025 266h1v1h-1zM1025 265h1v1h-1zM1026 264h1v1h-1zM1026 263h1v1h-1zM1027 262h1v1h-1zM1027 261h1v1h-1zM1028 260h1v1h-1zM1028 259h1v1h-1zM1029 258h1v1h-1zM1029 257h1v1h-1zM1029 256h1v1h-1zM1030 255h1v1h-1zM1030 254h1v1h-1zM1030 253h1v1h-1zM1031 252h1v1h-1zM1031 251h1v1h-1zM1031 250h1v1h-1zM1032 249h1v1h-1zM1032 248h1v1h-1zM1032 247h1v1h-1zM1033 246h1v1h-1zM1033 245h1v1h-1zM1034 244h1v1h-1zM1034 243h1v1h-1zM1034 242h1v1h-1zM1035 241h1v1h-1zM1035 240h1v1h-1zM1036 239h1v1h-1zM1036 238h1v1h-1zM1037 237h1v1h-1zM1038 236h1v1h-1zM1038 235h1v1h-1zM1039 234h1v1h-1zM1040 233h1v1h-1zM1041 232h1v1h-1zM1041 231h1v1h-1zM1042 230h1v1h-1zM1043 229h1v1h-1zM1043 228h1v1h-1zM1044 227h1v1h-1zM1045 226h1v1h-1zM1046 225h2v1h-2zM1048 224h1v1h-1zM1049 225h1v2h-1zM1050 227h1v1h-1zM1051 228h1v2h-1zM1052 230h1v1h-1zM1053 231h1v1h-1zM1054 232h2v1h-2zM1056 233h6v1h-6zM1062 234h8v1h-8zM1070 235h3v1h-3zM1073 236h2v1h-2zM1075 237h2v1h-2zM1077 238h1v1h-1zM1078 239h2v1h-2zM1080 240h1v1h-1zM1081 241h1v1h-1zM1082 242h2v1h-2zM1084 243h1v1h-1zM1085 242h2v1h-2zM1087 241h2v1h-2zM1089 240h1v1h-1zM1090 239h2v1h-2zM1092 238h1v1h-1zM1093 237h1v1h-1zM1094 236h1v1h-1zM1094 235h1v1h-1zM1095 234h1v1h-1zM1096 233h1v1h-1zM1097 232h1v1h-1zM1098 231h1v1h-1zM1098 230h1v1h-1zM1099 229h1v1h-1zM1100 228h1v1h-1zM1100 227h1v1h-1zM1101 226h1v1h-1zM1101 225h1v1h-1zM1102 224h1v1h-1zM1102 223h1v1h-1zM1103 222h1v1h-1zM1103 221h1v1h-1zM1104 220h1v1h-1zM1104 219h1v1h-1zM1104 218h1v1h-1zM1105 217h1v1h-1zM1105 216h1v1h-1zM1106 215h1v1h-1zM1106 214h1v1h-1zM1107 213h1v1h-1zM1107 212h1v1h-1zM1108 211h1v1h-1zM1108 210h1v1h-1zM1108 209h1v1h-1zM1109 208h1v1h-1zM1109 207h1v1h-1zM1110 206h1v1h-1zM1110 205h1v1h-1zM1111 204h1v1h-1zM1111 203h1v1h-1zM1112 202h1v1h-1zM1112 201h1v1h-1zM1113 200h1v1h-1zM1114 199h1v1h-1zM1115 198h1v1h-1zM1116 197h1v1h-1zM1117 196h2v1h-2zM1119 195h2v1h-2zM1121 196h2v1h-2zM1123 197h2v1h-2zM1125 198h1v1h-1zM1126 199h1v1h-1zM1127 200h1v1h-1zM1128 201h1v1h-1zM1129 202h1v2h-1zM1130 204h1v2h-1zM1131 206h1v2h-1zM1132 208h1v2h-1zM1133 210h1v2h-1zM1134 212h1v3h-1zM1135 215h1v2h-1zM1136 217h1v3h-1zM1137 220h1v3h-1zM1138 223h1v4h-1zM1139 227h1v3h-1zM1140 230h1v4h-1zM1141 234h1v4h-1zM1142 238h1v5h-1zM1143 243h1v4h-1zM1144 247h1v4h-1zM1145 251h1v4h-1zM1146 255h1v4h-1zM1147 259h1v4h-1zM1148 263h1v3h-1zM1149 266h1v3h-1zM1150 269h1v2h-1zM1151 271h1v3h-1zM1152 274h1v2h-1zM1153 276h1v2h-1zM1154 278h1v1h-1zM1155 279h1v2h-1zM1156 281h1v1h-1zM1157 282h1v1h-1zM1158 283h1v2h-1zM1159 285h1v1h-1zM1160 286h1v1h-1zM1161 285h2v1h-2zM1163 284h2v1h-2zM1165 283h1v1h-1zM1166 282h1v1h-1zM1166 281h1v1h-1zM1167 280h1v1h-1zM1168 279h1v1h-1zM1169 278h1v1h-1zM1169 277h1v1h-1zM1170 276h1v1h-1zM1171 275h1v1h-1zM1171 274h1v1h-1zM1172 273h1v1h-1zM1172 272h1v1h-1zM1172 271h1v1h-1zM1173 270h1v1h-1zM1173 269h1v1h-1zM1173 268h1v1h-1zM1173 267h1v1h-1zM1173 266h1v1h-1zM1174 265h1v1h-1zM1174 264h1v1h-1zM1174 263h1v1h-1zM1174 262h1v1h-1zM1175 261h1v1h-1zM1175 260h1v1h-1zM1175 259h1v1h-1zM1175 258h1v1h-1zM1175 257h1v1h-1zM1176 256h1v1h-1zM1176 255h1v1h-1zM1176 254h1v1h-1zM1176 253h1v1h-1zM1176 252h1v1h-1zM1177 251h1v1h-1zM1177 250h1v1h-1zM1177 249h1v1h-1zM1177 248h1v1h-1zM1177 247h1v1h-1zM1178 246h1v1h-1zM1178 245h1v1h-1zM1178 244h1v1h-1zM1178 243h1v1h-1zM1179 242h1v1h-1zM1179 241h1v1h-1zM1179 240h1v1h-1zM1179 239h1v1h-1zM1179 238h1v1h-1zM1180 237h1v1h-1zM1180 236h1v1h-1zM1180 235h1v1h-1zM1180 234h1v1h-1zM1181 233h1v1h-1zM1181 232h1v1h-1zM1181 231h1v1h-1zM1182 230h1v1h-1zM1182 229h1v1h-1zM1183 228h1v1h-1zM1183 227h1v1h-1zM1183 226h1v1h-1zM1184 225h1v1h-1zM1184 224h1v1h-1zM1184 223h1v1h-1zM1185 222h1v1h-1zM1185 221h1v1h-1zM1186 220h1v1h-1zM1186 219h1v1h-1zM1187 218h1v1h-1zM1187 217h1v1h-1zM1188 216h1v1h-1zM1188 215h1v1h-1zM1188 214h1v1h-1zM1189 213h1v1h-1zM1189 212h1v1h-1zM1189 211h1v1h-1zM1190 210h1v1h-1zM1190 209h1v1h-1zM1190 208h1v1h-1zM1190 207h1v1h-1zM1191 206h1v1h-1zM1191 205h1v1h-1zM1191 204h1v1h-1zM1192 203h1v1h-1zM1192 202h1v1h-1zM1192 201h1v1h-1zM1193 200h1v1h-1zM1193 199h1v1h-1zM1193 198h1v1h-1zM1194 197h1v1h-1zM1194 196h1v1h-1zM1194 195h1v1h-1zM1195 194h1v1h-1zM1195 193h1v1h-1zM1195 192h1v1h-1zM1196 191h1v1h-1zM1196 190h1v1h-1zM1196 189h1v1h-1zM1197 188h1v1h-1zM1197 187h1v1h-1zM1197 186h1v1h-1zM1197 185h1v1h-1zM1198 184h1v1h-1zM1198 183h1v1h-1zM1198 182h1v1h-1zM1198 181h1v1h-1zM1199 180h1v1h-1zM1199 179h1v1h-1zM1199 178h1v1h-1zM1199 177h1v1h-1zM1200 176h1v1h-1zM1200 175h1v1h-1zM1200 174h1v1h-1zM1200 173h1v1h-1zM1201 172h1v1h-1zM1201 171h1v1h-1zM1201 170h1v1h-1zM1201 169h1v1h-1zM1201 168h1v1h-1zM1201 167h1v1h-1zM1202 166h1v1h-1zM1202 165h1v1h-1zM1202 164h1v1h-1zM1202 163h1v1h-1zM1202 162h1v1h-1zM1202 161h1v1h-1zM1203 160h1v1h-1zM1203 159h1v1h-1zM1203 158h1v1h-1zM1203 157h1v1h-1zM1203 156h1v1h-1zM1203 155h1v1h-1zM1204 154h1v1h-1zM1204 153h1v1h-1zM1204 152h1v1h-1zM1204 151h1v1h-1zM1204 150h1v1h-1zM1204 149h1v1h-1zM1205 148h1v1h-1zM1205 147h1v1h-1zM1205 146h1v1h-1zM1205 145h1v1h-1zM1205 144h1v1h-1zM1206 143h1v1h-1zM1206 142h1v1h-1zM1206 141h1v1h-1zM1206 140h1v1h-1zM1206 139h1v1h-1zM1207 138h1v1h-1zM1207 137h1v1h-1zM1207 136h1v1h-1zM1207 135h1v1h-1zM1207 134h1v1h-1zM1208 133h1v1h-1zM1208 132h1v1h-1zM1208 131h1v1h-1zM1208 130h1v1h-1zM1208 129h1v1h-1zM1209 128h1v1h-1zM1209 127h1v1h-1zM1209 126h1v1h-1zM1209 125h1v1h-1zM1210 124h1v1h-1zM1210 123h1v1h-1zM1210 122h1v1h-1zM1210 121h1v1h-1zM1211 120h1v1h-1zM1211 119h1v1h-1zM1211 118h1v1h-1zM1211 117h1v1h-1zM1212 116h1v1h-1zM1212 115h1v1h-1zM1213 114h2v1h-2zM1215 113h2v1h-2zM1217 114h1v1h-1zM1218 115h2v1h-2zM1220 116h1v1h-1zM1221 117h1v2h-1zM1222 119h1v2h-1zM1223 121h1v2h-1zM1224 123h1v2h-1zM1225 125h1v1h-1zM1226 126h1v2h-1zM1227 128h1v1h-1zM1228 129h1v1h-1zM1229 130h1v1h-1zM1230 131h1v1h-1zM1231 132h1v1h-1zM1232 133h1v1h-1zM1233 132h1v1h-1zM1234 131h1v1h-1zM1235 130h1v1h-1zM1236 129h1v1h-1zM1237 130h1v1h-1zM1238 131h1v1h-1zM1239 132h1v1h-1zM1240 133h1v1h-1zM1241 134h2v1h-2zM1243 135h3v1h-3zM1246 134h3v1h-3zM1249 133h1v1h-1zM1250 132h2v1h-2zM1252 131h6v1h-6zM1258 132h3v1h-3zM1261 133h1v2h-1zM1262 135h1v2h-1zM1263 137h1v2h-1zM1264 139h1v2h-1zM1265 140h1v1h-1zM1266 141h2v1h-2z" fill="#ffa500" shape-rendering="crispEdges"/>
<g shape-rendering="crispEdges">
<rect x="4" y="41" width="1592" height="2" fill="#ff0000"/>
<rect x="4" y="133" width="1592" height="2" fill="#ff0000"/>
<rect x="4" y="223" width="1592" height="2" fill="#00ff00"/>
<rect x="4" y="330" width="1592" height="2" fill="#0000ff"/>
<rect x="4" y="439" width="1592" height="2" fill="#0000ff"/>
</g>
<path d="M1272 25 L1281.5 25 L1276.7 29.8 Z" fill="#c0c0c0"/>
<text class="ax" x="1601.7" y="35.7" textLength="33.4" lengthAdjust="spacingAndGlyphs">7.21310</text>
<text class="ax" x="1601.7" y="68.7" textLength="33.4" lengthAdjust="spacingAndGlyphs">7.17680</text>
<text class="ax" x="1601.7" y="101.7" textLength="33.4" lengthAdjust="spacingAndGlyphs">7.14050</text>
<text class="ax" x="1601.7" y="134.7" textLength="33.4" lengthAdjust="spacingAndGlyphs">7.10420</text>
<text class="ax" x="1601.7" y="167.7" textLength="33.4" lengthAdjust="spacingAndGlyphs">7.06680</text>
<text class="ax" x="1601.7" y="200.7" textLength="33.4" lengthAdjust="spacingAndGlyphs">7.03050</text>
<text class="ax" x="1601.7" y="233.7" textLength="33.4" lengthAdjust="spacingAndGlyphs">6.99420</text>
<text class="ax" x="1601.7" y="266.7" textLength="33.4" lengthAdjust="spacingAndGlyphs">6.95790</text>
<text class="ax" x="1601.7" y="299.7" textLength="33.4" lengthAdjust="spacingAndGlyphs">6.92050</text>
<text class="ax" x="1601.7" y="332.7" textLength="33.4" lengthAdjust="spacingAndGlyphs">6.88420</text>
<text class="ax" x="1601.7" y="365.7" textLength="33.4" lengthAdjust="spacingAndGlyphs">6.84790</text>
<text class="ax" x="1601.7" y="398.7" textLength="33.4" lengthAdjust="spacingAndGlyphs">6.81160</text>
<text class="ax" x="1601.7" y="431.7" textLength="33.4" lengthAdjust="spacingAndGlyphs">6.77420</text>
<text class="ax" x="1601.7" y="464.7" textLength="33.4" lengthAdjust="spacingAndGlyphs">6.73790</text>
<text class="ax" x="1601.7" y="497.7" textLength="33.4" lengthAdjust="spacingAndGlyphs">6.70160</text>
<text class="ax" x="1601.7" y="530.7" textLength="33.4" lengthAdjust="spacingAndGlyphs">6.66530</text>
<g shape-rendering="crispEdges">
<rect x="1598" y="36" width="38" height="11" fill="#ff0000"/>
<rect x="1598" y="128" width="38" height="11" fill="#ff0000"/>
<rect x="1598" y="155" width="38" height="11" fill="#000000"/>
<rect x="1598" y="218" width="38" height="11" fill="#00ff00"/>
<rect x="1598" y="325" width="38" height="11" fill="#0000ff"/>
<rect x="1598" y="434" width="38" height="11" fill="#0000ff"/>
</g>
<text class="axw" x="1601.7" y="45.0" textLength="33.4" lengthAdjust="spacingAndGlyphs">7.20193</text>
<text class="axw" x="1601.7" y="137.0" textLength="33.4" lengthAdjust="spacingAndGlyphs">7.10011</text>
<text class="axw" x="1601.7" y="164.0" textLength="33.4" lengthAdjust="spacingAndGlyphs">7.07189</text>
<text class="axw" x="1601.7" y="227.0" textLength="33.4" lengthAdjust="spacingAndGlyphs">7.00029</text>
<text class="axw" x="1601.7" y="334.0" textLength="33.4" lengthAdjust="spacingAndGlyphs">6.88250</text>
<text class="axw" x="1601.7" y="443.0" textLength="33.4" lengthAdjust="spacingAndGlyphs">6.76171</text>
<text class="ax" x="1600.2" y="543" textLength="14.5" lengthAdjust="spacingAndGlyphs">100</text>
<text class="ax" x="1600.2" y="564.3" textLength="9.7" lengthAdjust="spacingAndGlyphs">70</text>
<text class="ax" x="1600.2" y="600" textLength="9.7" lengthAdjust="spacingAndGlyphs">30</text>
<text class="ax" x="1600.2" y="620.7" textLength="4.8" lengthAdjust="spacingAndGlyphs">0</text>
<text class="ax" x="1600.2" y="637" textLength="36.0" lengthAdjust="spacingAndGlyphs">0.063113</text>
<text class="ax" x="1600.2" y="686.8" textLength="16.9" lengthAdjust="spacingAndGlyphs">0.00</text>
<text class="ax" x="1600.2" y="715" textLength="35.6" lengthAdjust="spacingAndGlyphs">-0.03887</text>
<path d="M7 30.5 L14 30.5 L10.5 34.5 Z" fill="#000"/>
<text class="ax" x="19.2" y="36.3" textLength="65.0" lengthAdjust="spacingAndGlyphs">USDCNH,Daily</text>
<text class="ax" x="90.7" y="36.3" textLength="141.6" lengthAdjust="spacingAndGlyphs">7.05432 7.07472 7.05116 7.07189</text>
<text class="ax" x="8" y="545" textLength="68.0" lengthAdjust="spacingAndGlyphs">RSI(14) 50.1012</text>
<text class="ax" x="8" y="639" textLength="66.0" lengthAdjust="spacingAndGlyphs">MACD(12,26,9)</text>
<text class="ax" x="77" y="639" textLength="38.0" lengthAdjust="spacingAndGlyphs">0.016191</text>
<text class="ax" x="118" y="639" textLength="38.0" lengthAdjust="spacingAndGlyphs">0.025863</text>
<text class="ax" x="3" y="730.5" textLength="52.2" lengthAdjust="spacingAndGlyphs">29 Mar 2019</text>
<text class="ax" x="67" y="730.5" textLength="50.2" lengthAdjust="spacingAndGlyphs">17 Apr 2019</text>
<text class="ax" x="131" y="730.5" textLength="55.2" lengthAdjust="spacingAndGlyphs">13 May 2019</text>
<text class="ax" x="195" y="730.5" textLength="55.2" lengthAdjust="spacingAndGlyphs">31 May 2019</text>
<text class="ax" x="259" y="730.5" textLength="51.2" lengthAdjust="spacingAndGlyphs">19 Jun 2019</text>
<text class="ax" x="323" y="730.5" textLength="42.9" lengthAdjust="spacingAndGlyphs">8 Jul 2019</text>
<text class="ax" x="387" y="730.5" textLength="48.1" lengthAdjust="spacingAndGlyphs">26 Jul 2019</text>
<text class="ax" x="451" y="730.5" textLength="52.2" lengthAdjust="spacingAndGlyphs">14 Aug 2019</text>
<text class="ax" x="515" y="730.5" textLength="47.6" lengthAdjust="spacingAndGlyphs">2 Sep 2019</text>
<text class="ax" x="579" y="730.5" textLength="52.7" lengthAdjust="spacingAndGlyphs">20 Sep 2019</text>
<text class="ax" x="643" y="730.5" textLength="45.5" lengthAdjust="spacingAndGlyphs">9 Oct 2019</text>
<text class="ax" x="707" y="730.5" textLength="50.7" lengthAdjust="spacingAndGlyphs">28 Oct 2019</text>
<text class="ax" x="771" y="730.5" textLength="52.7" lengthAdjust="spacingAndGlyphs">15 Nov 2019</text>
<text class="ax" x="835" y="730.5" textLength="47.6" lengthAdjust="spacingAndGlyphs">4 Dec 2019</text>
<text class="ax" x="899" y="730.5" textLength="52.7" lengthAdjust="spacingAndGlyphs">23 Dec 2019</text>
<text class="ax" x="963" y="730.5" textLength="51.2" lengthAdjust="spacingAndGlyphs">10 Jan 2020</text>
<text class="ax" x="1027" y="730.5" textLength="51.2" lengthAdjust="spacingAndGlyphs">29 Jan 2020</text>
<text class="ax" x="1091" y="730.5" textLength="52.2" lengthAdjust="spacingAndGlyphs">17 Feb 2020</text>
<text class="ax" x="1155" y="730.5" textLength="47.0" lengthAdjust="spacingAndGlyphs">6 Mar 2020</text>
<text class="ax" x="1219" y="730.5" textLength="52.2" lengthAdjust="spacingAndGlyphs">25 Mar 2020</text>
<g shape-rendering="crispEdges">
<rect x="0" y="739" width="1636" height="1" fill="#e6e6e6"/>
<rect x="0" y="740" width="1636" height="1" fill="#ffffff"/>
<rect x="0" y="741" width="1636" height="1" fill="#000"/>
<rect x="0" y="742" width="1636" height="1" fill="#fafafa"/>
<rect x="0" y="743" width="1636" height="18" fill="#f0f0f0"/>
<rect x="0" y="761" width="1636" height="1" fill="#fcfcfc"/>
<rect x="0" y="762" width="1636" height="1" fill="#f0f0f0"/>
<rect x="0" y="742" width="1" height="18" fill="#646464"/>
<rect x="1" y="742" width="1" height="18" fill="#fafafa"/>
<rect x="417" y="741" width="104" height="19" fill="#000"/>
<rect x="418" y="741" width="101" height="18" fill="#fff"/>
<rect x="109" y="745" width="1" height="12" fill="#6a6a6a"/>
<rect x="209" y="745" width="1" height="12" fill="#6a6a6a"/>
<rect x="313" y="745" width="1" height="12" fill="#6a6a6a"/>
<rect x="625" y="745" width="1" height="12" fill="#6a6a6a"/>
<rect x="717" y="745" width="1" height="12" fill="#6a6a6a"/>
<rect x="809" y="745" width="1" height="12" fill="#6a6a6a"/>
<rect x="881" y="745" width="1" height="12" fill="#6a6a6a"/>
<rect x="961" y="745" width="1" height="12" fill="#6a6a6a"/>
<rect x="1041" y="745" width="1" height="12" fill="#6a6a6a"/>
<rect x="1121" y="745" width="1" height="12" fill="#6a6a6a"/>
<rect x="1197" y="745" width="1" height="12" fill="#6a6a6a"/>
<rect x="1269" y="745" width="1" height="12" fill="#6a6a6a"/>
<rect x="1353" y="745" width="1" height="12" fill="#6a6a6a"/>
</g>
<text class="tab" x="17.3" y="755.7" textLength="79.9" lengthAdjust="spacingAndGlyphs">EURUSD,Daily</text>
<text class="tab" x="119" y="755.7" textLength="79.0" lengthAdjust="spacingAndGlyphs">USDCHF,Daily</text>
<text class="tab" x="219.8" y="755.7" textLength="82.2" lengthAdjust="spacingAndGlyphs">AUDUSD,Daily</text>
<text class="tab" x="324" y="755.7" textLength="80.8" lengthAdjust="spacingAndGlyphs">USDCAD,Daily</text>
<text class="tab" x="532.8" y="755.7" textLength="80.7" lengthAdjust="spacingAndGlyphs">EURUSD,Daily</text>
<text class="tab" x="634.8" y="755.7" textLength="71.0" lengthAdjust="spacingAndGlyphs">GBPUSD,M5</text>
<text class="tab" x="727.8" y="755.7" textLength="68.7" lengthAdjust="spacingAndGlyphs">XAUUSD,H1</text>
<text class="tab" x="820" y="755.7" textLength="49.4" lengthAdjust="spacingAndGlyphs">HK50,H1</text>
<text class="tab" x="892.2" y="755.7" textLength="56.4" lengthAdjust="spacingAndGlyphs">UK100,H1</text>
<text class="tab" x="972.2" y="755.7" textLength="56.4" lengthAdjust="spacingAndGlyphs">UK100,H1</text>
<text class="tab" x="1051.9" y="755.7" textLength="56.4" lengthAdjust="spacingAndGlyphs">GER30,H1</text>
<text class="tab" x="1131.3" y="755.7" textLength="53.9" lengthAdjust="spacingAndGlyphs">FRA40,H1</text>
<text class="tab" x="1207.2" y="755.7" textLength="50.6" lengthAdjust="spacingAndGlyphs">USOil,H1</text>
<text class="tab" x="1279.2" y="755.7" textLength="62.6" lengthAdjust="spacingAndGlyphs">USDJPY,H1</text>
<text class="taba" x="427.3" y="755.7" textLength="82.8" lengthAdjust="spacingAndGlyphs">USDCNH,Daily</text>
<path d="M1616 746 L1616 754 L1611 750 Z" fill="#8a8a8a"/>
<path d="M1630 746 L1630 754 L1635 750 Z" fill="#8a8a8a"/>
</svg></body></html>
